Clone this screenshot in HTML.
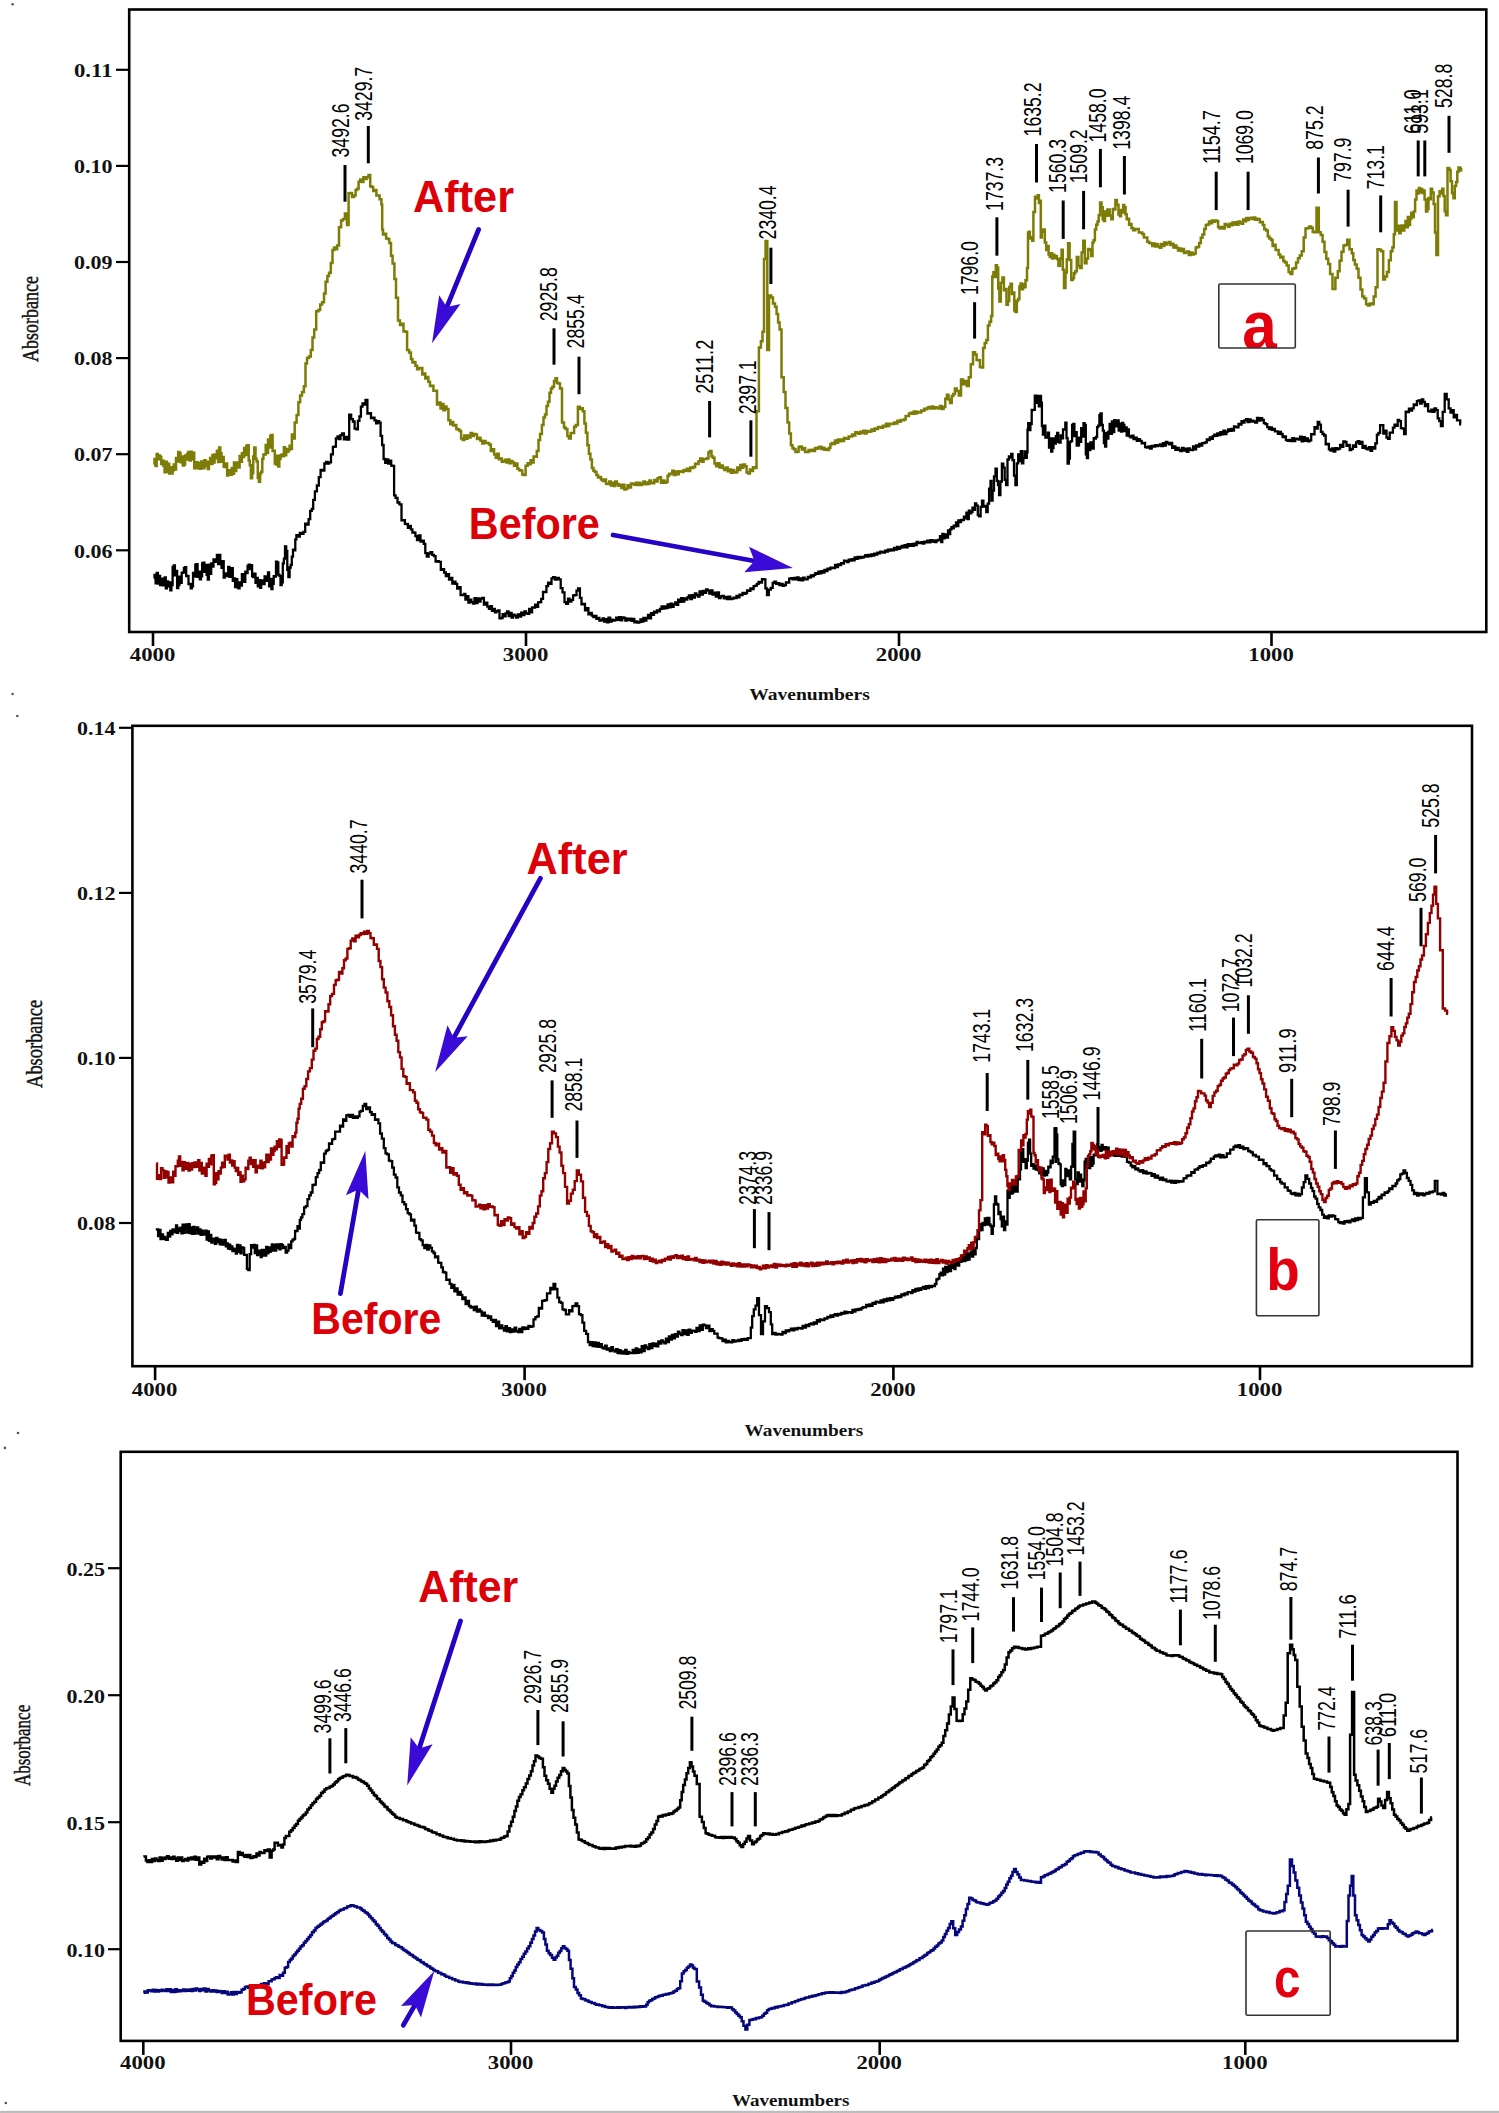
<!DOCTYPE html>
<html><head><meta charset="utf-8"><title>FTIR spectra</title>
<style>html,body{margin:0;padding:0;background:#fff;}svg{display:block;}</style>
</head><body>
<svg width="1499" height="2113" viewBox="0 0 1499 2113">
<rect width="100%" height="100%" fill="#fff"/>
<line x1="116" y1="69.8" x2="129.2" y2="69.8" stroke="#000" stroke-width="2.2" stroke-linecap="butt"/>
<text x="112.5" y="77" font-family="'Liberation Serif', serif" font-size="18" font-weight="bold" fill="#111" textLength="38.5" lengthAdjust="spacingAndGlyphs" text-anchor="end">0.11</text>
<line x1="116" y1="165.9" x2="129.2" y2="165.9" stroke="#000" stroke-width="2.2" stroke-linecap="butt"/>
<text x="112.5" y="173.1" font-family="'Liberation Serif', serif" font-size="18" font-weight="bold" fill="#111" textLength="38.5" lengthAdjust="spacingAndGlyphs" text-anchor="end">0.10</text>
<line x1="116" y1="262" x2="129.2" y2="262" stroke="#000" stroke-width="2.2" stroke-linecap="butt"/>
<text x="112.5" y="269.2" font-family="'Liberation Serif', serif" font-size="18" font-weight="bold" fill="#111" textLength="38.5" lengthAdjust="spacingAndGlyphs" text-anchor="end">0.09</text>
<line x1="116" y1="358.1" x2="129.2" y2="358.1" stroke="#000" stroke-width="2.2" stroke-linecap="butt"/>
<text x="112.5" y="365.3" font-family="'Liberation Serif', serif" font-size="18" font-weight="bold" fill="#111" textLength="38.5" lengthAdjust="spacingAndGlyphs" text-anchor="end">0.08</text>
<line x1="116" y1="454.2" x2="129.2" y2="454.2" stroke="#000" stroke-width="2.2" stroke-linecap="butt"/>
<text x="112.5" y="461.4" font-family="'Liberation Serif', serif" font-size="18" font-weight="bold" fill="#111" textLength="38.5" lengthAdjust="spacingAndGlyphs" text-anchor="end">0.07</text>
<line x1="116" y1="550.3" x2="129.2" y2="550.3" stroke="#000" stroke-width="2.2" stroke-linecap="butt"/>
<text x="112.5" y="557.5" font-family="'Liberation Serif', serif" font-size="18" font-weight="bold" fill="#111" textLength="38.5" lengthAdjust="spacingAndGlyphs" text-anchor="end">0.06</text>
<line x1="153" y1="632" x2="153" y2="646" stroke="#000" stroke-width="2.6" stroke-linecap="butt"/>
<text x="152.5" y="661" font-family="'Liberation Serif', serif" font-size="18" font-weight="bold" fill="#111" textLength="45.5" lengthAdjust="spacingAndGlyphs" text-anchor="middle">4000</text>
<line x1="526" y1="632" x2="526" y2="646" stroke="#000" stroke-width="2.6" stroke-linecap="butt"/>
<text x="525.5" y="661" font-family="'Liberation Serif', serif" font-size="18" font-weight="bold" fill="#111" textLength="45.5" lengthAdjust="spacingAndGlyphs" text-anchor="middle">3000</text>
<line x1="899" y1="632" x2="899" y2="646" stroke="#000" stroke-width="2.6" stroke-linecap="butt"/>
<text x="898.5" y="661" font-family="'Liberation Serif', serif" font-size="18" font-weight="bold" fill="#111" textLength="45.5" lengthAdjust="spacingAndGlyphs" text-anchor="middle">2000</text>
<line x1="1271.5" y1="632" x2="1271.5" y2="646" stroke="#000" stroke-width="2.6" stroke-linecap="butt"/>
<text x="1271" y="661" font-family="'Liberation Serif', serif" font-size="18" font-weight="bold" fill="#111" textLength="45.5" lengthAdjust="spacingAndGlyphs" text-anchor="middle">1000</text>
<rect x="129.2" y="9.5" width="1357.1" height="622.5" fill="none" stroke="#000" stroke-width="2.6"/>
<text x="749.2" y="700" font-family="'Liberation Serif', serif" font-size="17" font-weight="bold" fill="#111" textLength="120.6" lengthAdjust="spacingAndGlyphs" text-anchor="start">Wavenumbers</text>
<text transform="translate(37.6 361.9) rotate(-90)" font-family="'Liberation Serif', serif" font-size="24" font-weight="normal" fill="#111" textLength="86" lengthAdjust="spacingAndGlyphs" stroke="#111" stroke-width="0.45">Absorbance</text>
<polyline points="153.9,578.2 154.5,578.2 154.5,574.8 155.6,574.8 155.6,583.3 156.7,583.3 156.7,572.8 157.9,572.8 157.9,583.5 159,583.5 159,576 160.1,576 160.1,585 161.3,585 161.3,578.7 162.4,578.7 162.4,585.3 163.5,585.3 163.5,581.6 164.7,581.6 164.7,577.3 165.8,577.3 165.8,588.3 166.9,588.3 166.9,581.4 168.1,581.4 168.1,586.4 169.2,586.4 169.2,582.4 170.3,582.4 170.3,590.4 171.4,590.4 171.4,585 172.6,585 172.6,566.9 173.8,566.9 173.8,565.3 174.9,565.3 174.9,575.4 176,575.4 176,570.9 177.1,570.9 177.1,588.2 178.2,588.2 178.2,585 179.4,585 179.4,576.7 180.5,576.7 180.5,582.9 181.7,582.9 181.7,572.8 182.8,572.8 182.8,572.5 183.9,572.5 183.9,568 185.1,568 185.1,567.2 186.2,567.2 186.2,576.2 187.3,576.2 187.3,576 188.5,576 188.5,584.1 189.6,584.1 189.6,583.8 190.7,583.8 190.7,588.4 191.9,588.4 191.9,586.3 193,586.3 193,572.8 194.2,572.8 194.2,576.6 195.3,576.6 195.3,564.6 196.5,564.6 196.5,564.1 197.6,564.1 197.6,576.8 198.7,576.8 198.7,571.6 199.8,571.6 199.8,579.3 201,579.3 201,576.4 202.1,576.4 202.1,563.5 203.3,563.5 203.3,562.6 204.4,562.6 204.4,571.9 205.5,571.9 205.5,565 206.6,565 206.6,574.8 207.8,574.8 207.8,579.7 208.9,579.7 208.9,564.6 210.1,564.6 210.1,573.8 211.2,573.8 211.2,563.5 212.3,563.5 212.3,566.7 213.5,566.7 213.5,559.4 214.6,559.4 214.6,560.1 215.8,560.1 215.8,561.8 216.9,561.8 216.9,554.9 218.1,554.9 218.1,564.2 219.2,564.2 219.2,554.9 220.3,554.9 220.3,561.2 221.5,561.2 221.5,567.9 222.6,567.9 222.6,561.2 223.7,561.2 223.7,577.5 224.8,577.5 224.8,574.8 226,574.8 226,573.3 227.1,573.3 227.1,576.2 228.2,576.2 228.2,567 229.4,567 229.4,576.8 230.5,576.8 230.5,572.5 231.7,572.5 231.7,568.1 232.8,568.1 232.8,580.8 233.9,580.8 233.9,578.4 235.1,578.4 235.1,587.2 236.2,587.2 236.2,579.2 237.3,579.2 237.3,587.3 238.5,587.3 238.5,588.4 239.6,588.4 239.6,582.5 240.8,582.5 240.8,585.5 241.9,585.5 241.9,574.1 243,574.1 243,579.3 244.2,579.3 244.2,581.9 245.3,581.9 245.3,571.7 246.4,571.7 246.4,573 247.6,573 247.6,565.9 248.7,565.9 248.7,564.6 249.9,564.6 249.9,569.1 251,569.1 251,565.1 252.1,565.1 252.1,576.1 253.2,576.1 253.2,577.1 254.4,577.1 254.4,573.7 255.5,573.7 255.5,582.8 256.7,582.8 256.7,577.8 257.8,577.8 257.8,586.4 258.9,586.4 258.9,580.1 260.1,580.1 260.1,587.8 261.2,587.8 261.2,583.9 262.4,583.9 262.4,580.5 263.5,580.5 263.5,584.1 264.6,584.1 264.6,576.5 265.7,576.5 265.7,577.1 266.9,577.1 266.9,580.9 268,580.9 268,572.5 269.1,572.5 269.1,586.3 270.3,586.3 270.3,578.8 271.4,578.8 271.4,589.1 272.5,589.1 272.5,583.9 273.7,583.9 273.7,576.2 274.8,576.2 274.8,576.5 276,576.5 276,561.6 277.1,561.6 277.1,562.3 278.3,562.3 278.3,574.7 279.4,574.7 279.4,575.8 280.5,575.8 280.5,585 281.7,585 281.7,582.3 282.8,582.3 282.8,563.4 283.9,563.4 283.9,558.6 285,558.6 285,546.4 286.2,546.4 286.2,551 287.3,551 287.3,569.9 288.4,569.9 288.4,577.1 289.6,577.1 289.6,567.5 290.7,567.5 290.7,564.9 291.8,564.9 291.8,556.6 293,556.6 293,549.6 294.1,549.6 294.1,550.4 295.3,550.4 295.3,539.4 296.4,539.4 296.4,535.1 297.9,535.1 297.9,536.7 299.8,536.7 299.8,532.9 301.7,532.9 301.7,533.9 303.5,533.9 303.5,531.8 305.2,531.8 305.2,523.7 306.9,523.7 306.9,524.6 308.6,524.6 308.6,519.2 310.2,519.2 310.2,510.8 311.8,510.8 311.8,508.9 313.2,508.9 313.2,499.8 314.9,499.8 314.9,491.3 316.9,491.3 316.9,485.5 318.8,485.5 318.8,477.1 320.6,477.1 320.6,469.8 322.5,469.8 322.5,470.6 324.4,470.6 324.4,463.5 326.1,463.5 326.1,462 327.6,462 327.6,463.7 329.1,463.7 329.1,462.4 331,462.4 331,454.4 332.9,454.4 332.9,446.8 334.4,446.8 334.4,446.6 335.9,446.6 335.9,438.5 337.5,438.5 337.5,436.4 339,436.4 339,439.1 340.5,439.1 340.5,435.1 342.1,435.1 342.1,433.5 343.9,433.5 343.9,439.3 345.6,439.3 345.6,437 347.2,437 347.2,439.6 349.2,439.6 349.2,414.7 351.2,414.7 351.2,419.1 352.9,419.1 352.9,421.5 354.6,421.5 354.6,428.6 356.4,428.6 356.4,429.4 357.9,429.4 357.9,420.8 359.4,420.8 359.4,416.5 360.9,416.5 360.9,406.7 362.5,406.7 362.5,403.3 364,403.3 364,404.7 365.5,404.7 365.5,399.9 367.4,399.9 367.4,413.5 369.4,413.5 369.4,413.2 371,413.2 371,418.1 372.8,418.1 372.8,417.7 374.5,417.7 374.5,420.3 376.1,420.3 376.1,423.4 377.6,423.4 377.6,421.2 379.1,421.2 379.1,422.6 380.6,422.6 380.6,435.8 382.1,435.8 382.1,445 383.6,445 383.6,459 385.2,459 385.2,462.8 386.7,462.8 386.7,459.3 388.2,459.3 388.2,463.6 389.7,463.6 389.7,460.7 391.2,460.7 391.2,465.6 392.7,465.6 392.7,465.8 394.1,465.8 394.1,495.3 395.6,495.3 395.6,497.8 397.5,497.8 397.5,502.5 399.4,502.5 399.4,504.4 401.5,504.4 401.5,520.3 403.4,520.3 403.4,520.2 404.9,520.2 404.9,523.9 406.4,523.9 406.4,524 407.9,524 407.9,527.8 409.4,527.8 409.4,526 410.9,526 410.9,529.4 412.4,529.4 412.4,532.5 413.9,532.5 413.9,532.6 415.4,532.6 415.4,536.2 417,536.2 417,540 418.8,540 418.8,535.5 420.5,535.5 420.5,541.7 422.1,541.7 422.1,540.7 423.8,540.7 423.8,543.8 425.3,543.8 425.3,553.2 426.8,553.2 426.8,556.6 428.6,556.6 428.6,553.5 430.4,553.5 430.4,552.1 432.2,552.1 432.2,554.9 433.9,554.9 433.9,556.2 435.6,556.2 435.6,561.7 437.4,561.7 437.4,561.2 439,561.2 439,561.8 440.8,561.8 440.8,569.8 442.5,569.8 442.5,569.2 444.1,569.2 444.1,572.5 445.8,572.5 445.8,576.2 447.4,576.2 447.4,574.1 449,574.1 449,579.7 450.6,579.7 450.6,577.8 452.3,577.8 452.3,583.6 453.9,583.6 453.9,581.6 455.5,581.6 455.5,583.9 457.2,583.9 457.2,588.6 458.9,588.6 458.9,587.2 460.6,587.2 460.6,595.1 462.3,595.1 462.3,595.2 463.9,595.2 463.9,594 465.4,594 465.4,599.7 466.9,599.7 466.9,596.2 468.4,596.2 468.4,602.6 469.9,602.6 469.9,599.6 471.4,599.6 471.4,602.1 473,602.1 473,603.7 474.5,603.7 474.5,598.2 476,598.2 476,603.1 477.5,603.1 477.5,598.3 479,598.3 479,601.7 480.5,601.7 480.5,598.7 482.2,598.7 482.2,598 483.9,598 483.9,604.6 485.6,604.6 485.6,602.6 487.3,602.6 487.3,606.6 488.9,606.6 488.9,608.8 490.4,608.8 490.4,606.2 491.9,606.2 491.9,610.9 493.4,610.9 493.4,608.9 494.9,608.9 494.9,612.4 496.4,612.4 496.4,611.1 498,611.1 498,610.4 499.5,610.4 499.5,618.4 501,618.4 501,618 502.6,618 502.6,614.2 504.1,614.2 504.1,616.4 505.6,616.4 505.6,613.4 507.1,613.4 507.1,611.5 508.6,611.5 508.6,616.1 510.1,616.1 510.1,613 511.6,613 511.6,617.5 513.1,617.5 513.1,614.7 514.6,614.7 514.6,615.7 516.2,615.7 516.2,617.7 517.8,617.7 517.8,614.5 519.5,614.5 519.5,616.7 521.1,616.7 521.1,612.7 522.7,612.7 522.7,615.1 524.4,615.1 524.4,611.5 526,611.5 526,613.4 527.6,613.4 527.6,613.9 529.1,613.9 529.1,608.9 530.6,608.9 530.6,612.4 532.1,612.4 532.1,607.3 533.6,607.3 533.6,607.6 535.1,607.6 535.1,604.6 536.6,604.6 536.6,606.8 538.1,606.8 538.1,602.4 539.6,602.4 539.6,602.1 541.2,602.1 541.2,598.9 543,598.9 543,591.9 544.6,591.9 544.6,592 546.4,592 546.4,586.2 548.1,586.2 548.1,582.6 549.8,582.6 549.8,583.9 551.5,583.9 551.5,578.3 553.1,578.3 553.1,577.1 555,577.1 555,579.6 556.9,579.6 556.9,577.8 558.8,577.8 558.8,579.3 560.7,579.3 560.7,588.2 562.5,588.2 562.5,592.4 564.5,592.4 564.5,602.1 566.2,602.1 566.2,603.8 568,603.8 568,598.7 569.6,598.7 569.6,601.6 571.4,601.6 571.4,599.8 573.1,599.8 573.1,595.3 574.8,595.3 574.8,595.1 576.5,595.1 576.5,590.6 578.1,590.6 578.1,588.4 579.9,588.4 579.9,597.8 581.5,597.8 581.5,604.3 583.2,604.3 583.2,604 585,604 585,610.3 586.6,610.3 586.6,608.1 588.4,608.1 588.4,614.3 590,614.3 590,612.8 591.8,612.8 591.8,615.7 593.4,615.7 593.4,617.2 594.9,617.2 594.9,615.9 596.4,615.9 596.4,618.9 597.9,618.9 597.9,617.9 599.4,617.9 599.4,620.7 600.9,620.7 600.9,620.2 602.5,620.2 602.5,618.5 604,618.5 604,621.6 605.5,621.6 605.5,619.2 607,619.2 607,622.4 608.5,622.4 608.5,617.7 610.1,617.7 610.1,621.5 611.6,621.5 611.6,619.7 613.1,619.7 613.1,620.6 614.6,620.6 614.6,620.2 616.2,620.2 616.2,617.6 617.7,617.6 617.7,619.9 619.2,619.9 619.2,617.2 620.7,617.2 620.7,620.3 622.2,620.3 622.2,617.3 623.7,617.3 623.7,618 625.3,618 625.3,620.6 626.8,620.6 626.8,618.6 628.3,618.6 628.3,620.2 629.8,620.2 629.8,618.7 631.3,618.7 631.3,620.9 632.8,620.9 632.8,618.9 634.3,618.9 634.3,622.4 635.8,622.4 635.8,621.3 637.3,621.3 637.3,622.5 638.9,622.5 638.9,622.2 640.4,622.2 640.4,619.3 641.9,619.3 641.9,621.6 643.4,621.6 643.4,617.8 644.9,617.8 644.9,620.5 646.4,620.5 646.4,618 648,618 648,614.9 649.5,614.9 649.5,618.4 651,618.4 651,613.1 652.5,613.1 652.5,614.8 654,614.8 654,611.6 655.5,611.6 655.5,612.7 657,612.7 657,610.5 658.5,610.5 658.5,611.3 660,611.3 660,608.9 661.6,608.9 661.6,606.5 663.1,606.5 663.1,608.6 664.6,608.6 664.6,606.4 666.1,606.4 666.1,608 667.6,608 667.6,604.5 669.1,604.5 669.1,607.3 670.6,607.3 670.6,603.6 672.1,603.6 672.1,606.8 673.6,606.8 673.6,604.3 675.2,604.3 675.2,602.3 676.7,602.3 676.7,604.8 678.2,604.8 678.2,599.7 679.7,599.7 679.7,601.8 681.2,601.8 681.2,598.2 682.8,598.2 682.8,601.7 684.3,601.7 684.3,598.4 685.8,598.4 685.8,599.6 687.3,599.6 687.3,597.5 688.9,597.5 688.9,595.4 690.4,595.4 690.4,599 691.9,599 691.9,595.2 693.4,595.2 693.4,597.6 694.9,597.6 694.9,593.3 696.4,593.3 696.4,595.2 697.9,595.2 697.9,596.6 699.5,596.6 699.5,591.5 701.2,591.5 701.2,594.6 702.8,594.6 702.8,590.9 704.4,590.9 704.4,592.8 706.1,592.8 706.1,589.4 707.7,589.4 707.7,590.7 709.3,590.7 709.3,593.5 710.9,593.5 710.9,590.4 712.5,590.4 712.5,594.7 714.1,594.7 714.1,592.7 715.8,592.7 715.8,596.5 717.4,596.5 717.4,592.5 719,592.5 719,598.1 720.6,598.1 720.6,596.4 722.2,596.4 722.2,595.8 723.8,595.8 723.8,598.3 725.4,598.3 725.4,596.8 727,596.8 727,599.1 728.7,599.1 728.7,596.7 730.3,596.7 730.3,599 731.9,599 731.9,598.7 733.5,598.7 733.5,597.7 735,597.7 735,598.2 736.5,598.2 736.5,595.9 738,595.9 738,597.4 739.5,597.4 739.5,594.7 741,594.7 741,595.2 742.5,595.2 742.5,593 744,593 744,593.9 745.5,593.9 745.5,593 747.1,593 747.1,590.5 748.7,590.5 748.7,590.8 750.4,590.8 750.4,588.4 752,588.4 752,589 753.6,589 753.6,586.1 755.3,586.1 755.3,585.6 756.9,585.6 756.9,583.9 758.6,583.9 758.6,581.9 760.2,581.9 760.2,582.7 762,582.7 762,579.2 763.6,579.2 763.6,579.3 765.4,579.3 765.4,588.4 767,588.4 767,595.2 768.8,595.2 768.8,589.6 770.8,589.6 770.8,587.8 772.7,587.8 772.7,582.8 774.4,582.8 774.4,581.7 776,581.7 776,583.8 777.7,583.8 777.7,583.2 779.3,583.2 779.3,585 780.9,585 780.9,583.8 782.6,583.8 782.6,585.8 784.2,585.8 784.2,585 785.9,585 785.9,582.3 787.5,582.3 787.5,582.5 789.2,582.5 789.2,578.6 790.9,578.6 790.9,578.2 792.6,578.2 792.6,579.3 794.1,579.3 794.1,577.8 795.6,577.8 795.6,579.3 797.1,579.3 797.1,577.4 798.6,577.4 798.6,580.2 800.1,580.2 800.1,578.4 801.6,578.4 801.6,580.4 803.1,580.4 803.1,577.7 804.6,577.7 804.6,579.3 806.2,579.3 806.2,579.4 807.7,579.4 807.7,576.8 809.2,576.8 809.2,577.5 810.7,577.5 810.7,575.4 812.2,575.4 812.2,576.4 813.7,576.4 813.7,574.8 815.3,574.8 815.3,573.2 816.8,573.2 816.8,573.9 818.3,573.9 818.3,571.6 819.8,571.6 819.8,573.4 821.3,573.4 821.3,571.2 822.8,571.2 822.8,572.6 824.4,572.6 824.4,569.9 825.9,569.9 825.9,571.1 827.4,571.1 827.4,568.6 828.9,568.6 828.9,569.4 830.4,569.4 830.4,567.7 831.9,567.7 831.9,568 833.5,568 833.5,568 835,568 835,565 836.5,565 836.5,567.1 838,567.1 838,564.4 839.5,564.4 839.5,565.1 841,565.1 841,563.1 842.5,563.1 842.5,563.5 844,563.5 844,560.7 845.5,560.7 845.5,561.2 847.1,561.2 847.1,562.2 848.6,562.2 848.6,559.6 850.1,559.6 850.1,560.7 851.6,560.7 851.6,559.2 853.1,559.2 853.1,560.3 854.6,560.3 854.6,557.5 856.2,557.5 856.2,558.9 857.7,558.9 857.7,556.9 859.2,556.9 859.2,558 860.7,558 860.7,556.9 862.2,556.9 862.2,557.5 863.7,557.5 863.7,556.6 865.3,556.6 865.3,555.1 866.8,555.1 866.8,556.5 868.3,556.5 868.3,554.8 869.8,554.8 869.8,556.1 871.3,556.1 871.3,554.4 872.8,554.4 872.8,555.5 874.3,555.5 874.3,553.6 875.8,553.6 875.8,554.5 877.3,554.5 877.3,552.7 878.8,552.7 878.8,553.3 880.3,553.3 880.3,551.6 881.8,551.6 881.8,552.1 883.4,552.1 883.4,552.5 884.9,552.5 884.9,550.6 886.4,550.6 886.4,551.7 887.9,551.7 887.9,549.7 889.4,549.7 889.4,550.6 890.9,550.6 890.9,549.3 892.5,549.3 892.5,550.4 894,550.4 894,548 895.5,548 895.5,549.6 897,549.6 897,547 898.5,547 898.5,548.9 900,548.9 900,547.5 901.6,547.5 901.6,545.8 903.1,545.8 903.1,547.3 904.6,547.3 904.6,545.2 906.1,545.2 906.1,547.3 907.6,547.3 907.6,544.2 909.1,544.2 909.1,545.9 910.7,545.9 910.7,544.2 912.2,544.2 912.2,545.9 913.7,545.9 913.7,543.6 915.2,543.6 915.2,545.2 916.7,545.2 916.7,542 918.2,542 918.2,543 919.8,543 919.8,543.2 921.3,543.2 921.3,542.1 922.8,542.1 922.8,543.6 924.3,543.6 924.3,541.7 925.8,541.7 925.8,542.4 927.3,542.4 927.3,540.6 928.9,540.6 928.9,542.4 930.4,542.4 930.4,540.2 931.9,540.2 931.9,541.7 933.4,541.7 933.4,540.3 934.9,540.3 934.9,542 936.4,542 936.4,540.7 937.8,540.7 937.8,539.9 938.9,539.9 938.9,540.1 940,540.1 940,536.1 941.2,536.1 941.2,542.1 942.3,542.1 942.3,534 943.5,534 943.5,538.3 944.6,538.3 944.6,534.4 945.7,534.4 945.7,536.2 946.9,536.2 946.9,537.7 948,537.7 948,530.5 949.1,530.5 949.1,534 950.2,534 950.2,529.4 951.4,529.4 951.4,527.2 952.5,527.2 952.5,528.4 953.7,528.4 953.7,525.7 954.8,525.7 954.8,526.4 956,526.4 956,522.3 957.1,522.3 957.1,526.2 958.3,526.2 958.3,520.4 959.4,520.4 959.4,522 961,522 961,519.8 962.7,519.8 962.7,520 963.9,520 963.9,516.7 965.1,516.7 965.1,518.4 966.4,518.4 966.4,512.7 967.6,512.7 967.6,519.2 968.8,519.2 968.8,510.6 970,510.6 970,513.4 971.2,513.4 971.2,511.8 972.5,511.8 972.5,507.6 973.7,507.6 973.7,509.8 975,509.8 975,503.5 976.3,503.5 976.3,505.6 977.8,505.6 977.8,515.2 979.2,515.2 979.2,516.3 980.6,516.3 980.6,506.8 982,506.8 982,500.7 983.4,500.7 983.4,506.7 984.9,506.7 984.9,505.9 986.3,505.9 986.3,512 987.7,512 987.7,503.7 989.1,503.7 989.1,488.6 990.5,488.6 990.5,480.8 991.5,480.8 991.5,500.7 992.6,500.7 992.6,490.7 994,490.7 994,476.4 995.5,476.4 995.5,468.7 996.8,468.7 996.8,480.9 998,480.9 998,485 999.1,485 999.1,495 1000.4,495 1000.4,481.5 1001.9,481.5 1001.9,463.7 1003.3,463.7 1003.3,467.7 1004.7,467.7 1004.7,479.9 1006.1,479.9 1006.1,485 1007.5,485 1007.5,459.5 1008.9,459.5 1008.9,456.3 1010,456.3 1010,457.7 1011.2,457.7 1011.2,453.8 1012.5,453.8 1012.5,460.1 1014,460.1 1014,475.7 1015.4,475.7 1015.4,485 1016.8,485 1016.8,463.4 1018.2,463.4 1018.2,454.5 1019.5,454.5 1019.5,461.2 1020.8,461.2 1020.8,451.1 1022,451.1 1022,463.4 1023.3,463.4 1023.3,458.1 1024.5,458.1 1024.5,451.4 1025.7,451.4 1025.7,457.8 1026.8,457.8 1026.8,452.4 1027.5,452.4 1027.5,429.7 1028.2,429.7 1028.2,423.2 1029.3,423.2 1029.3,430 1030.4,430 1030.4,424 1031.7,424 1031.7,410 1033.1,410 1033.1,409.8 1034.8,409.8 1034.8,395.6 1036.5,395.6 1036.5,402.9 1037.6,402.9 1037.6,395.9 1038.8,395.9 1038.8,406.3 1039.9,406.3 1039.9,395.8 1041,395.8 1041,402.7 1041.9,402.7 1041.9,426.1 1042.9,426.1 1042.9,434.5 1044.2,434.5 1044.2,425.6 1045.4,425.6 1045.4,437.6 1046.7,437.6 1046.7,436.8 1047.9,436.8 1047.9,432.7 1049,432.7 1049,447.6 1050.1,447.6 1050.1,438.4 1051.2,438.4 1051.2,451.5 1052.3,451.5 1052.3,448.1 1053.5,448.1 1053.5,438.5 1054.7,438.5 1054.7,443.6 1055.9,443.6 1055.9,436.1 1057.1,436.1 1057.1,432.9 1058.2,432.9 1058.2,441.8 1059.4,441.8 1059.4,442.5 1060.6,442.5 1060.6,435.4 1061.8,435.4 1061.8,438.4 1063,438.4 1063,429.4 1064.1,429.4 1064.1,429.7 1065.3,429.7 1065.3,422.6 1066.5,422.6 1066.5,438.2 1067.6,438.2 1067.6,463.5 1068.8,463.5 1068.8,458.6 1069.9,458.6 1069.9,441.8 1071,441.8 1071,441.2 1072.1,441.2 1072.1,424.9 1073.3,424.9 1073.3,424 1074.4,424 1074.4,436.1 1075.6,436.1 1075.6,432.2 1076.7,432.2 1076.7,445.7 1077.8,445.7 1077.8,445.3 1079,445.3 1079,437.7 1080.1,437.7 1080.1,441.9 1081.2,441.9 1081.2,428.1 1082.4,428.1 1082.4,436.6 1083.5,436.6 1083.5,423.1 1084.6,423.1 1084.6,424.9 1085.8,424.9 1085.8,454.4 1086.9,454.4 1086.9,458.2 1088,458.2 1088,443.9 1089.2,443.9 1089.2,450.1 1090.3,450.1 1090.3,442.4 1091.4,442.4 1091.4,445.3 1092.6,445.3 1092.6,448.5 1093.7,448.5 1093.7,438.2 1094.8,438.2 1094.8,438.5 1096,438.5 1096,436.9 1097.1,436.9 1097.1,427.1 1098.2,427.1 1098.2,425.7 1099.4,425.7 1099.4,415.2 1100.5,415.2 1100.5,413.5 1101.7,413.5 1101.7,425 1102.8,425 1102.8,430.6 1103.9,430.6 1103.9,443 1105.1,443 1105.1,446.6 1106.2,446.6 1106.2,433 1107.3,433 1107.3,438.6 1108.4,438.6 1108.4,431.7 1109.6,431.7 1109.6,423.8 1110.7,423.8 1110.7,433.9 1111.9,433.9 1111.9,421.3 1113,421.3 1113,432 1114.2,432 1114.2,420.2 1115.3,420.2 1115.3,424.9 1116.5,424.9 1116.5,426.4 1117.6,426.4 1117.6,420.3 1118.7,420.3 1118.7,430.5 1119.8,430.5 1119.8,423.6 1121,423.6 1121,431.5 1122.1,431.5 1122.1,422.9 1123.2,422.9 1123.2,424.9 1124.4,424.9 1124.4,431 1125.5,431 1125.5,427.4 1126.7,427.4 1126.7,435.7 1127.8,435.7 1127.8,429.3 1128.9,429.3 1128.9,436.2 1130.3,436.2 1130.3,437.3 1131.9,437.3 1131.9,435.6 1133.5,435.6 1133.5,439.2 1135.2,439.2 1135.2,437.6 1136.8,437.6 1136.8,440.8 1138.4,440.8 1138.4,439.2 1140,439.2 1140,440.8 1141.7,440.8 1141.7,443.3 1143.4,443.3 1143.4,442.8 1145.1,442.8 1145.1,447.2 1146.8,447.2 1146.8,447.6 1148.5,447.6 1148.5,446.5 1150.1,446.5 1150.1,448.5 1151.7,448.5 1151.7,445.8 1153.3,445.8 1153.3,446.6 1155,446.6 1155,445.2 1156.6,445.2 1156.6,446 1158.2,446 1158.2,445.3 1159.8,445.3 1159.8,444.4 1161.3,444.4 1161.3,446.1 1162.8,446.1 1162.8,443.2 1164.3,443.2 1164.3,445.6 1165.8,445.6 1165.8,441.8 1167.3,441.8 1167.3,443 1168.9,443 1168.9,444.4 1170.5,444.4 1170.5,443 1172.2,443 1172.2,447.9 1173.8,447.9 1173.8,446.5 1175.4,446.5 1175.4,449.8 1177.1,449.8 1177.1,447.9 1178.7,447.9 1178.7,449.9 1180.3,449.9 1180.3,451 1181.9,451 1181.9,447.9 1183.5,447.9 1183.5,450.6 1185.2,450.6 1185.2,448.7 1186.8,448.7 1186.8,451.8 1188.4,451.8 1188.4,448.4 1190,448.4 1190,449.9 1191.6,449.9 1191.6,450.2 1193.1,450.2 1193.1,446.4 1194.6,446.4 1194.6,449.3 1196.1,449.3 1196.1,445.5 1197.7,445.5 1197.7,446.6 1199.2,446.6 1199.2,443.9 1200.7,443.9 1200.7,445.6 1202.2,445.6 1202.2,443.1 1203.7,443.1 1203.7,443 1205.2,443 1205.2,442.3 1206.8,442.3 1206.8,439.5 1208.2,439.5 1208.2,440.1 1209.8,440.1 1209.8,437.4 1211.2,437.4 1211.2,438.8 1212.8,438.8 1212.8,436.2 1214.3,436.2 1214.3,434.6 1215.8,434.6 1215.8,435.9 1217.3,435.9 1217.3,433.4 1218.8,433.4 1218.8,435.2 1220.3,435.2 1220.3,432.1 1221.9,432.1 1221.9,434.4 1223.4,434.4 1223.4,430.7 1224.9,430.7 1224.9,434.1 1226.4,434.1 1226.4,431.7 1228,431.7 1228,429.4 1229.5,429.4 1229.5,430.9 1231,430.9 1231,429 1232.5,429 1232.5,430.5 1234,430.5 1234,426.3 1235.5,426.3 1235.5,427.2 1237,427.2 1237,427.4 1238.5,427.4 1238.5,424 1240,424 1240,424.5 1241.5,424.5 1241.5,421.1 1243,421.1 1243,422.7 1244.5,422.7 1244.5,420.3 1246.1,420.3 1246.1,419.2 1247.6,419.2 1247.6,422.1 1249.1,422.1 1249.1,419.3 1250.6,419.3 1250.6,421.7 1252.1,421.7 1252.1,420.6 1253.6,420.6 1253.6,421.5 1255.2,421.5 1255.2,422.6 1257,422.6 1257,417.9 1258.7,417.9 1258.7,420.7 1260.3,420.7 1260.3,418.1 1262.1,418.1 1262.1,420 1263.8,420 1263.8,423.1 1265.5,423.1 1265.5,424.2 1267.2,424.2 1267.2,427.2 1268.9,427.2 1268.9,429 1270.4,429 1270.4,427.4 1271.9,427.4 1271.9,429.9 1273.4,429.9 1273.4,429 1274.9,429 1274.9,431.4 1276.4,431.4 1276.4,431.3 1277.9,431.3 1277.9,433.9 1279.4,433.9 1279.4,432 1280.9,432 1280.9,434 1282.6,434 1282.6,437.1 1284.2,437.1 1284.2,436.5 1285.9,436.5 1285.9,440.2 1287.7,440.2 1287.7,440.8 1289.3,440.8 1289.3,439.8 1290.8,439.8 1290.8,441 1292.3,441 1292.3,438.2 1293.8,438.2 1293.8,441.2 1295.3,441.2 1295.3,438.7 1296.8,438.7 1296.8,438.8 1298.4,438.8 1298.4,439.5 1300,439.5 1300,436.7 1301.6,436.7 1301.6,441.4 1303.2,441.4 1303.2,437.2 1304.8,437.2 1304.8,440.8 1306.4,440.8 1306.4,438.5 1308,438.5 1308,441.3 1309.6,441.3 1309.6,440.4 1311.2,440.4 1311.2,434.2 1312.8,434.2 1312.8,434.4 1314.5,434.4 1314.5,427.2 1316.1,427.2 1316.1,428.7 1317.7,428.7 1317.7,422 1319.3,422 1319.3,424.7 1320.9,424.7 1320.9,431.8 1322.5,431.8 1322.5,434 1324.1,434 1324.1,435.5 1325.7,435.5 1325.7,444.4 1327.3,444.4 1327.3,443.9 1328.9,443.9 1328.9,449.3 1330.5,449.3 1330.5,450.6 1332.1,450.6 1332.1,448.3 1333.7,448.3 1333.7,451.6 1335.3,451.6 1335.3,448.1 1336.9,448.1 1336.9,449.3 1338.5,449.3 1338.5,448.5 1340.1,448.5 1340.1,445 1341.7,445 1341.7,446.9 1343.3,446.9 1343.3,441.4 1344.9,441.4 1344.9,442 1346.5,442 1346.5,445.9 1348.1,445.9 1348.1,444.9 1349.7,444.9 1349.7,450 1351.3,450 1351.3,448.9 1352.9,448.9 1352.9,445.5 1354.5,445.5 1354.5,446.9 1356.1,446.9 1356.1,442.3 1357.7,442.3 1357.7,441.2 1359.3,441.2 1359.3,443.9 1360.9,443.9 1360.9,441.8 1362.5,441.8 1362.5,447.8 1364.1,447.8 1364.1,445.9 1365.7,445.9 1365.7,448.5 1367.3,448.5 1367.3,449.3 1368.9,449.3 1368.9,447.1 1370.5,447.1 1370.5,450.8 1372.1,450.8 1372.1,447.1 1373.7,447.1 1373.7,448.5 1375.3,448.5 1375.3,443.4 1376.9,443.4 1376.9,434.6 1378.5,434.6 1378.5,432.9 1380.1,432.9 1380.1,425.2 1381.7,425.2 1381.7,425.1 1383.3,425.1 1383.3,433.5 1384.9,433.5 1384.9,430.6 1386.5,430.6 1386.5,437.6 1388.1,437.6 1388.1,438.8 1389.7,438.8 1389.7,432.6 1391.3,432.6 1391.3,432.6 1392.9,432.6 1392.9,427.6 1394.5,427.6 1394.5,424.7 1396.1,424.7 1396.1,425.9 1397.7,425.9 1397.7,420 1399.3,420 1399.3,421.2 1400.9,421.2 1400.9,428.2 1402.5,428.2 1402.5,428.7 1404.1,428.7 1404.1,434 1405.7,434 1405.7,411.6 1407.3,411.6 1407.3,412.2 1408.9,412.2 1408.9,408.6 1410.5,408.6 1410.5,410.6 1412.1,410.6 1412.1,408.4 1413.7,408.4 1413.7,404.5 1415.3,404.5 1415.3,405 1416.9,405 1416.9,401.2 1418.5,401.2 1418.5,400.5 1420.1,400.5 1420.1,403.5 1421.7,403.5 1421.7,399.3 1423.3,399.3 1423.3,402 1424.9,402 1424.9,406.2 1426.5,406.2 1426.5,404.2 1428.1,404.2 1428.1,411.1 1429.7,411.1 1429.7,411.6 1431.3,411.6 1431.3,409.6 1432.9,409.6 1432.9,411.9 1434.5,411.9 1434.5,408.4 1436.1,408.4 1436.1,410.1 1437.7,410.1 1437.7,418.4 1439.3,418.4 1439.3,421.1 1440.9,421.1 1440.9,426 1442.7,426 1442.7,411.8 1444.7,411.8 1444.7,394 1446.7,394 1446.7,399.4 1448.7,399.4 1448.7,408.4 1450.5,408.4 1450.5,412.6 1452.1,412.6 1452.1,410.1 1453.7,410.1 1453.7,417.4 1455.3,417.4 1455.3,415 1457,415 1457,420.4 1458.6,420.4 1458.6,420.3 1460.2,420.3 1460.2,424.4 1461,424.4" fill="none" stroke="#000" stroke-width="2.3" stroke-linejoin="miter" stroke-miterlimit="3" />
<polyline points="153.9,464.6 154.5,464.6 154.5,458.9 155.6,458.9 155.6,465.9 156.7,465.9 156.7,454.1 157.8,454.1 157.8,459.2 158.9,459.2 158.9,455.5 160.1,455.5 160.1,457 161.2,457 161.2,463.9 162.3,463.9 162.3,460.5 163.4,460.5 163.4,465.8 164.6,465.8 164.6,472.2 165.7,472.2 165.7,461.8 166.9,461.8 166.9,472.1 168,472.1 168,463.7 169.2,463.7 169.2,473.6 170.3,473.6 170.3,467.3 171.5,467.3 171.5,473.4 172.6,473.4 172.6,470.3 173.8,470.3 173.8,464.6 174.9,464.6 174.9,469.4 176,469.4 176,457.9 177.1,457.9 177.1,461.6 178.2,461.6 178.2,452 179.4,452 179.4,453 180.5,453 180.5,462.2 181.7,462.2 181.7,456.5 182.8,456.5 182.8,465.5 183.9,465.5 183.9,464.6 185.1,464.6 185.1,455.4 186.2,455.4 186.2,459.5 187.3,459.5 187.3,453.7 188.4,453.7 188.4,452 189.6,452 189.6,460.4 190.7,460.4 190.7,451.8 191.9,451.8 191.9,459.3 193,459.3 193,452.7 194.2,452.7 194.2,468.3 195.3,468.3 195.3,463.5 196.5,463.5 196.5,462.3 197.6,462.3 197.6,468.2 198.7,468.2 198.7,463.3 199.9,463.3 199.9,468.7 201,468.7 201,461.6 202.1,461.6 202.1,466.9 203.3,466.9 203.3,468.2 204.4,468.2 204.4,460.2 205.5,460.2 205.5,466 206.7,466 206.7,461.8 207.8,461.8 207.8,469.1 208.9,469.1 208.9,462.4 210.1,462.4 210.1,458.1 211.2,458.1 211.2,464.1 212.4,464.1 212.4,455.1 213.5,455.1 213.5,462.6 214.6,462.6 214.6,454.5 215.8,454.5 215.8,458.2 216.9,458.2 216.9,450.7 218.1,450.7 218.1,461.9 219.2,461.9 219.2,447.4 220.3,447.4 220.3,453.3 221.5,453.3 221.5,461.7 222.6,461.7 222.6,456.9 223.7,456.9 223.7,466.7 224.8,466.7 224.8,466.9 226,466.9 226,463.4 227.1,463.4 227.1,475.4 228.3,475.4 228.3,470.3 229.4,470.3 229.4,473.7 230.6,473.7 230.6,474.8 231.7,474.8 231.7,467.9 232.8,467.9 232.8,473.8 234,473.8 234,462.6 235.1,462.6 235.1,471.1 236.2,471.1 236.2,465.8 237.4,465.8 237.4,462.5 238.5,462.5 238.5,467.6 239.6,467.6 239.6,456 240.8,456 240.8,461.7 241.9,461.7 241.9,453.2 243,453.2 243,457.1 244.1,457.1 244.1,448.1 245.3,448.1 245.3,455 246.4,455 246.4,445.7 247.5,445.7 247.5,445.3 248.7,445.3 248.7,460.6 249.8,460.6 249.8,465.2 250.9,465.2 250.9,478.3 252.1,478.3 252.1,473.3 253.2,473.3 253.2,456.6 254.3,456.6 254.3,447.6 255.5,447.6 255.5,458.8 256.6,458.8 256.6,461.6 257.8,461.6 257.8,478 258.9,478 258.9,481.7 260.1,481.7 260.1,473.5 261.2,473.5 261.2,471.8 262.3,471.8 262.3,458.9 263.4,458.9 263.4,454.4 264.6,454.4 264.6,454.4 265.7,454.4 265.7,445 266.9,445 266.9,452.9 268,452.9 268,439.5 269.1,439.5 269.1,447.4 270.3,447.4 270.3,435.8 271.4,435.8 271.4,435.1 272.6,435.1 272.6,451.1 273.7,451.1 273.7,450.8 274.8,450.8 274.8,463.5 276,463.5 276,464.5 277.1,464.5 277.1,455.7 278.2,455.7 278.2,466.5 279.3,466.5 279.3,458.9 280.5,458.9 280.5,455.6 281.6,455.6 281.6,454.4 282.8,454.4 282.8,456.3 283.9,456.3 283.9,447.3 285,447.3 285,455.2 286.2,455.2 286.2,448.9 287.3,448.9 287.3,451.8 288.4,451.8 288.4,449.9 289.6,449.9 289.6,445.8 290.7,445.8 290.7,448.9 291.9,448.9 291.9,434.4 293,434.4 293,438.5 294.7,438.5 294.7,422.6 296.6,422.6 296.6,414.9 298.4,414.9 298.4,402.2 300.1,402.2 300.1,395.5 302,395.5 302,392 303.9,392 303.9,386.3 305.5,386.3 305.5,363.5 307,363.5 307,357.9 308.9,357.9 308.9,356.5 310.8,356.5 310.8,349.9 312.5,349.9 312.5,337.6 314.2,337.6 314.2,329.5 316.2,329.5 316.2,311.3 318.4,311.3 318.4,310 320.2,310 320.2,304.4 322.1,304.4 322.1,302.2 324,302.2 324,293.5 325.6,293.5 325.6,281.8 327.4,281.8 327.4,275.9 329,275.9 329,272.7 330.8,272.7 330.8,263.1 332.5,263.1 332.5,250 334.1,250 334.1,247.5 335.6,247.5 335.6,249.3 337.1,249.3 337.1,245.4 339,245.4 339,227.2 341.1,227.2 341.1,220.4 343,220.4 343,218.9 344.9,218.9 344.9,213.6 347,213.6 347,225 348.6,225 348.6,193.2 350.1,193.2 350.1,192.9 352,192.9 352,196.9 353.9,196.9 353.9,195.4 355.6,195.4 355.6,189.9 357.1,189.9 357.1,188.7 358.6,188.7 358.6,181.8 360.2,181.8 360.2,179.4 361.8,179.4 361.8,181.9 363.4,181.9 363.4,177.2 365,177.2 365,179 366.6,179 366.6,177.3 368.5,177.3 368.5,175 370.2,175 370.2,186.3 371.6,186.3 371.6,187.1 373.2,187.1 373.2,190.9 374.8,190.9 374.8,189.9 376.4,189.9 376.4,195.4 378,195.4 378,195.4 379.6,195.4 379.6,199.3 381.4,199.3 381.4,204.5 382.2,204.5 382.2,229.5 383,229.5 383,234.5 384.6,234.5 384.6,233.7 386.1,233.7 386.1,238.5 387.7,238.5 387.7,239.1 389.3,239.1 389.3,243.1 391,243.1 391,255.8 392.6,255.8 392.6,263.6 394.4,263.6 394.4,279.1 396,279.1 396,297.7 398,297.7 398,320.4 400,320.4 400,324.9 401.8,324.9 401.8,323.7 403.5,323.7 403.5,331.3 405.1,331.3 405.1,331.7 407.1,331.7 407.1,349.9 409.1,349.9 409.1,352.5 410.9,352.5 410.9,359 412.4,359 412.4,362.5 413.9,362.5 413.9,361.9 415.4,361.9 415.4,365.8 417.1,365.8 417.1,369.2 419.1,369.2 419.1,368.1 420.8,368.1 420.8,367.9 422.3,367.9 422.3,374.6 423.8,374.6 423.8,373.6 425.3,373.6 425.3,378.6 426.8,378.6 426.8,377.1 428.3,377.1 428.3,381.7 430,381.7 430,385.9 431.6,385.9 431.6,385.8 433.4,385.8 433.4,390.8 435,390.8 435,390.8 437,390.8 437,404.4 439,404.4 439,402.4 440.5,402.4 440.5,408.4 442,408.4 442,404 443.5,404 443.5,410.2 445,410.2 445,406.4 446.5,406.4 446.5,409 448.4,409 448.4,420.3 450.3,420.3 450.3,424.3 451.8,424.3 451.8,421.9 453.3,421.9 453.3,425.6 454.8,425.6 454.8,425 456.3,425 456.3,429.1 457.8,429.1 457.8,429.4 459.5,429.4 459.5,431.1 461.1,431.1 461.1,438.5 462.8,438.5 462.8,440.1 464.3,440.1 464.3,435.5 465.9,435.5 465.9,438.8 467.5,438.8 467.5,435.5 469,435.5 469,437.5 470.6,437.5 470.6,432.9 472.2,432.9 472.2,436 473.7,436 473.7,434 475.4,434 475.4,434.6 477,434.6 477,438.9 478.8,438.9 478.8,437.8 480.5,437.8 480.5,440.8 482.2,440.8 482.2,443.5 483.9,443.5 483.9,441.1 485.6,441.1 485.6,443.1 487.3,443.1 487.3,443 489,443 489,444.6 490.8,444.6 490.8,450.9 492.5,450.9 492.5,449.2 494.1,449.2 494.1,454.4 495.8,454.4 495.8,457.7 497.3,457.7 497.3,453.8 498.8,453.8 498.8,459.2 500.3,459.2 500.3,458.4 501.8,458.4 501.8,461.8 503.3,461.8 503.3,461.2 504.9,461.2 504.9,459.8 506.4,459.8 506.4,462.5 507.9,462.5 507.9,459.6 509.4,459.6 509.4,463.3 510.9,463.3 510.9,461.1 512.4,461.1 512.4,462.4 514,462.4 514,465.7 515.7,465.7 515.7,463.5 517.4,463.5 517.4,468.8 519.1,468.8 519.1,470.3 520.8,470.3 520.8,470.5 522.2,470.5 522.2,474.5 523.8,474.5 523.8,474.9 525.6,474.9 525.6,465.8 527.6,465.8 527.6,463.3 529.1,463.3 529.1,464.3 530.6,464.3 530.6,460.2 532.1,460.2 532.1,462.5 533.6,462.5 533.6,456.5 535.1,456.5 535.1,456.7 536.8,456.7 536.8,451 538.5,451 538.5,439.9 540.1,439.9 540.1,433.9 541.9,433.9 541.9,424.9 543.5,424.9 543.5,417.5 545,417.5 545,414.5 546.5,414.5 546.5,406 548,406 548,401.7 549.5,401.7 549.5,392.8 551,392.8 551,388.5 552.5,388.5 552.5,386.8 554,386.8 554,381 555.5,381 555.5,378.3 557,378.3 557,382.9 558.5,382.9 558.5,383.5 560,383.5 560,388.5 562,388.5 562,422.6 564,422.6 564,427.5 565.6,427.5 565.6,429.1 567.4,429.1 567.4,436 569,436 569,438.5 570.8,438.5 570.8,433.1 572.5,433.1 572.5,432.9 574.1,432.9 574.1,426.8 575.9,426.8 575.9,424.9 577.9,424.9 577.9,406.7 579.8,406.7 579.8,409.1 581.3,409.1 581.3,408.2 582.8,408.2 582.8,411.3 584.4,411.3 584.4,423.5 585.9,423.5 585.9,432.8 587.4,432.8 587.4,445.3 588.9,445.3 588.9,453.8 590.4,453.8 590.4,459.6 591.9,459.6 591.9,468 593.4,468 593.4,470.8 594.9,470.8 594.9,471.9 596.4,471.9 596.4,474.9 598,474.9 598,477.6 599.5,477.6 599.5,477 601,477 601,479.4 602.6,479.4 602.6,481 604.2,481 604.2,479.6 606,479.6 606,483.8 607.6,483.8 607.6,483.9 609.3,483.9 609.3,481.5 610.8,481.5 610.8,485.5 612.3,485.5 612.3,482.7 613.8,482.7 613.8,486.1 615.3,486.1 615.3,481.6 616.8,481.6 616.8,483.9 618.4,483.9 618.4,485.7 619.9,485.7 619.9,484.8 621.4,484.8 621.4,487.9 622.9,487.9 622.9,484.8 624.4,484.8 624.4,489.4 625.9,489.4 625.9,488.5 627.6,488.5 627.6,485.3 629.2,485.3 629.2,487.5 631,487.5 631,483.4 632.6,483.4 632.6,483.9 634.3,483.9 634.3,484.8 635.8,484.8 635.8,482.7 637.3,482.7 637.3,485.1 638.8,485.1 638.8,482.7 640.3,482.7 640.3,485.1 641.8,485.1 641.8,483.9 643.4,483.9 643.4,481.6 644.9,481.6 644.9,484.3 646.4,484.3 646.4,482.5 647.9,482.5 647.9,484.1 649.4,484.1 649.4,480.5 650.9,480.5 650.9,482.8 652.6,482.8 652.6,483.2 654.2,483.2 654.2,480.1 656,480.1 656,481.6 657.6,481.6 657.6,478.3 659.4,478.3 659.4,477.2 661,477.2 661,482.7 662.8,482.7 662.8,480.5 664.4,480.5 664.4,482.8 666.1,482.8 666.1,481.7 667.6,481.7 667.6,475.7 669.1,475.7 669.1,473.7 670.7,473.7 670.7,474 672.3,474 672.3,470.8 673.9,470.8 673.9,474.9 675.5,474.9 675.5,471.6 677.2,471.6 677.2,474.3 678.8,474.3 678.8,471.3 680.4,471.3 680.4,471.4 682,471.4 682,471.9 683.6,471.9 683.6,470 685.3,470 685.3,470.7 686.9,470.7 686.9,468.7 688.5,468.7 688.5,470.9 690.2,470.9 690.2,467.5 691.8,467.5 691.8,468 693.5,468 693.5,467.1 695.1,467.1 695.1,463.8 696.9,463.8 696.9,463.9 698.5,463.9 698.5,461.2 700.2,461.2 700.2,458.4 702,458.4 702,461.8 703.6,461.8 703.6,459 705.4,459 705.4,459 707,459 707,458.2 708.5,458.2 708.5,452.2 710,452.2 710,451 711.5,451 711.5,456.5 713,456.5 713,457.8 714.5,457.8 714.5,463.5 716.1,463.5 716.1,466.2 717.8,466.2 717.8,463.2 719.5,463.2 719.5,467.6 721.1,467.6 721.1,465.4 722.8,465.4 722.8,468 724.4,468 724.4,470 726,470 726,467.6 727.7,467.6 727.7,471.2 729.3,471.2 729.3,469.4 730.9,469.4 730.9,472.8 732.6,472.8 732.6,470 734.2,470 734.2,472.6 735.8,472.6 735.8,472.2 737.3,472.2 737.3,467.6 738.8,467.6 738.8,470 740.3,470 740.3,465.1 741.8,465.1 741.8,467.8 743.3,467.8 743.3,464.6 745,464.6 745,466.2 746.6,466.2 746.6,472.6 748.3,472.6 748.3,473.5 749.9,473.5 749.9,469.5 751.5,469.5 751.5,471.1 753,471.1 753,467.3 754.6,467.3 754.6,468 756.5,468 756.5,411.3 758.9,411.3 758.9,347.6 760.9,347.6 760.9,341.2 762.5,341.2 762.5,331.7 764,331.7 764,259 765.6,259 765.6,240.9 767.3,240.9 767.3,349.9 769,349.9 769,295.4 771.2,295.4 771.2,297.4 773,297.4 773,303.5 775,303.5 775,306.7 776.6,306.7 776.6,313.9 778.1,313.9 778.1,322.4 779.6,322.4 779.6,329.5 781.5,329.5 781.5,377.2 783.7,377.2 783.7,391.9 785.5,391.9 785.5,407.9 787.5,407.9 787.5,422.6 789.2,422.6 789.2,433.6 790.9,433.6 790.9,445.3 792.5,445.3 792.5,448.3 794,448.3 794,449.3 795.5,449.3 795.5,452.1 797.1,452.1 797.1,451.7 798.6,451.7 798.6,447 800.1,447 800.1,446.5 801.8,446.5 801.8,449.4 803.5,449.4 803.5,447.9 805.1,447.9 805.1,451.9 806.9,451.9 806.9,452.1 808.5,452.1 808.5,450 810.1,450 810.1,451.1 811.7,451.1 811.7,449.7 813.4,449.7 813.4,450.9 815,450.9 815,448.1 816.6,448.1 816.6,448.7 818.2,448.7 818.2,447.6 819.8,447.6 819.8,446.8 821.3,446.8 821.3,449.1 822.8,449.1 822.8,447.8 824.3,447.8 824.3,449.8 825.8,449.8 825.8,449 827.3,449 827.3,449.9 828.9,449.9 828.9,447.9 830.4,447.9 830.4,444.3 831.9,444.3 831.9,443 833.5,443 833.5,443.9 835,443.9 835,440.5 836.5,440.5 836.5,442.7 838,442.7 838,439.6 839.5,439.6 839.5,441.2 841,441.2 841,439.4 842.5,439.4 842.5,440.9 844,440.9 844,438 845.5,438 845.5,438.5 847.1,438.5 847.1,438.8 848.7,438.8 848.7,436.6 850.4,436.6 850.4,436.6 852,436.6 852,434.4 853.6,434.4 853.6,435.6 855.3,435.6 855.3,432.3 856.9,432.3 856.9,432.8 858.5,432.8 858.5,433.8 860.1,433.8 860.1,431.8 861.7,431.8 861.7,433 863.4,433 863.4,430.8 865,430.8 865,433.5 866.6,433.5 866.6,431 868.2,431 868.2,431.7 869.8,431.7 869.8,431.5 871.4,431.5 871.4,429.4 873.1,429.4 873.1,430.7 874.7,430.7 874.7,428.4 876.3,428.4 876.3,429 878,429 878,427.1 879.6,427.1 879.6,427.2 881.2,427.2 881.2,427.7 882.8,427.7 882.8,425.8 884.4,425.8 884.4,426.6 886,426.6 886,423.8 887.7,423.8 887.7,425.9 889.3,425.9 889.3,423.7 890.9,423.7 890.9,423.7 892.5,423.7 892.5,424 894.1,424 894.1,422.4 895.8,422.4 895.8,423.4 897.4,423.4 897.4,420.7 899,420.7 899,421.7 900.7,421.7 900.7,419.9 902.3,419.9 902.3,420.3 904,420.3 904,419.6 905.6,419.6 905.6,415.9 907.4,415.9 907.4,415.9 909,415.9 909,413.5 910.7,413.5 910.7,412.7 912.2,412.7 912.2,413.8 913.7,413.8 913.7,411.5 915.2,411.5 915.2,413.4 916.7,413.4 916.7,411.7 918.2,411.7 918.2,412.4 919.8,412.4 919.8,412.4 921.3,412.4 921.3,410.4 922.8,410.4 922.8,410.8 924.3,410.8 924.3,408.8 925.8,408.8 925.8,409.2 927.3,409.2 927.3,407.8 928.9,407.8 928.9,407.1 930.4,407.1 930.4,408.5 931.9,408.5 931.9,406.4 933.4,406.4 933.4,408.4 934.9,408.4 934.9,407.2 936.4,407.2 936.4,407.8 938.1,407.8 938.1,408.6 939.9,408.6 939.9,405.9 941.8,405.9 941.8,408.9 943.6,408.9 943.6,406.9 945.3,406.9 945.3,398.7 946.9,398.7 946.9,394.8 948.5,394.8 948.5,399.5 950.1,399.5 950.1,402.9 951.7,402.9 951.7,395.9 953.3,395.9 953.3,393.9 954.9,393.9 954.9,388.4 956.7,388.4 956.7,390.9 958.8,390.9 958.8,395.6 961,395.6 961,379.5 963.1,379.5 963.1,384.2 965,384.2 965,380.9 966.9,380.9 966.9,386 968.8,386 968.8,377.3 970.8,377.3 970.8,364.2 973,364.2 973,352.2 975,352.2 975,354.4 976.6,354.4 976.6,359.9 978.2,359.9 978.2,360.2 979.9,360.2 979.9,367 981.5,367 981.5,367.5 983.1,367.5 983.1,348.1 984.7,348.1 984.7,343.1 986.3,343.1 986.3,340.1 987.9,340.1 987.9,325.6 989.5,325.6 989.5,321.8 991.1,321.8 991.1,316 992.3,316 992.3,276.5 993.4,276.5 993.4,272.2 994.6,272.2 994.6,276.9 995.8,276.9 995.8,265.3 997,265.3 997,267.7 998.2,267.7 998.2,288.5 999.4,288.5 999.4,301.5 1000.8,301.5 1000.8,282.7 1002.4,282.7 1002.4,277.4 1003.9,277.4 1003.9,290.3 1005.2,290.3 1005.2,289 1006.5,289 1006.5,304.7 1007.9,304.7 1007.9,301.1 1009.2,301.1 1009.2,286.9 1010.6,286.9 1010.6,283.8 1011.9,283.8 1011.9,294 1013.1,294 1013.1,292.5 1014.3,292.5 1014.3,310.4 1015.5,310.4 1015.5,311.9 1016.8,311.9 1016.8,301 1018,301 1018,299.1 1019.4,299.1 1019.4,286.5 1020.6,286.5 1020.6,283.6 1021.8,283.6 1021.8,289.2 1023,289.2 1023,284.2 1024.2,284.2 1024.2,287.3 1025.5,287.3 1025.5,280.3 1027,280.3 1027,268 1028,268 1028,232.8 1028.8,232.8 1028.8,231.8 1029.9,231.8 1029.9,238.6 1031.1,238.6 1031.1,237.2 1032.2,237.2 1032.2,240.8 1033.4,240.8 1033.4,212 1035,212 1035,196.8 1036.6,196.8 1036.6,198.5 1037.7,198.5 1037.7,195.2 1038.9,195.2 1038.9,203.1 1040,203.1 1040,200.8 1040.8,200.8 1040.8,237.6 1041.8,237.6 1041.8,231.7 1043.2,231.7 1043.2,229.6 1044.8,229.6 1044.8,242.4 1046.2,242.4 1046.2,249.9 1047.4,249.9 1047.4,246 1048.6,246 1048.6,254.4 1049.8,254.4 1049.8,256.9 1051,256.9 1051,253.3 1052.1,253.3 1052.1,258.6 1053.2,258.6 1053.2,254.8 1054.3,254.8 1054.3,257.7 1055.4,257.7 1055.4,256.1 1056.8,256.1 1056.8,258.9 1058.4,258.9 1058.4,265.7 1060,265.7 1060,258.5 1061.6,258.5 1061.6,249.7 1062.8,249.7 1062.8,269.7 1064,269.7 1064,288.1 1065.5,288.1 1065.5,272.4 1066.8,272.4 1066.8,259.2 1068.1,259.2 1068.1,243.2 1069.6,243.2 1069.6,260 1071.2,260 1071.2,280.1 1072.7,280.1 1072.7,278.3 1074,278.3 1074,273.2 1075.3,273.2 1075.3,271.3 1076.8,271.3 1076.8,256.9 1078.4,256.9 1078.4,265.9 1080,265.9 1080,268.1 1081.6,268.1 1081.6,252.6 1083.2,252.6 1083.2,240.8 1084.8,240.8 1084.8,263.3 1086.5,263.3 1086.5,258.4 1088.1,258.4 1088.1,248.9 1089.7,248.9 1089.7,249.9 1091.3,249.9 1091.3,256.1 1092.5,256.1 1092.5,242.4 1093.6,242.4 1093.6,240.3 1094.9,240.3 1094.9,229.6 1096.2,229.6 1096.2,224.8 1097.5,224.8 1097.5,221.4 1098.7,221.4 1098.7,215.2 1100.1,215.2 1100.1,202.4 1101.5,202.4 1101.5,207.3 1102.7,207.3 1102.7,219.2 1103.9,219.2 1103.9,221 1105,221 1105,211.6 1106.1,211.6 1106.1,215.8 1107.2,215.8 1107.2,209.7 1108.3,209.7 1108.3,209.6 1109.7,209.6 1109.7,215.6 1111.3,215.6 1111.3,219.2 1112.8,219.2 1112.8,209.1 1114.1,209.1 1114.1,209.6 1115.4,209.6 1115.4,200 1116.9,200 1116.9,204.7 1118.5,204.7 1118.5,214.4 1119.9,214.4 1119.9,216.3 1121,216.3 1121,210 1122.1,210 1122.1,212.5 1123.2,212.5 1123.2,205 1124.3,205 1124.3,207.2 1125.5,207.2 1125.5,214.2 1126.7,214.2 1126.7,219.2 1127.9,219.2 1127.9,218.7 1129.1,218.7 1129.1,224.8 1130.3,224.8 1130.3,224.1 1131.5,224.1 1131.5,228 1133.1,228 1133.1,230.2 1135.2,230.2 1135.2,229 1137.2,229 1137.2,228.9 1138.8,228.9 1138.8,232.5 1140.5,232.5 1140.5,232.4 1142.2,232.4 1142.2,234 1143.9,234 1143.9,237.4 1145.7,237.4 1145.7,237.6 1147.3,237.6 1147.3,241.8 1149.1,241.8 1149.1,243.1 1150.7,243.1 1150.7,243.2 1152.2,243.2 1152.2,246.1 1153.7,246.1 1153.7,243.6 1155.2,243.6 1155.2,246.6 1156.7,246.6 1156.7,244.2 1158.2,244.2 1158.2,246.5 1159.8,246.5 1159.8,247.8 1161.3,247.8 1161.3,244.1 1162.8,244.1 1162.8,246 1164.3,246 1164.3,242.5 1165.8,242.5 1165.8,244.6 1167.3,244.6 1167.3,243.1 1168.9,243.1 1168.9,242 1170.4,242 1170.4,245 1171.9,245 1171.9,243.7 1173.4,243.7 1173.4,247.4 1174.9,247.4 1174.9,245.6 1176.4,245.6 1176.4,247.7 1178,247.7 1178,250.4 1179.5,250.4 1179.5,248.5 1181,248.5 1181,250.9 1182.5,250.9 1182.5,249 1184,249 1184,253 1185.5,253 1185.5,252.2 1187.2,252.2 1187.2,251.6 1188.8,251.6 1188.8,255 1190.5,255 1190.5,252.5 1192.2,252.5 1192.2,254.5 1193.9,254.5 1193.9,253.4 1195.7,253.4 1195.7,247.4 1197.3,247.4 1197.3,246.9 1199.1,246.9 1199.1,243.1 1200.8,243.1 1200.8,237.8 1202.5,237.8 1202.5,234.5 1204.2,234.5 1204.2,229 1205.8,229 1205.8,225 1207.5,225 1207.5,224.6 1209,224.6 1209,221.5 1210.5,221.5 1210.5,223.2 1212,223.2 1212,220.6 1213.5,220.6 1213.5,221.7 1215,221.7 1215,220.4 1216.6,220.4 1216.6,221.1 1218.1,221.1 1218.1,226.9 1219.6,226.9 1219.6,228.4 1221.2,228.4 1221.2,226.9 1223,226.9 1223,228.4 1224.7,228.4 1224.7,224.1 1226.3,224.1 1226.3,225 1228,225 1228,226.7 1229.5,226.7 1229.5,223.8 1231,223.8 1231,225.2 1232.5,225.2 1232.5,222.6 1234,222.6 1234,224.5 1235.5,224.5 1235.5,222.2 1237,222.2 1237,224.7 1238.5,224.7 1238.5,221.4 1240,221.4 1240,222.7 1241.6,222.7 1241.6,223.7 1243.1,223.7 1243.1,219.6 1244.6,219.6 1244.6,221.2 1246.1,221.2 1246.1,218.1 1247.6,218.1 1247.6,220 1249.1,220 1249.1,218.2 1250.7,218.2 1250.7,217.8 1252.2,217.8 1252.2,218.9 1253.7,218.9 1253.7,217.4 1255.2,217.4 1255.2,219.8 1256.7,219.8 1256.7,218.7 1258.2,218.7 1258.2,219.3 1259.8,219.3 1259.8,222.3 1261.2,222.3 1261.2,222.1 1262.8,222.1 1262.8,225 1264.3,225 1264.3,229.3 1266.1,229.3 1266.1,230.5 1267.8,230.5 1267.8,236.4 1269.4,236.4 1269.4,238.6 1271.1,238.6 1271.1,240 1272.6,240 1272.6,245.9 1274.1,245.9 1274.1,244.7 1275.6,244.7 1275.6,250 1277.1,250 1277.1,250.1 1278.6,250.1 1278.6,254.5 1280.2,254.5 1280.2,257.4 1281.8,257.4 1281.8,256.7 1283.3,256.7 1283.3,261 1284.9,261 1284.9,262.6 1286.7,262.6 1286.7,265.5 1288.6,265.5 1288.6,272 1290.5,272 1290.5,273.9 1292.3,273.9 1292.3,268.7 1294.2,268.7 1294.2,267.9 1296.1,267.9 1296.1,262.6 1298,262.6 1298,258.2 1299.8,258.2 1299.8,255.6 1301.8,255.6 1301.8,251.2 1303.7,251.2 1303.7,237.4 1305.5,237.4 1305.5,228.5 1307.5,228.5 1307.5,228.1 1309.3,228.1 1309.3,226.6 1311.1,226.6 1311.1,227.8 1312.7,227.8 1312.7,231.7 1314.2,231.7 1314.2,232.3 1316.5,232.3 1316.5,207.7 1318.8,207.7 1318.8,232.3 1320.7,232.3 1320.7,234.9 1322.6,234.9 1322.6,241.7 1324.5,241.7 1324.5,252.1 1326.3,252.1 1326.3,258.8 1328.2,258.8 1328.2,263.9 1330.1,263.9 1330.1,273.9 1332.5,273.9 1332.5,289.1 1335.4,289.1 1335.4,277.7 1337.8,277.7 1337.8,271.2 1339.6,271.2 1339.6,260.7 1341.5,260.7 1341.5,251.8 1343.5,251.8 1343.5,245.5 1345.3,245.5 1345.3,245 1347.2,245 1347.2,239.8 1349.5,239.8 1349.5,249.3 1351.8,249.3 1351.8,253.3 1353.3,253.3 1353.3,259.9 1354.9,259.9 1354.9,264.5 1356.7,264.5 1356.7,268.7 1358.5,268.7 1358.5,277.7 1360.5,277.7 1360.5,289.4 1362.3,289.4 1362.3,296.6 1364.2,296.6 1364.2,298.6 1366.1,298.6 1366.1,304.2 1368,304.2 1368,305.6 1369.9,305.6 1369.9,303.4 1371.8,303.4 1371.8,304.2 1373.7,304.2 1373.7,296.5 1375.6,296.5 1375.6,287.2 1377.5,287.2 1377.5,249.3 1379.4,249.3 1379.4,249.7 1381.2,249.7 1381.2,251.2 1383.2,251.2 1383.2,279.6 1385,279.6 1385,276.4 1387,276.4 1387,272 1388.9,272 1388.9,260.2 1390.8,260.2 1390.8,251.2 1392.4,251.2 1392.4,247.3 1393.8,247.3 1393.8,234.2 1395,234.2 1395,202 1396.5,202 1396.5,230.4 1398,230.4 1398,225.7 1399.3,225.7 1399.3,233.3 1400.6,233.3 1400.6,230.4 1401.8,230.4 1401.8,225.5 1403.1,225.5 1403.1,230.6 1404.3,230.6 1404.3,226.6 1405.5,226.6 1405.5,221 1406.6,221 1406.6,227.3 1407.8,227.3 1407.8,217.1 1408.9,217.1 1408.9,224.9 1410,224.9 1410,219 1411.2,219 1411.2,212.8 1412.5,212.8 1412.5,217.2 1413.8,217.2 1413.8,211.4 1415.1,211.4 1415.1,199.5 1416.5,199.5 1416.5,190.6 1417.8,190.6 1417.8,193.4 1418.9,193.4 1418.9,187.9 1420,187.9 1420,192 1421.1,192 1421.1,189 1422.2,189 1422.2,193.1 1423.3,193.1 1423.3,190.6 1424.6,190.6 1424.6,199.5 1426,199.5 1426,211.4 1427.3,211.4 1427.3,209.1 1428.5,209.1 1428.5,197.9 1429.6,197.9 1429.6,199.3 1430.8,199.3 1430.8,188.7 1432.1,188.7 1432.1,192.6 1433.6,192.6 1433.6,203.9 1435,203.9 1435,232.4 1436.4,232.4 1436.4,255 1438,255 1438,196.3 1439.6,196.3 1439.6,191.2 1440.9,191.2 1440.9,193.6 1442.2,193.6 1442.2,188.7 1443.4,188.7 1443.4,195.9 1444.7,195.9 1444.7,211.2 1446,211.2 1446,215.2 1447.5,215.2 1447.5,167.9 1449.2,167.9 1449.2,169.9 1450.6,169.9 1450.6,181.2 1452,181.2 1452,193.2 1453.5,193.2 1453.5,198.2 1454.8,198.2 1454.8,185.9 1456.1,185.9 1456.1,181.9 1457.3,181.9 1457.3,171.7 1458.5,171.7 1458.5,167.4 1459.8,167.4 1459.8,170.6 1461.1,170.6 1461.1,167.9 1461.7,167.9" fill="none" stroke="#7c7c06" stroke-width="2.5" stroke-linejoin="miter" stroke-miterlimit="3" />
<text transform="translate(348.6 157.5) rotate(-90)" font-family="'Liberation Sans', sans-serif" font-size="23" font-weight="normal" fill="#000" textLength="54" lengthAdjust="spacingAndGlyphs" >3492.6</text>
<line x1="345" y1="165" x2="345" y2="201.7" stroke="#000" stroke-width="3.0" stroke-linecap="butt"/>
<text transform="translate(372 120.8) rotate(-90)" font-family="'Liberation Sans', sans-serif" font-size="23" font-weight="normal" fill="#000" textLength="54" lengthAdjust="spacingAndGlyphs" >3429.7</text>
<line x1="368.3" y1="126" x2="368.3" y2="163.3" stroke="#000" stroke-width="3.0" stroke-linecap="butt"/>
<text transform="translate(557.3 321.2) rotate(-90)" font-family="'Liberation Sans', sans-serif" font-size="23" font-weight="normal" fill="#000" textLength="54" lengthAdjust="spacingAndGlyphs" >2925.8</text>
<line x1="554" y1="328.3" x2="554" y2="364.7" stroke="#000" stroke-width="3.0" stroke-linecap="butt"/>
<text transform="translate(583.9 348.4) rotate(-90)" font-family="'Liberation Sans', sans-serif" font-size="23" font-weight="normal" fill="#000" textLength="54" lengthAdjust="spacingAndGlyphs" >2855.4</text>
<line x1="579" y1="356.7" x2="579" y2="394.2" stroke="#000" stroke-width="3.0" stroke-linecap="butt"/>
<text transform="translate(713.3 393.8) rotate(-90)" font-family="'Liberation Sans', sans-serif" font-size="23" font-weight="normal" fill="#000" textLength="54" lengthAdjust="spacingAndGlyphs" >2511.2</text>
<line x1="709.6" y1="401" x2="709.6" y2="437.4" stroke="#000" stroke-width="3.0" stroke-linecap="butt"/>
<text transform="translate(755.7 414.3) rotate(-90)" font-family="'Liberation Sans', sans-serif" font-size="23" font-weight="normal" fill="#000" textLength="54" lengthAdjust="spacingAndGlyphs" >2397.1</text>
<line x1="750.9" y1="420.3" x2="750.9" y2="456.7" stroke="#000" stroke-width="3.0" stroke-linecap="butt"/>
<text transform="translate(776.2 239.4) rotate(-90)" font-family="'Liberation Sans', sans-serif" font-size="23" font-weight="normal" fill="#000" textLength="54" lengthAdjust="spacingAndGlyphs" >2340.4</text>
<line x1="770.9" y1="247.7" x2="770.9" y2="284" stroke="#000" stroke-width="3.0" stroke-linecap="butt"/>
<text transform="translate(978.3 295.1) rotate(-90)" font-family="'Liberation Sans', sans-serif" font-size="23" font-weight="normal" fill="#000" textLength="54" lengthAdjust="spacingAndGlyphs" >1796.0</text>
<line x1="974.6" y1="302.2" x2="974.6" y2="338.6" stroke="#000" stroke-width="3.0" stroke-linecap="butt"/>
<text transform="translate(1002.7 210.9) rotate(-90)" font-family="'Liberation Sans', sans-serif" font-size="23" font-weight="normal" fill="#000" textLength="54" lengthAdjust="spacingAndGlyphs" >1737.3</text>
<line x1="996.9" y1="217.3" x2="996.9" y2="255.7" stroke="#000" stroke-width="3.0" stroke-linecap="butt"/>
<text transform="translate(1041.2 136.4) rotate(-90)" font-family="'Liberation Sans', sans-serif" font-size="23" font-weight="normal" fill="#000" textLength="54" lengthAdjust="spacingAndGlyphs" >1635.2</text>
<line x1="1036.5" y1="144" x2="1036.5" y2="182.5" stroke="#000" stroke-width="3.0" stroke-linecap="butt"/>
<text transform="translate(1066.4 192.9) rotate(-90)" font-family="'Liberation Sans', sans-serif" font-size="23" font-weight="normal" fill="#000" textLength="54" lengthAdjust="spacingAndGlyphs" >1560.3</text>
<line x1="1063.2" y1="200.5" x2="1063.2" y2="238.9" stroke="#000" stroke-width="3.0" stroke-linecap="butt"/>
<text transform="translate(1086.8 183.3) rotate(-90)" font-family="'Liberation Sans', sans-serif" font-size="23" font-weight="normal" fill="#000" textLength="54" lengthAdjust="spacingAndGlyphs" >1509.2</text>
<line x1="1083.6" y1="190.9" x2="1083.6" y2="229.3" stroke="#000" stroke-width="3.0" stroke-linecap="butt"/>
<text transform="translate(1106 142.5) rotate(-90)" font-family="'Liberation Sans', sans-serif" font-size="23" font-weight="normal" fill="#000" textLength="54" lengthAdjust="spacingAndGlyphs" >1458.0</text>
<line x1="1100.4" y1="148.9" x2="1100.4" y2="187.3" stroke="#000" stroke-width="3.0" stroke-linecap="butt"/>
<text transform="translate(1130 149.7) rotate(-90)" font-family="'Liberation Sans', sans-serif" font-size="23" font-weight="normal" fill="#000" textLength="54" lengthAdjust="spacingAndGlyphs" >1398.4</text>
<line x1="1124.4" y1="156" x2="1124.4" y2="194.5" stroke="#000" stroke-width="3.0" stroke-linecap="butt"/>
<text transform="translate(1220.1 164.1) rotate(-90)" font-family="'Liberation Sans', sans-serif" font-size="23" font-weight="normal" fill="#000" textLength="54" lengthAdjust="spacingAndGlyphs" >1154.7</text>
<line x1="1216.2" y1="171.7" x2="1216.2" y2="210.1" stroke="#000" stroke-width="3.0" stroke-linecap="butt"/>
<text transform="translate(1252.5 164.1) rotate(-90)" font-family="'Liberation Sans', sans-serif" font-size="23" font-weight="normal" fill="#000" textLength="54" lengthAdjust="spacingAndGlyphs" >1069.0</text>
<line x1="1248.1" y1="171.7" x2="1248.1" y2="210.1" stroke="#000" stroke-width="3.0" stroke-linecap="butt"/>
<text transform="translate(1322.9 149.8) rotate(-90)" font-family="'Liberation Sans', sans-serif" font-size="23" font-weight="normal" fill="#000" textLength="44.5" lengthAdjust="spacingAndGlyphs" >875.2</text>
<line x1="1318.4" y1="157.5" x2="1318.4" y2="193.5" stroke="#000" stroke-width="3.0" stroke-linecap="butt"/>
<text transform="translate(1351.3 182) rotate(-90)" font-family="'Liberation Sans', sans-serif" font-size="23" font-weight="normal" fill="#000" textLength="44.5" lengthAdjust="spacingAndGlyphs" >797.9</text>
<line x1="1348.1" y1="189.7" x2="1348.1" y2="226.6" stroke="#000" stroke-width="3.0" stroke-linecap="butt"/>
<text transform="translate(1383.5 189.5) rotate(-90)" font-family="'Liberation Sans', sans-serif" font-size="23" font-weight="normal" fill="#000" textLength="44.5" lengthAdjust="spacingAndGlyphs" >713.1</text>
<line x1="1380.7" y1="195.4" x2="1380.7" y2="232.3" stroke="#000" stroke-width="3.0" stroke-linecap="butt"/>
<text transform="translate(1421.3 133.7) rotate(-90)" font-family="'Liberation Sans', sans-serif" font-size="23" font-weight="normal" fill="#000" textLength="44.5" lengthAdjust="spacingAndGlyphs" >611.0</text>
<line x1="1418.2" y1="140.5" x2="1418.2" y2="176.4" stroke="#000" stroke-width="3.0" stroke-linecap="butt"/>
<text transform="translate(1427.8 133.7) rotate(-90)" font-family="'Liberation Sans', sans-serif" font-size="23" font-weight="normal" fill="#000" textLength="44.5" lengthAdjust="spacingAndGlyphs" >593.1</text>
<line x1="1424.8" y1="140.5" x2="1424.8" y2="176.4" stroke="#000" stroke-width="3.0" stroke-linecap="butt"/>
<text transform="translate(1451.6 108.1) rotate(-90)" font-family="'Liberation Sans', sans-serif" font-size="23" font-weight="normal" fill="#000" textLength="44.5" lengthAdjust="spacingAndGlyphs" >528.8</text>
<line x1="1449" y1="115.8" x2="1449" y2="152.8" stroke="#000" stroke-width="3.0" stroke-linecap="butt"/>
<clipPath id="clip_a"><rect x="1218.8" y="284" width="76.5" height="64"/></clipPath>
<text x="1259.5" y="348.5" font-family="'Liberation Sans', sans-serif" font-size="69" font-weight="bold" fill="#e3000f" text-anchor="middle" textLength="34.5" lengthAdjust="spacingAndGlyphs" clip-path="url(#clip_a)">a</text>
<rect x="1218.8" y="284" width="76.5" height="64" fill="none" stroke="#333" stroke-width="1.6" rx="1.5"/>
<text x="413" y="212" font-family="'Liberation Sans', sans-serif" font-size="44" font-weight="bold" fill="#dc0008" textLength="101" lengthAdjust="spacingAndGlyphs" text-anchor="start">After</text>
<text x="468.8" y="538.6" font-family="'Liberation Sans', sans-serif" font-size="44" font-weight="bold" fill="#dc0008" textLength="131" lengthAdjust="spacingAndGlyphs" text-anchor="start">Before</text>
<line x1="478.6" y1="229.5" x2="446.8" y2="307.1" stroke="#2602c4" stroke-width="4.8" stroke-linecap="round"/>
<polygon points="432,343.2 439.2,295.3 446.8,307.1 460.5,304.1" fill="#3a0ad6"/>
<line x1="613.1" y1="535" x2="754.5" y2="561" stroke="#2602c4" stroke-width="4.8" stroke-linecap="round"/>
<polygon points="792.9,568 744.3,572.3 754.5,561 749,546.7" fill="#3a0ad6"/>
<line x1="119" y1="727.8" x2="132.4" y2="727.8" stroke="#000" stroke-width="2.2" stroke-linecap="butt"/>
<text x="115.5" y="735.1" font-family="'Liberation Serif', serif" font-size="18" font-weight="bold" fill="#111" textLength="38.5" lengthAdjust="spacingAndGlyphs" text-anchor="end">0.14</text>
<line x1="119" y1="892.9" x2="132.4" y2="892.9" stroke="#000" stroke-width="2.2" stroke-linecap="butt"/>
<text x="115.5" y="900.2" font-family="'Liberation Serif', serif" font-size="18" font-weight="bold" fill="#111" textLength="38.5" lengthAdjust="spacingAndGlyphs" text-anchor="end">0.12</text>
<line x1="119" y1="1057.9" x2="132.4" y2="1057.9" stroke="#000" stroke-width="2.2" stroke-linecap="butt"/>
<text x="115.5" y="1065.2" font-family="'Liberation Serif', serif" font-size="18" font-weight="bold" fill="#111" textLength="38.5" lengthAdjust="spacingAndGlyphs" text-anchor="end">0.10</text>
<line x1="119" y1="1223" x2="132.4" y2="1223" stroke="#000" stroke-width="2.2" stroke-linecap="butt"/>
<text x="115.5" y="1230.3" font-family="'Liberation Serif', serif" font-size="18" font-weight="bold" fill="#111" textLength="38.5" lengthAdjust="spacingAndGlyphs" text-anchor="end">0.08</text>
<line x1="155.1" y1="1366.2" x2="155.1" y2="1380.2" stroke="#000" stroke-width="2.6" stroke-linecap="butt"/>
<text x="154.6" y="1396" font-family="'Liberation Serif', serif" font-size="18" font-weight="bold" fill="#111" textLength="45.5" lengthAdjust="spacingAndGlyphs" text-anchor="middle">4000</text>
<line x1="524.6" y1="1366.2" x2="524.6" y2="1380.2" stroke="#000" stroke-width="2.6" stroke-linecap="butt"/>
<text x="524.1" y="1396" font-family="'Liberation Serif', serif" font-size="18" font-weight="bold" fill="#111" textLength="45.5" lengthAdjust="spacingAndGlyphs" text-anchor="middle">3000</text>
<line x1="893.4" y1="1366.2" x2="893.4" y2="1380.2" stroke="#000" stroke-width="2.6" stroke-linecap="butt"/>
<text x="892.9" y="1396" font-family="'Liberation Serif', serif" font-size="18" font-weight="bold" fill="#111" textLength="45.5" lengthAdjust="spacingAndGlyphs" text-anchor="middle">2000</text>
<line x1="1260" y1="1366.2" x2="1260" y2="1380.2" stroke="#000" stroke-width="2.6" stroke-linecap="butt"/>
<text x="1259.5" y="1396" font-family="'Liberation Serif', serif" font-size="18" font-weight="bold" fill="#111" textLength="45.5" lengthAdjust="spacingAndGlyphs" text-anchor="middle">1000</text>
<rect x="132.4" y="725.8" width="1339.6" height="640.4" fill="none" stroke="#000" stroke-width="2.6"/>
<text x="744.6" y="1435.5" font-family="'Liberation Serif', serif" font-size="17" font-weight="bold" fill="#111" textLength="118.7" lengthAdjust="spacingAndGlyphs" text-anchor="start">Wavenumbers</text>
<text transform="translate(42.1 1087.9) rotate(-90)" font-family="'Liberation Serif', serif" font-size="24" font-weight="normal" fill="#111" textLength="88" lengthAdjust="spacingAndGlyphs" stroke="#111" stroke-width="0.45">Absorbance</text>
<polyline points="156.3,1229.9 156.9,1229.9 156.9,1229.3 158.1,1229.3 158.1,1236 159.3,1236 159.3,1229.9 160.5,1229.9 160.5,1239.1 161.8,1239.1 161.8,1234.4 163,1234.4 163,1238.9 164.2,1238.9 164.2,1237 165.4,1237 165.4,1239.6 166.6,1239.6 166.6,1239.9 167.8,1239.9 167.8,1233 169,1233 169,1236.7 170.2,1236.7 170.2,1231 171.3,1231 171.3,1234.3 172.5,1234.3 172.5,1229.3 173.7,1229.3 173.7,1229.9 174.9,1229.9 174.9,1232.3 176,1232.3 176,1225.3 177.1,1225.3 177.1,1232.8 178.2,1232.8 178.2,1228.5 179.3,1228.5 179.3,1231.1 180.4,1231.1 180.4,1227.7 181.5,1227.7 181.5,1233.4 182.6,1233.4 182.6,1224.6 183.7,1224.6 183.7,1232.8 184.8,1232.8 184.8,1228.5 186,1228.5 186,1224.4 187.2,1224.4 187.2,1232.7 188.5,1232.7 188.5,1224.2 189.7,1224.2 189.7,1233.2 190.9,1233.2 190.9,1227.4 192.1,1227.4 192.1,1233.8 193.3,1233.8 193.3,1226.8 194.6,1226.8 194.6,1233.7 195.8,1233.7 195.8,1229.9 197,1229.9 197,1227.3 198.2,1227.3 198.2,1233.6 199.4,1233.6 199.4,1229.4 200.6,1229.4 200.6,1234.8 201.8,1234.8 201.8,1230.7 203,1230.7 203,1234.7 204.2,1234.7 204.2,1234 205.4,1234 205.4,1230.6 206.6,1230.6 206.6,1239.7 207.8,1239.7 207.8,1231.5 208.9,1231.5 208.9,1240.9 210.1,1240.9 210.1,1234.9 211.3,1234.9 211.3,1242.7 212.5,1242.7 212.5,1239.6 213.7,1239.6 213.7,1238.6 214.9,1238.6 214.9,1243.8 216.2,1243.8 216.2,1237.9 217.4,1237.9 217.4,1242.3 218.6,1242.3 218.6,1239.5 219.8,1239.5 219.8,1244.4 221,1244.4 221,1239.9 222.3,1239.9 222.3,1244.7 223.5,1244.7 223.5,1242.3 224.7,1242.3 224.7,1239.8 225.8,1239.8 225.8,1246.4 226.9,1246.4 226.9,1243.5 228,1243.5 228,1248.5 229.1,1248.5 229.1,1244.7 230.2,1244.7 230.2,1249 231.3,1249 231.3,1246.5 232.4,1246.5 232.4,1251.2 233.5,1251.2 233.5,1248.7 234.6,1248.7 234.6,1250.6 235.8,1250.6 235.8,1253.7 237,1253.7 237,1245 238.2,1245 238.2,1251.8 239.3,1251.8 239.3,1245.3 240.5,1245.3 240.5,1253.4 241.7,1253.4 241.7,1247.4 242.9,1247.4 242.9,1247.9 244.2,1247.9 244.2,1254.8 245.6,1254.8 245.6,1254.8 246.9,1254.8 246.9,1268.8 248.3,1268.8 248.3,1270 249.7,1270 249.7,1254.1 251.1,1254.1 251.1,1245.1 252.4,1245.1 252.4,1247.7 253.6,1247.7 253.6,1245 254.8,1245 254.8,1253.1 255.9,1253.1 255.9,1245.3 257.1,1245.3 257.1,1255.2 258.3,1255.2 258.3,1250.6 259.5,1250.6 259.5,1253.4 260.7,1253.4 260.7,1257.2 261.8,1257.2 261.8,1250 262.9,1250 262.9,1255.5 264,1255.5 264,1249.9 265.1,1249.9 265.1,1255.5 266.2,1255.5 266.2,1246.8 267.3,1246.8 267.3,1253.4 268.4,1253.4 268.4,1247.4 269.5,1247.4 269.5,1251.8 270.6,1251.8 270.6,1247.9 271.8,1247.9 271.8,1244.4 272.9,1244.4 272.9,1250.6 274,1250.6 274,1244.8 275.1,1244.8 275.1,1250.6 276.2,1250.6 276.2,1244.3 277.3,1244.3 277.3,1248.2 278.4,1248.2 278.4,1244.5 279.5,1244.5 279.5,1249.3 280.6,1249.3 280.6,1244.2 281.7,1244.2 281.7,1245.1 283,1245.1 283,1248.2 284.4,1248.2 284.4,1246.8 285.7,1246.8 285.7,1252.7 287.1,1252.7 287.1,1250.6 288.5,1250.6 288.5,1244.7 289.9,1244.7 289.9,1248.2 291.2,1248.2 291.2,1241.4 292.6,1241.4 292.6,1239.6 293.9,1239.6 293.9,1239 295.1,1239 295.1,1231 296.3,1231 296.3,1231.2 297.5,1231.2 297.5,1226.2 298.6,1226.2 298.6,1228.7 299.8,1228.7 299.8,1219.8 301,1219.8 301,1217.4 302.4,1217.4 302.4,1214.2 304.1,1214.2 304.1,1207.4 305.8,1207.4 305.8,1206.1 307.5,1206.1 307.5,1199.1 309.2,1199.1 309.2,1195.3 310.8,1195.3 310.8,1192.5 312.5,1192.5 312.5,1185 314.1,1185 314.1,1184.6 315.8,1184.6 315.8,1177.1 317.5,1177.1 317.5,1173.1 319.1,1173.1 319.1,1170 320.8,1170 320.8,1162.5 322.5,1162.5 322.5,1162.8 324.1,1162.8 324.1,1153.7 325.8,1153.7 325.8,1151 327.4,1151 327.4,1149.9 329,1149.9 329,1143.3 330.5,1143.3 330.5,1143.9 332.1,1143.9 332.1,1139.4 333.7,1139.4 333.7,1138.9 335.2,1138.9 335.2,1131.6 336.8,1131.6 336.8,1131.6 338.4,1131.6 338.4,1131.6 340,1131.6 340,1125.7 341.6,1125.7 341.6,1126.7 343.1,1126.7 343.1,1119.5 344.7,1119.5 344.7,1120.9 346.3,1120.9 346.3,1115.4 347.9,1115.4 347.9,1115 349.5,1115 349.5,1116.9 351.2,1116.9 351.2,1115 352.9,1115 352.9,1117.9 354.5,1117.9 354.5,1116.3 356.2,1116.3 356.2,1117.8 357.8,1117.8 357.8,1116.4 359.5,1116.4 359.5,1111.7 361.1,1111.7 361.1,1110.9 362.8,1110.9 362.8,1106 364.5,1106 364.5,1103.9 366.2,1103.9 366.2,1109 368.1,1109 368.1,1107.5 370,1107.5 370,1112.2 371.7,1112.2 371.7,1114.9 373.4,1114.9 373.4,1114.2 375,1114.2 375,1119.8 376.7,1119.8 376.7,1119.4 378.4,1119.4 378.4,1123.3 380.1,1123.3 380.1,1133.5 381.9,1133.5 381.9,1138.6 383.8,1138.6 383.8,1148.2 385.5,1148.2 385.5,1153.3 387.2,1153.3 387.2,1154.4 388.9,1154.4 388.9,1160.6 390.5,1160.6 390.5,1161.1 392.2,1161.1 392.2,1167.6 393.9,1167.6 393.9,1174.6 395.6,1174.6 395.6,1177.5 397.3,1177.5 397.3,1187.3 399,1187.3 399,1192.5 400.8,1192.5 400.8,1195.4 402.5,1195.4 402.5,1202.2 404.3,1202.2 404.3,1204.4 406,1204.4 406,1209.1 407.7,1209.1 407.7,1213.2 409.4,1213.2 409.4,1214.4 411,1214.4 411,1220.6 412.7,1220.6 412.7,1219.7 414.4,1219.7 414.4,1225.7 416,1225.7 416,1232.6 417.7,1232.6 417.7,1232.9 419.4,1232.9 419.4,1239.2 421,1239.2 421,1240.4 422.7,1240.4 422.7,1245.1 424.3,1245.1 424.3,1248.2 425.8,1248.2 425.8,1244.9 427.3,1244.9 427.3,1249.5 428.8,1249.5 428.8,1245.5 430.3,1245.5 430.3,1247.9 431.9,1247.9 431.9,1251.4 433.5,1251.4 433.5,1253 435,1253 435,1257.3 436.6,1257.3 436.6,1256.3 438.2,1256.3 438.2,1262.6 439.7,1262.6 439.7,1262.9 441.3,1262.9 441.3,1267.3 442.9,1267.3 442.9,1272 444.6,1272 444.6,1272.6 446.3,1272.6 446.3,1279.8 448,1279.8 448,1279.6 449.7,1279.6 449.7,1283.9 451.3,1283.9 451.3,1287.8 452.9,1287.8 452.9,1284.9 454.4,1284.9 454.4,1291.4 456,1291.4 456,1288.4 457.6,1288.4 457.6,1294.6 459.1,1294.6 459.1,1291.8 460.7,1291.8 460.7,1294.9 462.3,1294.9 462.3,1299 464,1299 464,1297.3 465.6,1297.3 465.6,1304.2 467.3,1304.2 467.3,1301 469,1301 469,1306 470.6,1306 470.6,1307.5 472.2,1307.5 472.2,1306.8 473.8,1306.8 473.8,1310.2 475.4,1310.2 475.4,1306.6 476.9,1306.6 476.9,1311.7 478.5,1311.7 478.5,1309.5 480.1,1309.5 480.1,1311.5 481.7,1311.5 481.7,1315.6 483.3,1315.6 483.3,1312.7 484.9,1312.7 484.9,1315.8 486.4,1315.8 486.4,1315.7 488,1315.7 488,1318 489.6,1318 489.6,1316.4 491.2,1316.4 491.2,1319.9 492.8,1319.9 492.8,1321.8 494.4,1321.8 494.4,1320 496,1320 496,1326.1 497.6,1326.1 497.6,1321.6 499.1,1321.6 499.1,1328.3 500.7,1328.3 500.7,1325.5 502.3,1325.5 502.3,1328.2 503.9,1328.2 503.9,1330.5 505.4,1330.5 505.4,1326.2 506.9,1326.2 506.9,1331.4 508.5,1331.4 508.5,1328.2 510,1328.2 510,1332.1 511.5,1332.1 511.5,1329.3 513.1,1329.3 513.1,1331.5 514.6,1331.5 514.6,1327.6 516.1,1327.6 516.1,1330.9 517.7,1330.9 517.7,1332.1 519.2,1332.1 519.2,1328.9 520.7,1328.9 520.7,1332 522.3,1332 522.3,1327.5 523.8,1327.5 523.8,1329.1 525.3,1329.1 525.3,1327.6 526.9,1327.6 526.9,1328.8 528.4,1328.8 528.4,1326 529.9,1326 529.9,1326.8 531.6,1326.8 531.6,1326.4 533.5,1326.4 533.5,1319.3 535.4,1319.3 535.4,1317.1 537.1,1317.1 537.1,1316.4 538.8,1316.4 538.8,1307.8 540.5,1307.8 540.5,1308.7 542.1,1308.7 542.1,1300.8 543.8,1300.8 543.8,1300.5 545.4,1300.5 545.4,1300.1 547,1300.1 547,1293.3 548.6,1293.3 548.6,1293.3 550.3,1293.3 550.3,1287.8 551.9,1287.8 551.9,1289.4 553.5,1289.4 553.5,1283.9 555.3,1283.9 555.3,1289 557.4,1289 557.4,1297.7 559.2,1297.7 559.2,1302 560.9,1302 560.9,1302.9 562.5,1302.9 562.5,1309.3 564.2,1309.3 564.2,1310 565.9,1310 565.9,1314.3 567.5,1314.3 567.5,1314.4 569.1,1314.4 569.1,1310.1 570.7,1310.1 570.7,1311.3 572.4,1311.3 572.4,1306.1 574,1306.1 574,1305.8 575.6,1305.8 575.6,1303.3 577.3,1303.3 577.3,1306.2 579,1306.2 579,1314.2 580.7,1314.2 580.7,1315.1 582.4,1315.1 582.4,1322.6 584.2,1322.6 584.2,1330.8 586.1,1330.8 586.1,1333.8 588,1333.8 588,1342 589.7,1342 589.7,1345.2 591.2,1345.2 591.2,1342.2 592.7,1342.2 592.7,1346.2 594.3,1346.2 594.3,1342.3 595.8,1342.3 595.8,1346.6 597.3,1346.6 597.3,1342.8 598.9,1342.8 598.9,1346.8 600.4,1346.8 600.4,1344.2 601.9,1344.2 601.9,1347.5 603.5,1347.5 603.5,1348.7 605.1,1348.7 605.1,1345.7 606.7,1345.7 606.7,1349.5 608.2,1349.5 608.2,1348.5 609.8,1348.5 609.8,1351.2 611.4,1351.2 611.4,1347.1 613,1347.1 613,1350.3 614.6,1350.3 614.6,1351.7 616.1,1351.7 616.1,1349.1 617.6,1349.1 617.6,1353.1 619.1,1353.1 619.1,1350.2 620.6,1350.2 620.6,1353.4 622.1,1353.4 622.1,1351.4 623.6,1351.4 623.6,1353.7 625.1,1353.7 625.1,1349.9 626.6,1349.9 626.6,1353.9 628.1,1353.9 628.1,1351.8 629.6,1351.8 629.6,1353.1 631.2,1353.1 631.2,1353.2 632.7,1353.2 632.7,1349.8 634.2,1349.8 634.2,1353.1 635.7,1353.1 635.7,1348.3 637.2,1348.3 637.2,1352.9 638.7,1352.9 638.7,1349.3 640.2,1349.3 640.2,1352.3 641.7,1352.3 641.7,1346.2 643.2,1346.2 643.2,1351.1 644.7,1351.1 644.7,1345.4 646.2,1345.4 646.2,1347.5 647.8,1347.5 647.8,1349.2 649.3,1349.2 649.3,1344.2 650.8,1344.2 650.8,1348.2 652.3,1348.2 652.3,1343.5 653.8,1343.5 653.8,1346.1 655.3,1346.1 655.3,1343.7 656.8,1343.7 656.8,1346.3 658.3,1346.3 658.3,1341.5 659.8,1341.5 659.8,1343.6 661.3,1343.6 661.3,1340.4 662.8,1340.4 662.8,1342 664.4,1342 664.4,1343.3 665.9,1343.3 665.9,1338.7 667.4,1338.7 667.4,1342.2 668.9,1342.2 668.9,1336.3 670.4,1336.3 670.4,1339.6 671.9,1339.6 671.9,1334.9 673.4,1334.9 673.4,1338.4 674.9,1338.4 674.9,1334.1 676.4,1334.1 676.4,1336.7 677.9,1336.7 677.9,1331.6 679.4,1331.6 679.4,1333.7 681,1333.7 681,1335 682.5,1335 682.5,1330.2 684.1,1330.2 684.1,1334.1 685.6,1334.1 685.6,1330.3 687.2,1330.3 687.2,1334.9 688.7,1334.9 688.7,1329.6 690.2,1329.6 690.2,1332.9 691.8,1332.9 691.8,1330.6 693.3,1330.6 693.3,1330.9 694.9,1330.9 694.9,1331.8 696.5,1331.8 696.5,1327.8 698.1,1327.8 698.1,1331.1 699.7,1331.1 699.7,1325.3 701.2,1325.3 701.2,1329.9 702.8,1329.9 702.8,1324.6 704.4,1324.6 704.4,1325.4 706,1325.4 706,1328 707.7,1328 707.7,1325.7 709.4,1325.7 709.4,1331.1 711,1331.1 711,1329.1 712.7,1329.1 712.7,1330.9 714.3,1330.9 714.3,1333.7 715.9,1333.7 715.9,1333.7 717.6,1333.7 717.6,1337.7 719.2,1337.7 719.2,1338.2 720.8,1338.2 720.8,1338.3 722.5,1338.3 722.5,1341 724.2,1341 724.2,1339.7 725.8,1339.7 725.8,1342.3 727.5,1342.3 727.5,1340.9 729.2,1340.9 729.2,1342.2 730.8,1342.2 730.8,1342.4 732.3,1342.4 732.3,1340.1 733.8,1340.1 733.8,1341.6 735.4,1341.6 735.4,1340.6 736.9,1340.6 736.9,1341.1 738.5,1341.1 738.5,1340 740,1340 740,1340.8 741.5,1340.8 741.5,1339.2 743.1,1339.2 743.1,1339.9 744.6,1339.9 744.6,1338.9 746.2,1338.9 746.2,1339.9 747.7,1339.9 747.7,1338.2 749.2,1338.2 749.2,1338.2 750.8,1338.2 750.8,1327.7 752.2,1327.7 752.2,1316.2 753.8,1316.2 753.8,1309.3 755.5,1309.3 755.5,1305.6 757.2,1305.6 757.2,1298.2 759,1298.2 759,1315.1 761,1315.1 761,1334.2 763,1334.2 763,1321.3 765,1321.3 765,1306.2 767,1306.2 767,1308.1 769,1308.1 769,1312.2 770.8,1312.2 770.8,1324.4 772.2,1324.4 772.2,1334.2 773.9,1334.2 773.9,1332.9 775.6,1332.9 775.6,1334.6 777.4,1334.6 777.4,1333.9 779.1,1333.9 779.1,1334.2 780.8,1334.2 780.8,1334.6 782.5,1334.6 782.5,1332 784.2,1332 784.2,1333.1 785.8,1333.1 785.8,1330.3 787.5,1330.3 787.5,1331.3 789.2,1331.3 789.2,1330.2 790.8,1330.2 790.8,1328.7 792.5,1328.7 792.5,1330.3 794.2,1330.3 794.2,1328.4 795.9,1328.4 795.9,1329.4 797.6,1329.4 797.6,1327.9 799.3,1327.9 799.3,1328.2 800.9,1328.2 800.9,1328.5 802.6,1328.5 802.6,1325.9 804.3,1325.9 804.3,1327.6 805.9,1327.6 805.9,1325 807.6,1325 807.6,1326 809.3,1326 809.3,1324.2 810.9,1324.2 810.9,1323.4 812.4,1323.4 812.4,1324.3 813.9,1324.3 813.9,1322.3 815.4,1322.3 815.4,1323.5 816.9,1323.5 816.9,1320.2 818.4,1320.2 818.4,1321.7 819.9,1321.7 819.9,1319.4 821.4,1319.4 821.4,1320.2 822.9,1320.2 822.9,1320.1 824.4,1320.1 824.4,1318.3 825.9,1318.3 825.9,1318.7 827.4,1318.7 827.4,1316.9 828.9,1316.9 828.9,1317.4 830.4,1317.4 830.4,1315.3 831.9,1315.3 831.9,1316.8 833.4,1316.8 833.4,1315.2 834.9,1315.2 834.9,1314.1 836.5,1314.1 836.5,1315.7 838.1,1315.7 838.1,1313.8 839.7,1313.8 839.7,1314.6 841.3,1314.6 841.3,1313 842.9,1313 842.9,1313.6 844.5,1313.6 844.5,1311.7 846.1,1311.7 846.1,1313.1 847.7,1313.1 847.7,1312.1 849.3,1312.1 849.3,1312.2 850.9,1312.2 850.9,1312.9 852.4,1312.9 852.4,1309.9 853.9,1309.9 853.9,1311.5 855.4,1311.5 855.4,1309.4 856.9,1309.4 856.9,1310.1 858.4,1310.1 858.4,1309 859.9,1309 859.9,1309.6 861.4,1309.6 861.4,1308.2 862.9,1308.2 862.9,1307.1 864.5,1307.1 864.5,1307.4 866.1,1307.4 866.1,1305 867.7,1305 867.7,1306 869.3,1306 869.3,1304.5 870.9,1304.5 870.9,1305.8 872.5,1305.8 872.5,1302.8 874.1,1302.8 874.1,1303.8 875.7,1303.8 875.7,1301.6 877.3,1301.6 877.3,1302.2 878.9,1302.2 878.9,1302.7 880.5,1302.7 880.5,1300.4 882.1,1300.4 882.1,1302.4 883.7,1302.4 883.7,1299.4 885.3,1299.4 885.3,1301.2 886.9,1301.2 886.9,1298.6 888.5,1298.6 888.5,1300.3 890.1,1300.3 890.1,1298.1 891.7,1298.1 891.7,1299.9 893.3,1299.9 893.3,1298.2 894.9,1298.2 894.9,1296.6 896.5,1296.6 896.5,1297.7 898.1,1297.7 898.1,1296.1 899.7,1296.1 899.7,1297 901.3,1297 901.3,1294.5 902.9,1294.5 902.9,1295.4 904.5,1295.4 904.5,1293.4 906.1,1293.4 906.1,1294.3 907.7,1294.3 907.7,1292.1 909.3,1292.1 909.3,1292.2 910.9,1292.2 910.9,1293 912.4,1293 912.4,1290.2 913.9,1290.2 913.9,1291.6 915.4,1291.6 915.4,1289 916.9,1289 916.9,1290.5 918.4,1290.5 918.4,1288.3 919.9,1288.3 919.9,1289.9 921.4,1289.9 921.4,1288.2 922.9,1288.2 922.9,1286.8 924.4,1286.8 924.4,1288.9 925.9,1288.9 925.9,1286.1 927.4,1286.1 927.4,1288.1 928.9,1288.1 928.9,1286 930.4,1286 930.4,1287.2 931.9,1287.2 931.9,1285.9 933.4,1285.9 933.4,1286.2 934.9,1286.2 934.9,1284 936.4,1284 936.4,1279.3 937.9,1279.3 937.9,1278.6 939.4,1278.6 939.4,1274.2 940.7,1274.2 940.7,1272.7 941.8,1272.7 941.8,1275.3 943,1275.3 943,1268.6 944.1,1268.6 944.1,1274.6 945.2,1274.6 945.2,1267 946.4,1267 946.4,1272.2 947.5,1272.2 947.5,1270.2 948.7,1270.2 948.7,1265.3 949.8,1265.3 949.8,1271.1 951,1271.1 951,1264.5 952.1,1264.5 952.1,1267.8 953.2,1267.8 953.2,1263.5 954.4,1263.5 954.4,1269.2 955.5,1269.2 955.5,1264.2 956.7,1264.2 956.7,1259.5 957.9,1259.5 957.9,1265.7 959.2,1265.7 959.2,1259.3 960.4,1259.3 960.4,1261.9 961.6,1261.9 961.6,1260.2 962.8,1260.2 962.8,1255.6 963.9,1255.6 963.9,1261.1 965.1,1261.1 965.1,1253.8 966.2,1253.8 966.2,1260.1 967.3,1260.1 967.3,1253.5 968.5,1253.5 968.5,1259.5 969.6,1259.5 969.6,1254.2 970.8,1254.2 970.8,1251.7 972,1251.7 972,1256.6 973.2,1256.6 973.2,1249.5 974.4,1249.5 974.4,1254.3 975.6,1254.3 975.6,1248.2 976.8,1248.2 976.8,1239 978,1239 978,1239 979.1,1239 979.1,1230.4 980.3,1230.4 980.3,1224.1 981.4,1224.1 981.4,1230.2 982.5,1230.2 982.5,1222.8 983.7,1222.8 983.7,1225.2 984.8,1225.2 984.8,1218.5 986,1218.5 986,1224.6 987.1,1224.6 987.1,1217.8 988.2,1217.8 988.2,1218 989.4,1218 989.4,1224.5 990.5,1224.5 990.5,1226 991.6,1226 991.6,1233.8 992.8,1233.8 992.8,1226.1 993.9,1226.1 993.9,1204.4 995,1204.4 995,1196.4 996.2,1196.4 996.2,1203.6 997.3,1203.6 997.3,1204.5 998.4,1204.5 998.4,1214.2 999.5,1214.2 999.5,1211.9 1000.6,1211.9 1000.6,1219 1001.8,1219 1001.8,1226.3 1002.9,1226.3 1002.9,1216.7 1004,1216.7 1004,1230.2 1005.2,1230.2 1005.2,1221.4 1006.3,1221.4 1006.3,1224.7 1007.5,1224.7 1007.5,1190.7 1008.6,1190.7 1008.6,1197.9 1009.7,1197.9 1009.7,1185.8 1010.9,1185.8 1010.9,1193.7 1012,1193.7 1012,1193 1013.2,1193 1013.2,1185.7 1014.3,1185.7 1014.3,1191.7 1015.4,1191.7 1015.4,1180.3 1016.6,1180.3 1016.6,1191.7 1017.7,1191.7 1017.7,1175.9 1018.8,1175.9 1018.8,1179.4 1020,1179.4 1020,1169.3 1021,1169.3 1021,1150 1022.2,1150 1022.2,1149.2 1023.3,1149.2 1023.3,1161.9 1024.5,1161.9 1024.5,1159.1 1025.6,1159.1 1025.6,1168 1026.8,1168 1026.8,1160.6 1027.9,1160.6 1027.9,1143 1029,1143 1029,1139.7 1030.1,1139.7 1030.1,1153.6 1031.2,1153.6 1031.2,1165.8 1032.4,1165.8 1032.4,1164.2 1033.5,1164.2 1033.5,1168.5 1034.6,1168.5 1034.6,1165.5 1035.8,1165.5 1035.8,1169.6 1036.9,1169.6 1036.9,1168.9 1038,1168.9 1038,1170.3 1039.2,1170.3 1039.2,1173.3 1040.3,1173.3 1040.3,1167.8 1041.4,1167.8 1041.4,1174.8 1042.6,1174.8 1042.6,1168.5 1043.7,1168.5 1043.7,1175.7 1044.9,1175.7 1044.9,1170.9 1046,1170.9 1046,1175.1 1047.1,1175.1 1047.1,1172.6 1048.3,1172.6 1048.3,1166.7 1049.4,1166.7 1049.4,1167.4 1050.6,1167.4 1050.6,1160.6 1051.7,1160.6 1051.7,1163.1 1052.8,1163.1 1052.8,1156.7 1054.5,1156.7 1054.5,1128.3 1056.2,1128.3 1056.2,1134.7 1057.3,1134.7 1057.3,1159.1 1058.4,1159.1 1058.4,1163.5 1059.6,1163.5 1059.6,1164.3 1060.7,1164.3 1060.7,1184.4 1061.8,1184.4 1061.8,1186.2 1063,1186.2 1063,1180.3 1064.1,1180.3 1064.1,1185.1 1065.3,1185.1 1065.3,1169 1066.4,1169 1066.4,1170.3 1067.6,1170.3 1067.6,1176 1068.7,1176 1068.7,1170.3 1069.8,1170.3 1069.8,1179.4 1071.1,1179.4 1071.1,1166.7 1072.4,1166.7 1072.4,1143.9 1073.7,1143.9 1073.7,1131.7 1075.2,1131.7 1075.2,1179.4 1076.6,1179.4 1076.6,1184.2 1077.7,1184.2 1077.7,1172.3 1078.8,1172.3 1078.8,1181.6 1080,1181.6 1080,1174.7 1081.1,1174.7 1081.1,1179.4 1082.3,1179.4 1082.3,1186.2 1083.5,1186.2 1083.5,1180.3 1084.6,1180.3 1084.6,1161.6 1085.7,1161.6 1085.7,1159 1086.9,1159 1086.9,1167.3 1088,1167.3 1088,1157.1 1089.1,1157.1 1089.1,1168.1 1090.2,1168.1 1090.2,1157.1 1091.3,1157.1 1091.3,1165.8 1092.4,1165.8 1092.4,1163.5 1093.6,1163.5 1093.6,1154.7 1094.8,1154.7 1094.8,1155.3 1095.9,1155.3 1095.9,1147.6 1097.1,1147.6 1097.1,1144.3 1098.2,1144.3 1098.2,1150.2 1099.3,1150.2 1099.3,1147 1100.5,1147 1100.5,1150.9 1101.6,1150.9 1101.6,1145 1102.7,1145 1102.7,1149.6 1103.8,1149.6 1103.8,1147.6 1105,1147.6 1105,1147.2 1106.2,1147.2 1106.2,1151.7 1107.5,1151.7 1107.5,1147.6 1108.7,1147.6 1108.7,1153.1 1109.9,1153.1 1109.9,1152.1 1111.1,1152.1 1111.1,1154.9 1112.4,1154.9 1112.4,1153.7 1113.6,1153.7 1113.6,1155.5 1115,1155.5 1115,1155.8 1116.7,1155.8 1116.7,1154.1 1118.4,1154.1 1118.4,1155.9 1120,1155.9 1120,1154.8 1121.7,1154.8 1121.7,1156.5 1123.4,1156.5 1123.4,1155.5 1125.1,1155.5 1125.1,1156.9 1127,1156.9 1127,1161.9 1128.8,1161.9 1128.8,1162.6 1130.7,1162.6 1130.7,1165.5 1132.3,1165.5 1132.3,1167.4 1133.8,1167.4 1133.8,1166.1 1135.3,1166.1 1135.3,1169.3 1136.8,1169.3 1136.8,1168.3 1138.3,1168.3 1138.3,1170.4 1139.9,1170.4 1139.9,1171.6 1141.6,1171.6 1141.6,1170.1 1143.2,1170.1 1143.2,1173.1 1144.9,1173.1 1144.9,1171.4 1146.5,1171.4 1146.5,1173.6 1148.2,1173.6 1148.2,1172.9 1149.8,1172.9 1149.8,1173.1 1151.5,1173.1 1151.5,1175.9 1153.1,1175.9 1153.1,1174.2 1154.8,1174.2 1154.8,1177.6 1156.4,1177.6 1156.4,1175.7 1158.1,1175.7 1158.1,1177.9 1159.7,1177.9 1159.7,1179.5 1161.4,1179.5 1161.4,1177.7 1163.1,1177.7 1163.1,1180.2 1164.7,1180.2 1164.7,1179.4 1166.4,1179.4 1166.4,1181.3 1168.1,1181.3 1168.1,1181.6 1169.7,1181.6 1169.7,1180.6 1171.2,1180.6 1171.2,1182.7 1172.8,1182.7 1172.8,1181 1174.3,1181 1174.3,1182.9 1175.9,1182.9 1175.9,1180.8 1177.4,1180.8 1177.4,1182.1 1179,1182.1 1179,1181.1 1180.5,1181.1 1180.5,1181.6 1182,1181.6 1182,1181.3 1183.5,1181.3 1183.5,1178.4 1185,1178.4 1185,1178.2 1186.5,1178.2 1186.5,1176 1188,1176 1188,1175.4 1189.6,1175.4 1189.6,1175.6 1191.3,1175.6 1191.3,1172.1 1192.9,1172.1 1192.9,1172.8 1194.6,1172.8 1194.6,1169.7 1196.2,1169.7 1196.2,1169.5 1197.9,1169.5 1197.9,1168 1199.5,1168 1199.5,1166.2 1201.2,1166.2 1201.2,1166.8 1202.8,1166.8 1202.8,1165.1 1204.5,1165.1 1204.5,1165.7 1206.1,1165.7 1206.1,1162.7 1207.8,1162.7 1207.8,1163 1209.3,1163 1209.3,1161.7 1210.8,1161.7 1210.8,1158.6 1212.3,1158.6 1212.3,1158.8 1213.8,1158.8 1213.8,1156.6 1215.3,1156.6 1215.3,1155.5 1216.9,1155.5 1216.9,1156.4 1218.6,1156.4 1218.6,1154.7 1220.2,1154.7 1220.2,1157.3 1221.9,1157.3 1221.9,1155.2 1223.5,1155.2 1223.5,1157.4 1225.2,1157.4 1225.2,1156.8 1226.8,1156.8 1226.8,1153.5 1228.5,1153.5 1228.5,1153.5 1230.2,1153.5 1230.2,1149.7 1231.8,1149.7 1231.8,1149.6 1233.5,1149.6 1233.5,1147 1235.2,1147 1235.2,1145.6 1236.8,1145.6 1236.8,1147.2 1238.5,1147.2 1238.5,1145.2 1240.1,1145.2 1240.1,1147.9 1241.8,1147.9 1241.8,1146.7 1243.4,1146.7 1243.4,1149 1245.1,1149 1245.1,1148.1 1246.7,1148.1 1246.7,1148.4 1248.2,1148.4 1248.2,1151 1249.8,1151 1249.8,1151.7 1251.4,1151.7 1251.4,1152.5 1252.9,1152.5 1252.9,1155.4 1254.4,1155.4 1254.4,1154.8 1255.9,1154.8 1255.9,1156.7 1257.4,1156.7 1257.4,1156.7 1258.9,1156.7 1258.9,1159.8 1260.4,1159.8 1260.4,1159.6 1262,1159.6 1262,1159.8 1263.5,1159.8 1263.5,1164 1265,1164 1265,1163.2 1266.5,1163.2 1266.5,1166 1268,1166 1268,1166.1 1269.5,1166.1 1269.5,1169.2 1271,1169.2 1271,1170.3 1272.6,1170.3 1272.6,1170.8 1274.1,1170.8 1274.1,1175.5 1275.6,1175.5 1275.6,1175.6 1277.1,1175.6 1277.1,1179 1278.6,1179 1278.6,1179.2 1280.1,1179.2 1280.1,1182 1281.6,1182 1281.6,1183.5 1283.2,1183.5 1283.2,1183.7 1284.7,1183.7 1284.7,1187.3 1286.2,1187.3 1286.2,1187.4 1287.7,1187.4 1287.7,1190.5 1289.2,1190.5 1289.2,1190.8 1290.7,1190.8 1290.7,1193.4 1292.2,1193.4 1292.2,1194.1 1293.8,1194.1 1293.8,1193 1295.4,1193 1295.4,1195.4 1297,1195.4 1297,1193.7 1298.6,1193.7 1298.6,1195.5 1300.2,1195.5 1300.2,1194.1 1301.9,1194.1 1301.9,1187.5 1303.7,1187.5 1303.7,1182.2 1305.4,1182.2 1305.4,1175.5 1307.3,1175.5 1307.3,1178.8 1309.2,1178.8 1309.2,1183.5 1311,1183.5 1311,1187.9 1312.5,1187.9 1312.5,1191.1 1314.1,1191.1 1314.1,1196.5 1315.6,1196.5 1315.6,1198.6 1317.2,1198.6 1317.2,1203.8 1318.7,1203.8 1318.7,1207.3 1320.4,1207.3 1320.4,1210 1322.2,1210 1322.2,1214.7 1323.9,1214.7 1323.9,1217.9 1325.6,1217.9 1325.6,1216.3 1327.2,1216.3 1327.2,1218.3 1328.8,1218.3 1328.8,1215.5 1330.4,1215.5 1330.4,1216.6 1332,1216.6 1332,1215.3 1333.6,1215.3 1333.6,1216.1 1335.2,1216.1 1335.2,1219.2 1336.8,1219.2 1336.8,1219.3 1338.3,1219.3 1338.3,1222.1 1339.9,1222.1 1339.9,1223.2 1341.5,1223.2 1341.5,1222.2 1343,1222.2 1343,1223.6 1344.5,1223.6 1344.5,1221.2 1346,1221.2 1346,1222 1347.5,1222 1347.5,1220.9 1349,1220.9 1349,1222.3 1350.5,1222.3 1350.5,1220.6 1352.1,1220.6 1352.1,1219.5 1353.6,1219.5 1353.6,1221.1 1355.1,1221.1 1355.1,1218.4 1356.6,1218.4 1356.6,1220.1 1358.1,1220.1 1358.1,1218 1359.6,1218 1359.6,1219.2 1361.1,1219.2 1361.1,1217.9 1362.9,1217.9 1362.9,1197.3 1364.9,1197.3 1364.9,1178.2 1366.9,1178.2 1366.9,1192.3 1368.9,1192.3 1368.9,1204.7 1370.7,1204.7 1370.7,1202.2 1372.3,1202.2 1372.3,1202.9 1373.8,1202.9 1373.8,1201 1375.4,1201 1375.4,1201.8 1377,1201.8 1377,1199.4 1378.6,1199.4 1378.6,1196.9 1380.1,1196.9 1380.1,1198.4 1381.6,1198.4 1381.6,1194.6 1383.1,1194.6 1383.1,1195.2 1384.6,1195.2 1384.6,1192.5 1386.1,1192.5 1386.1,1192.9 1387.6,1192.9 1387.6,1191.4 1389.2,1191.4 1389.2,1188.5 1390.8,1188.5 1390.8,1189 1392.4,1189 1392.4,1185.8 1394,1185.8 1394,1186 1395.6,1186 1395.6,1183.5 1397.2,1183.5 1397.2,1180.4 1398.8,1180.4 1398.8,1179.2 1400.3,1179.2 1400.3,1174.3 1401.9,1174.3 1401.9,1173.7 1403.5,1173.7 1403.5,1170.3 1405.2,1170.3 1405.2,1173 1406.9,1173 1406.9,1178 1408.7,1178 1408.7,1180.8 1410.5,1180.8 1410.5,1184.8 1412.2,1184.8 1412.2,1190.3 1414,1190.3 1414,1194.1 1415.7,1194.1 1415.7,1192.8 1417.2,1192.8 1417.2,1195.6 1418.7,1195.6 1418.7,1193.4 1420.2,1193.4 1420.2,1194.7 1421.7,1194.7 1421.7,1193.4 1423.2,1193.4 1423.2,1195.4 1424.7,1195.4 1424.7,1194.1 1426.3,1194.1 1426.3,1193 1427.9,1193 1427.9,1193.5 1429.5,1193.5 1429.5,1191.9 1431.1,1191.9 1431.1,1192.3 1432.7,1192.3 1432.7,1191.4 1434.8,1191.4 1434.8,1180.8 1437.4,1180.8 1437.4,1194.1 1439.6,1194.1 1439.6,1193.7 1441.2,1193.7 1441.2,1194.6 1442.8,1194.6 1442.8,1193 1444.3,1193 1444.3,1195.5 1445.9,1195.5 1445.9,1194.1 1446.7,1194.1" fill="none" stroke="#000" stroke-width="2.3" stroke-linejoin="miter" stroke-miterlimit="3" />
<polyline points="156.3,1163.4 157,1163.4 157,1178.7 158.4,1178.7 158.4,1175.2 159.8,1175.2 159.8,1179 161.1,1179 161.1,1168.2 162.5,1168.2 162.5,1170.4 163.8,1170.4 163.8,1177.7 165,1177.7 165,1171.3 166.2,1171.3 166.2,1177.3 167.3,1177.3 167.3,1172 168.5,1172 168.5,1182.5 169.7,1182.5 169.7,1177.4 170.9,1177.4 170.9,1181.4 172.1,1181.4 172.1,1182.3 173.2,1182.3 173.2,1171.6 174.4,1171.6 174.4,1175.9 175.5,1175.9 175.5,1166.1 176.7,1166.1 176.7,1166.2 177.8,1166.2 177.8,1160.7 179,1160.7 179,1156.4 180.2,1156.4 180.2,1165.7 181.3,1165.7 181.3,1161.9 182.5,1161.9 182.5,1170.3 183.7,1170.3 183.7,1162.3 184.8,1162.3 184.8,1167.6 186,1167.6 186,1168.8 187.2,1168.8 187.2,1163 188.5,1163 188.5,1170.5 189.7,1170.5 189.7,1164 190.9,1164 190.9,1169.5 192.1,1169.5 192.1,1163.3 193.3,1163.3 193.3,1167 194.6,1167 194.6,1162.5 195.8,1162.5 195.8,1163.4 197,1163.4 197,1166.7 198.2,1166.7 198.2,1160.3 199.4,1160.3 199.4,1170.5 200.6,1170.5 200.6,1163 201.8,1163 201.8,1173.5 203,1173.5 203,1167.7 204.2,1167.7 204.2,1173.1 205.4,1173.1 205.4,1175.9 206.6,1175.9 206.6,1163.6 207.8,1163.6 207.8,1166.9 208.9,1166.9 208.9,1158.9 210.1,1158.9 210.1,1164.4 211.3,1164.4 211.3,1155.8 212.5,1155.8 212.5,1155.1 213.8,1155.1 213.8,1184.2 215,1184.2 215,1182.8 216.2,1182.8 216.2,1173.3 217.3,1173.3 217.3,1179.4 218.5,1179.4 218.5,1171.2 219.7,1171.2 219.7,1173.6 220.8,1173.6 220.8,1167.6 222.1,1167.6 222.1,1162.8 223.5,1162.8 223.5,1167 224.8,1167 224.8,1155.8 226.2,1155.8 226.2,1156.5 227.5,1156.5 227.5,1159.5 228.7,1159.5 228.7,1154.6 229.9,1154.6 229.9,1162.6 231.1,1162.6 231.1,1160.5 232.2,1160.5 232.2,1165.5 233.4,1165.5 233.4,1161.3 234.6,1161.3 234.6,1167.6 235.8,1167.6 235.8,1171.1 237,1171.1 237,1168 238.2,1168 238.2,1174.9 239.3,1174.9 239.3,1172.1 240.5,1172.1 240.5,1181.9 241.7,1181.9 241.7,1175.8 242.9,1175.8 242.9,1181.4 244.2,1181.4 244.2,1179.4 245.6,1179.4 245.6,1167.7 246.9,1167.7 246.9,1169 248.3,1169 248.3,1160.7 249.6,1160.7 249.6,1157.7 250.8,1157.7 250.8,1164.1 252,1164.1 252,1160.3 253.2,1160.3 253.2,1166.7 254.4,1166.7 254.4,1160.3 255.6,1160.3 255.6,1172.3 256.8,1172.3 256.8,1167.6 258,1167.6 258,1165.6 259.2,1165.6 259.2,1167.7 260.4,1167.7 260.4,1160.8 261.5,1160.8 261.5,1168.3 262.7,1168.3 262.7,1162.7 263.9,1162.7 263.9,1167.4 265.1,1167.4 265.1,1162.1 266.3,1162.1 266.3,1154.8 267.5,1154.8 267.5,1162 268.7,1162 268.7,1154.7 269.9,1154.7 269.9,1159.6 271,1159.6 271,1148.5 272.2,1148.5 272.2,1154.8 273.4,1154.8 273.4,1151 274.6,1151 274.6,1146.7 275.7,1146.7 275.7,1149.2 276.9,1149.2 276.9,1141.3 278,1141.3 278,1146.9 279.2,1146.9 279.2,1139.5 280.3,1139.5 280.3,1139.9 281.6,1139.9 281.6,1164.8 282.9,1164.8 282.9,1164.5 284.1,1164.5 284.1,1157.4 285.3,1157.4 285.3,1157.8 286.5,1157.8 286.5,1146.3 287.6,1146.3 287.6,1152.9 288.8,1152.9 288.8,1143.5 290,1143.5 290,1142.7 291.3,1142.7 291.3,1146.5 292.6,1146.5 292.6,1136.2 294,1136.2 294,1137.1 295.3,1137.1 295.3,1132.6 296.4,1132.6 296.4,1122.7 297.5,1122.7 297.5,1118.8 298.6,1118.8 298.6,1108.6 299.7,1108.6 299.7,1103.9 301.2,1103.9 301.2,1098.7 302.9,1098.7 302.9,1088.8 304.6,1088.8 304.6,1086.3 306.3,1086.3 306.3,1079 308.1,1079 308.1,1071.4 309.9,1071.4 309.9,1068.1 311.8,1068.1 311.8,1059.6 313.5,1059.6 313.5,1050.7 315.2,1050.7 315.2,1048.6 316.9,1048.6 316.9,1039 318.5,1039 318.5,1036.7 320.2,1036.7 320.2,1029.2 321.8,1029.2 321.8,1022.3 323.5,1022.3 323.5,1021.2 325.1,1021.2 325.1,1011.3 326.8,1011.3 326.8,1011.6 328.5,1011.6 328.5,1004.2 330.2,1004.2 330.2,996 332.1,996 332.1,993.9 334,993.9 334,984.9 335.7,984.9 335.7,980.2 337.4,980.2 337.4,979.7 339,979.7 339,972 340.7,972 340.7,973.5 342.4,973.5 342.4,968.3 344,968.3 344,960.3 345.7,960.3 345.7,958.5 347.4,958.5 347.4,948.9 349,948.9 349,948.2 350.7,948.2 350.7,940.6 352.3,940.6 352.3,938.4 354,938.4 354,941.2 355.6,941.2 355.6,935.6 357.3,935.6 357.3,937.4 359,937.4 359,935 360.6,935 360.6,933.1 362.3,933.1 362.3,934.1 364,934.1 364,931.6 365.6,931.6 365.6,933.9 367.3,933.9 367.3,930.9 368.9,930.9 368.9,933.1 370.5,933.1 370.5,938 372.1,938 372.1,938.3 373.8,938.3 373.8,944.7 375.4,944.7 375.4,944.5 377,944.5 377,948.9 378.7,948.9 378.7,961 380.4,961 380.4,967.1 382.1,967.1 382.1,979.3 383.8,979.3 383.8,987.6 385.6,987.6 385.6,992.5 387.4,992.5 387.4,1001.3 389.3,1001.3 389.3,1007 391.1,1007 391.1,1015.2 393,1015.2 393,1026.3 394.9,1026.3 394.9,1034.7 396.6,1034.7 396.6,1040.7 398.3,1040.7 398.3,1052.1 400,1052.1 400,1057.4 401.6,1057.4 401.6,1068.9 403.3,1068.9 403.3,1076.2 404.9,1076.2 404.9,1076.9 406.6,1076.9 406.6,1083.9 408.2,1083.9 408.2,1083.2 409.9,1083.2 409.9,1090.1 411.6,1090.1 411.6,1090.1 413.2,1090.1 413.2,1092.4 414.9,1092.4 414.9,1100.8 416.5,1100.8 416.5,1102.8 418.2,1102.8 418.2,1109.3 419.9,1109.3 419.9,1112.2 421.5,1112.2 421.5,1112.9 423.1,1112.9 423.1,1117.6 424.7,1117.6 424.7,1117.8 426.4,1117.8 426.4,1119.6 428.3,1119.6 428.3,1129.7 430.2,1129.7 430.2,1131.6 432,1131.6 432,1135.6 433.9,1135.6 433.9,1143 435.7,1143 435.7,1145.4 437.4,1145.4 437.4,1143.7 439.1,1143.7 439.1,1149.5 440.8,1149.5 440.8,1148.1 442.4,1148.1 442.4,1152.5 444.1,1152.5 444.1,1151 446.3,1151 446.3,1167.6 448.5,1167.6 448.5,1167.2 450.2,1167.2 450.2,1172.8 451.9,1172.8 451.9,1168.2 453.5,1168.2 453.5,1174.6 455.2,1174.6 455.2,1173.1 456.9,1173.1 456.9,1175.8 458.8,1175.8 458.8,1184.8 460.6,1184.8 460.6,1189.7 462.3,1189.7 462.3,1188.3 464,1188.3 464,1193.2 465.6,1193.2 465.6,1192.3 467.3,1192.3 467.3,1195.6 469,1195.6 469,1195.3 470.6,1195.3 470.6,1195.6 472.3,1195.6 472.3,1200.2 474,1200.2 474,1200.4 475.6,1200.4 475.6,1206.6 477.3,1206.6 477.3,1206.4 478.9,1206.4 478.9,1204.7 480.4,1204.7 480.4,1208.2 482,1208.2 482,1205.2 483.5,1205.2 483.5,1209.3 485.1,1209.3 485.1,1205.3 486.6,1205.3 486.6,1208.6 488.1,1208.6 488.1,1204.3 489.7,1204.3 489.7,1206.9 491.2,1206.9 491.2,1206.4 492.8,1206.4 492.8,1207.3 494.5,1207.3 494.5,1215.2 496.1,1215.2 496.1,1215 497.8,1215 497.8,1224.7 499.5,1224.7 499.5,1225.7 501.1,1225.7 501.1,1221.3 502.8,1221.3 502.8,1225 504.5,1225 504.5,1219.3 506.1,1219.3 506.1,1220.6 507.8,1220.6 507.8,1217.4 509.4,1217.4 509.4,1218.3 511.1,1218.3 511.1,1224.7 512.8,1224.7 512.8,1223.5 514.4,1223.5 514.4,1227.1 516.1,1227.1 516.1,1228.5 517.7,1228.5 517.7,1227.3 519.4,1227.3 519.4,1234.3 521,1234.3 521,1231.2 522.7,1231.2 522.7,1238.1 524.4,1238.1 524.4,1236.8 526,1236.8 526,1232.3 527.7,1232.3 527.7,1233.9 529.4,1233.9 529.4,1226.9 531,1226.9 531,1228.5 532.7,1228.5 532.7,1223 534.4,1223 534.4,1216.8 536.2,1216.8 536.2,1213.5 538.1,1213.5 538.1,1206.4 539.8,1206.4 539.8,1195.6 541.5,1195.6 541.5,1191.2 543.2,1191.2 543.2,1178.3 544.9,1178.3 544.9,1173.1 546.6,1173.1 546.6,1162.1 548.3,1162.1 548.3,1149 550.1,1149 550.1,1143.3 552,1143.3 552,1131.6 553.9,1131.6 553.9,1133.4 556,1133.4 556,1137.1 557.9,1137.1 557.9,1146.6 559.6,1146.6 559.6,1152.5 561.4,1152.5 561.4,1165.8 563.1,1165.8 563.1,1173.1 565,1173.1 565,1186.9 567.1,1186.9 567.1,1203.6 569,1203.6 569,1200.7 570.9,1200.7 570.9,1193.6 572.8,1193.6 572.8,1189.7 574.7,1189.7 574.7,1181.1 576.8,1181.1 576.8,1170.4 578.8,1170.4 578.8,1174.8 581,1174.8 581,1181.4 583,1181.4 583,1197.8 585.1,1197.8 585.1,1211.9 587,1211.9 587,1215.7 588.9,1215.7 588.9,1225.9 590.7,1225.9 590.7,1231.3 592.4,1231.3 592.4,1232.2 594,1232.2 594,1237.1 595.6,1237.1 595.6,1234.1 597.2,1234.1 597.2,1238.1 598.7,1238.1 598.7,1237 600.3,1237 600.3,1242.9 601.9,1242.9 601.9,1242.3 603.5,1242.3 603.5,1241.4 605.1,1241.4 605.1,1247.1 606.7,1247.1 606.7,1244.3 608.2,1244.3 608.2,1248.1 609.8,1248.1 609.8,1245.9 611.4,1245.9 611.4,1251.5 613,1251.5 613,1250.6 614.6,1250.6 614.6,1249.6 616.2,1249.6 616.2,1253.9 617.8,1253.9 617.8,1252.8 619.3,1252.8 619.3,1256.9 620.9,1256.9 620.9,1255.6 622.5,1255.6 622.5,1259.1 624.1,1259.1 624.1,1259 625.7,1259 625.7,1257.6 627.2,1257.6 627.2,1260.1 628.7,1260.1 628.7,1257.3 630.2,1257.3 630.2,1259.1 631.7,1259.1 631.7,1256 633.2,1256 633.2,1258.3 634.7,1258.3 634.7,1256.6 636.2,1256.6 636.2,1258.3 637.7,1258.3 637.7,1256.2 639.2,1256.2 639.2,1258.2 640.7,1258.2 640.7,1256.2 642.3,1256.2 642.3,1255.9 643.8,1255.9 643.8,1259 645.3,1259 645.3,1256.5 646.8,1256.5 646.8,1258.8 648.3,1258.8 648.3,1257.5 649.8,1257.5 649.8,1260.7 651.3,1260.7 651.3,1258.6 652.8,1258.6 652.8,1261.6 654.3,1261.6 654.3,1259.8 655.8,1259.8 655.8,1263.1 657.3,1263.1 657.3,1261.7 658.9,1261.7 658.9,1260.6 660.4,1260.6 660.4,1262.4 661.9,1262.4 661.9,1259.9 663.4,1259.9 663.4,1260.9 664.9,1260.9 664.9,1258.8 666.4,1258.8 666.4,1259.2 667.9,1259.2 667.9,1256.9 669.4,1256.9 669.4,1259.5 670.9,1259.5 670.9,1256.4 672.4,1256.4 672.4,1257.7 673.9,1257.7 673.9,1256.2 675.5,1256.2 675.5,1255.3 677,1255.3 677,1258 678.5,1258 678.5,1256.1 680,1256.1 680,1258.1 681.5,1258.1 681.5,1255.7 683,1255.7 683,1259 684.5,1259 684.5,1257.1 686,1257.1 686,1259.9 687.5,1259.9 687.5,1256.5 689,1256.5 689,1259.8 690.5,1259.8 690.5,1259 692.1,1259 692.1,1258.9 693.6,1258.9 693.6,1260.3 695.1,1260.3 695.1,1257.9 696.6,1257.9 696.6,1260.6 698.1,1260.6 698.1,1259.6 699.6,1259.6 699.6,1262.1 701.1,1262.1 701.1,1260.2 702.6,1260.2 702.6,1262.7 704.1,1262.7 704.1,1260.5 705.6,1260.5 705.6,1262.4 707.1,1262.4 707.1,1261.7 708.7,1261.7 708.7,1260.6 710.3,1260.6 710.3,1262.5 711.8,1262.5 711.8,1260.6 713.4,1260.6 713.4,1263.5 715,1263.5 715,1261 716.6,1261 716.6,1264.4 718.2,1264.4 718.2,1262.5 719.7,1262.5 719.7,1264.8 721.3,1264.8 721.3,1261.6 722.9,1261.6 722.9,1264.2 724.5,1264.2 724.5,1262.4 726.1,1262.4 726.1,1264.5 727.6,1264.5 727.6,1262.8 729.2,1262.8 729.2,1264.2 730.8,1264.2 730.8,1265.9 732.3,1265.9 732.3,1263.4 733.8,1263.4 733.8,1265.6 735.4,1265.6 735.4,1264 736.9,1264 736.9,1266.4 738.5,1266.4 738.5,1263.3 740,1263.3 740,1266.5 741.5,1266.5 741.5,1264.4 743.1,1264.4 743.1,1266.5 744.6,1266.5 744.6,1264.5 746.2,1264.5 746.2,1266.3 747.7,1266.3 747.7,1264.4 749.2,1264.4 749.2,1265.2 750.8,1265.2 750.8,1267.4 752.2,1267.4 752.2,1265.5 753.8,1265.5 753.8,1267.4 755.2,1267.4 755.2,1265.6 756.8,1265.6 756.8,1268 758.2,1268 758.2,1267 759.8,1267 759.8,1269.3 761.2,1269.3 761.2,1268.2 762.8,1268.2 762.8,1265.8 764.4,1265.8 764.4,1268.3 766,1268.3 766,1265.2 767.6,1265.2 767.6,1267.5 769.2,1267.5 769.2,1266.2 770.8,1266.2 770.8,1265.4 772.3,1265.4 772.3,1267.1 773.8,1267.1 773.8,1264 775.4,1264 775.4,1267.5 776.9,1267.5 776.9,1264.4 778.5,1264.4 778.5,1266.1 780,1266.1 780,1264.6 781.5,1264.6 781.5,1265.9 783.1,1265.9 783.1,1265.1 784.6,1265.1 784.6,1266.4 786.2,1266.4 786.2,1264.6 787.7,1264.6 787.7,1265.8 789.2,1265.8 789.2,1265.2 790.8,1265.2 790.8,1264 792.3,1264 792.3,1266.7 793.8,1266.7 793.8,1263.1 795.4,1263.1 795.4,1266.7 796.9,1266.7 796.9,1263.8 798.5,1263.8 798.5,1265.3 800,1265.3 800,1262.7 801.5,1262.7 801.5,1265.6 803.1,1265.6 803.1,1263.6 804.6,1263.6 804.6,1266.1 806.2,1266.1 806.2,1263.1 807.7,1263.1 807.7,1266.2 809.2,1266.2 809.2,1264.2 810.8,1264.2 810.8,1262.6 812.3,1262.6 812.3,1266 813.9,1266 813.9,1263.4 815.4,1263.4 815.4,1265.8 817,1265.8 817,1262.6 818.5,1262.6 818.5,1265.2 820,1265.2 820,1262.8 821.6,1262.8 821.6,1264.3 823.1,1264.3 823.1,1262.7 824.7,1262.7 824.7,1264 826.2,1264 826.2,1261.4 827.8,1261.4 827.8,1263.8 829.3,1263.8 829.3,1263.2 830.9,1263.2 830.9,1262.3 832.4,1262.3 832.4,1264.3 833.9,1264.3 833.9,1262.1 835.5,1262.1 835.5,1263.2 837,1263.2 837,1261.7 838.6,1261.7 838.6,1263 840.1,1263 840.1,1261.8 841.6,1261.8 841.6,1263.5 843.2,1263.5 843.2,1260.4 844.7,1260.4 844.7,1262.5 846.3,1262.5 846.3,1259.7 847.8,1259.7 847.8,1262.6 849.3,1262.6 849.3,1261.2 850.9,1261.2 850.9,1260.4 852.4,1260.4 852.4,1263 853.9,1263 853.9,1260.3 855.5,1260.3 855.5,1262.6 857,1262.6 857,1259.1 858.6,1259.1 858.6,1261 860.1,1261 860.1,1258.9 861.6,1258.9 861.6,1261.6 863.2,1261.6 863.2,1259.4 864.7,1259.4 864.7,1262.3 866.3,1262.3 866.3,1259.3 867.8,1259.3 867.8,1261 869.3,1261 869.3,1260.2 870.9,1260.2 870.9,1259.8 872.4,1259.8 872.4,1262 873.9,1262 873.9,1259.1 875.5,1259.1 875.5,1261.7 877,1261.7 877,1258.8 878.6,1258.8 878.6,1262.2 880.1,1262.2 880.1,1258.3 881.6,1258.3 881.6,1262.1 883.2,1262.1 883.2,1259 884.7,1259 884.7,1262 886.3,1262 886.3,1259.4 887.8,1259.4 887.8,1260.7 889.3,1260.7 889.3,1260.2 890.9,1260.2 890.9,1258.7 892.4,1258.7 892.4,1260.4 893.9,1260.4 893.9,1258 895.5,1258 895.5,1260.7 897,1260.7 897,1258.8 898.6,1258.8 898.6,1260.5 900.1,1260.5 900.1,1258.8 901.6,1258.8 901.6,1260.8 903.2,1260.8 903.2,1257.8 904.7,1257.8 904.7,1259.8 906.3,1259.8 906.3,1258.5 907.8,1258.5 907.8,1260 909.3,1260 909.3,1259.2 910.9,1259.2 910.9,1257.5 912.4,1257.5 912.4,1260.7 913.9,1260.7 913.9,1258.9 915.4,1258.9 915.4,1262.1 916.9,1262.1 916.9,1259.5 918.4,1259.5 918.4,1261.7 919.9,1261.7 919.9,1260 921.4,1260 921.4,1261.2 922.9,1261.2 922.9,1261.9 924.4,1261.9 924.4,1259.7 925.9,1259.7 925.9,1262 927.4,1262 927.4,1260 928.9,1260 928.9,1262.5 930.4,1262.5 930.4,1259.6 931.9,1259.6 931.9,1262.8 933.4,1262.8 933.4,1260.1 934.9,1260.1 934.9,1263.1 936.4,1263.1 936.4,1259.3 937.9,1259.3 937.9,1263.1 939.4,1263.1 939.4,1261.2 940.9,1261.2 940.9,1259.9 942.6,1259.9 942.6,1262.6 944.3,1262.6 944.3,1260.8 945.9,1260.8 945.9,1263.6 947.6,1263.6 947.6,1260.9 949.3,1260.9 949.3,1262.2 950.9,1262.2 950.9,1263.1 952.6,1263.1 952.6,1259.9 954.3,1259.9 954.3,1261.1 956,1261.1 956,1259.2 957.7,1259.2 957.7,1260.4 959.4,1260.4 959.4,1258.2 961,1258.2 961,1255.4 962.6,1255.4 962.6,1255.3 964.2,1255.3 964.2,1250.7 965.8,1250.7 965.8,1251.9 967.4,1251.9 967.4,1248.2 968.8,1248.2 968.8,1245.1 970,1245.1 970,1249.3 971.2,1249.3 971.2,1242.8 972.4,1242.8 972.4,1248 973.6,1248 973.6,1242.1 974.9,1242.1 974.9,1237.1 976.2,1237.1 976.2,1236.6 977.5,1236.6 977.5,1230.1 979,1230.1 979,1210.4 980.5,1210.4 980.5,1200.1 982.2,1200.1 982.2,1132.1 983.9,1132.1 983.9,1134.4 985.2,1134.4 985.2,1124.8 986.5,1124.8 986.5,1126.1 987.8,1126.1 987.8,1135.8 989.1,1135.8 989.1,1135.2 990.4,1135.2 990.4,1142 991.7,1142 991.7,1144.3 993,1144.3 993,1142.7 994.3,1142.7 994.3,1146 995.7,1146 995.7,1155 997,1155 997,1153.7 998.3,1153.7 998.3,1159 999.6,1159 999.6,1161.3 1000.7,1161.3 1000.7,1156.5 1001.8,1156.5 1001.8,1161.2 1002.9,1161.2 1002.9,1155.3 1004,1155.3 1004,1160 1005.2,1160 1005.2,1169.9 1006.3,1169.9 1006.3,1176.2 1007.4,1176.2 1007.4,1186 1008.6,1186 1008.6,1190.1 1009.7,1190.1 1009.7,1183.4 1010.9,1183.4 1010.9,1185.1 1012,1185.1 1012,1180 1013.1,1180 1013.1,1181.6 1014.4,1181.6 1014.4,1184.6 1015.9,1184.6 1015.9,1176.4 1017.3,1176.4 1017.3,1177 1018.7,1177 1018.7,1150 1020,1150 1020,1150.5 1021.1,1150.5 1021.1,1140.5 1022.2,1140.5 1022.2,1145.4 1023.4,1145.4 1023.4,1135.1 1024.5,1135.1 1024.5,1137.5 1025.6,1137.5 1025.6,1134 1026.8,1134 1026.8,1119.6 1027.9,1119.6 1027.9,1111.3 1029,1111.3 1029,1113.6 1030.1,1113.6 1030.1,1109.8 1031.3,1109.8 1031.3,1116.4 1032.4,1116.4 1032.4,1117 1033.5,1117 1033.5,1153 1034.6,1153 1034.6,1155.3 1035.7,1155.3 1035.7,1162.6 1036.9,1162.6 1036.9,1160.1 1038,1160.1 1038,1167 1039.2,1167 1039.2,1170.9 1040.3,1170.9 1040.3,1167.6 1041.5,1167.6 1041.5,1178.2 1042.6,1178.2 1042.6,1179.4 1043.8,1179.4 1043.8,1193 1044.9,1193 1044.9,1187.4 1046,1187.4 1046,1190 1047.1,1190 1047.1,1180.1 1048.2,1180.1 1048.2,1184 1049.4,1184 1049.4,1192 1050.5,1192 1050.5,1179.8 1051.7,1179.8 1051.7,1190.7 1052.8,1190.7 1052.8,1188.4 1054,1188.4 1054,1188.7 1055.1,1188.7 1055.1,1202.5 1056.2,1202.5 1056.2,1191.2 1057.3,1191.2 1057.3,1208.9 1058.4,1208.9 1058.4,1204.3 1059.6,1204.3 1059.6,1201.9 1060.7,1201.9 1060.7,1214.6 1061.8,1214.6 1061.8,1203.2 1063,1203.2 1063,1217.2 1064.1,1217.2 1064.1,1212.2 1065.3,1212.2 1065.3,1204.6 1066.4,1204.6 1066.4,1212.9 1067.6,1212.9 1067.6,1198.8 1068.7,1198.8 1068.7,1203.5 1069.8,1203.5 1069.8,1197.5 1071,1197.5 1071,1187.8 1072.1,1187.8 1072.1,1188.4 1073.2,1188.4 1073.2,1181.6 1074.3,1181.6 1074.3,1184.9 1075.5,1184.9 1075.5,1199.8 1076.6,1199.8 1076.6,1204 1077.7,1204 1077.7,1198.9 1078.9,1198.9 1078.9,1208.6 1080,1208.6 1080,1198 1081.2,1198 1081.2,1206.9 1082.3,1206.9 1082.3,1204.3 1083.5,1204.3 1083.5,1191.5 1084.6,1191.5 1084.6,1201.3 1085.7,1201.3 1085.7,1188.4 1086.8,1188.4 1086.8,1165.8 1088,1165.8 1088,1156 1089.1,1156 1089.1,1154.4 1090.3,1154.4 1090.3,1151.2 1091.4,1151.2 1091.4,1143 1092.6,1143 1092.6,1144.7 1093.7,1144.7 1093.7,1149.4 1094.8,1149.4 1094.8,1145.9 1095.9,1145.9 1095.9,1154.5 1097,1154.5 1097,1150.4 1098.1,1150.4 1098.1,1156.7 1099.3,1156.7 1099.3,1157.2 1100.4,1157.2 1100.4,1155.6 1101.5,1155.6 1101.5,1156.8 1102.6,1156.8 1102.6,1154.9 1103.7,1154.9 1103.7,1155.5 1104.8,1155.5 1104.8,1158.4 1105.9,1158.4 1105.9,1151 1107,1151 1107,1157.9 1108.2,1157.9 1108.2,1151.7 1109.2,1151.7 1109.2,1156 1110.3,1156 1110.3,1151.9 1111.5,1151.9 1111.5,1154.6 1112.6,1154.6 1112.6,1151.3 1113.7,1151.3 1113.7,1153 1114.8,1153 1114.8,1153.6 1116.1,1153.6 1116.1,1148.8 1117.3,1148.8 1117.3,1154.2 1118.6,1154.2 1118.6,1149.5 1119.8,1149.5 1119.8,1154.5 1121.1,1154.5 1121.1,1150.6 1122.3,1150.6 1122.3,1149.8 1123.6,1149.8 1123.6,1155.8 1124.8,1155.8 1124.8,1150 1126,1150 1126,1156.6 1127.2,1156.6 1127.2,1152.1 1128.5,1152.1 1128.5,1155.5 1129.8,1155.5 1129.8,1158 1131.3,1158 1131.3,1157.1 1132.8,1157.1 1132.8,1161.5 1134.3,1161.5 1134.3,1160.6 1135.8,1160.6 1135.8,1163 1137.5,1163 1137.5,1163.8 1139.4,1163.8 1139.4,1161.2 1141.2,1161.2 1141.2,1162.5 1143.1,1162.5 1143.1,1160.5 1144.8,1160.5 1144.8,1158.3 1146.5,1158.3 1146.5,1159.9 1148.2,1159.9 1148.2,1157.6 1149.8,1157.6 1149.8,1158.5 1151.5,1158.5 1151.5,1155.6 1153.2,1155.6 1153.2,1155.5 1154.9,1155.5 1154.9,1154.3 1156.8,1154.3 1156.8,1150.4 1158.6,1150.4 1158.6,1150.3 1160.5,1150.3 1160.5,1148.1 1162.2,1148.1 1162.2,1146.2 1163.9,1146.2 1163.9,1146.9 1165.6,1146.9 1165.6,1144.3 1167.2,1144.3 1167.2,1145.3 1168.9,1145.3 1168.9,1143.6 1170.6,1143.6 1170.6,1143.1 1172.2,1143.1 1172.2,1143.9 1173.9,1143.9 1173.9,1142.3 1175.5,1142.3 1175.5,1144.3 1177.2,1144.3 1177.2,1142.5 1178.8,1142.5 1178.8,1143.7 1180.5,1143.7 1180.5,1143.1 1182.1,1143.1 1182.1,1139.2 1183.8,1139.2 1183.8,1137.4 1185.5,1137.4 1185.5,1133.2 1187.1,1133.2 1187.1,1127.8 1188.8,1127.8 1188.8,1124.2 1190.4,1124.2 1190.4,1118.3 1192,1118.3 1192,1111.5 1193.5,1111.5 1193.5,1108.4 1195,1108.4 1195,1101.3 1196.5,1101.3 1196.5,1097.2 1198,1097.2 1198,1090.9 1199.5,1090.9 1199.5,1091.4 1201.2,1091.4 1201.2,1093.4 1202.9,1093.4 1202.9,1093.4 1204.5,1093.4 1204.5,1095.6 1206,1095.6 1206,1100.5 1207.6,1100.5 1207.6,1102.6 1209.1,1102.6 1209.1,1107.1 1210.8,1107.1 1210.8,1102.9 1212.7,1102.9 1212.7,1095.9 1214.4,1095.9 1214.4,1092.4 1216.1,1092.4 1216.1,1090.7 1217.7,1090.7 1217.7,1086.1 1219.4,1086.1 1219.4,1084.7 1221,1084.7 1221,1080.8 1222.7,1080.8 1222.7,1078.5 1224.2,1078.5 1224.2,1077.5 1225.8,1077.5 1225.8,1073.7 1227.2,1073.7 1227.2,1073 1228.8,1073 1228.8,1070.1 1230.2,1070.1 1230.2,1068.6 1231.9,1068.6 1231.9,1068.2 1233.8,1068.2 1233.8,1064.8 1235.6,1064.8 1235.6,1065.3 1237.5,1065.3 1237.5,1063.6 1239.2,1063.6 1239.2,1060 1240.9,1060 1240.9,1059.5 1242.6,1059.5 1242.6,1055.6 1244.2,1055.6 1244.2,1054.4 1245.9,1054.4 1245.9,1049.9 1247.6,1049.9 1247.6,1048.7 1249.3,1048.7 1249.3,1051.5 1251.2,1051.5 1251.2,1052.7 1253,1052.7 1253,1057 1254.9,1057 1254.9,1058.6 1256.5,1058.6 1256.5,1063.2 1258,1063.2 1258,1069.3 1259.5,1069.3 1259.5,1073.1 1261,1073.1 1261,1079.3 1262.5,1079.3 1262.5,1083.5 1264.2,1083.5 1264.2,1089.4 1266.1,1089.4 1266.1,1096.8 1267.9,1096.8 1267.9,1100.8 1269.8,1100.8 1269.8,1108.3 1271.5,1108.3 1271.5,1113.1 1273,1113.1 1273,1113.8 1274.5,1113.8 1274.5,1119.3 1276,1119.3 1276,1121 1277.5,1121 1277.5,1125.7 1279.2,1125.7 1279.2,1128.1 1281.4,1128.1 1281.4,1129.1 1283.2,1129.1 1283.2,1128.3 1284.7,1128.3 1284.7,1130.7 1286.2,1130.7 1286.2,1129.1 1287.7,1129.1 1287.7,1131.4 1289.2,1131.4 1289.2,1129.6 1290.7,1129.6 1290.7,1132.2 1292.2,1132.2 1292.2,1131.8 1293.8,1131.8 1293.8,1133.5 1295.4,1133.5 1295.4,1138.1 1297,1138.1 1297,1139.4 1298.6,1139.4 1298.6,1144 1300.2,1144 1300.2,1146.4 1301.8,1146.4 1301.8,1147.8 1303.4,1147.8 1303.4,1151.3 1305,1151.3 1305,1151.7 1306.5,1151.7 1306.5,1155.8 1308.1,1155.8 1308.1,1157 1309.7,1157 1309.7,1161.7 1311.3,1161.7 1311.3,1169 1312.9,1169 1312.9,1172.6 1314.5,1172.6 1314.5,1179 1316.1,1179 1316.1,1183.5 1317.7,1183.5 1317.7,1186.8 1319.3,1186.8 1319.3,1191.3 1320.8,1191.3 1320.8,1194.1 1322.4,1194.1 1322.4,1199.7 1324,1199.7 1324,1202 1325.6,1202 1325.6,1198 1327.2,1198 1327.2,1195.7 1328.8,1195.7 1328.8,1189.9 1330.4,1189.9 1330.4,1188.5 1332,1188.5 1332,1183.5 1333.6,1183.5 1333.6,1181.9 1335.2,1181.9 1335.2,1183.3 1336.8,1183.3 1336.8,1181.3 1338.3,1181.3 1338.3,1182.8 1339.9,1182.8 1339.9,1182.1 1341.6,1182.1 1341.6,1184 1343.3,1184 1343.3,1187.1 1345.1,1187.1 1345.1,1188.8 1346.8,1188.8 1346.8,1186.9 1348.3,1186.9 1348.3,1188.2 1349.8,1188.2 1349.8,1185.4 1351.3,1185.4 1351.3,1186.3 1352.8,1186.3 1352.8,1184.2 1354.3,1184.2 1354.3,1184.9 1355.8,1184.9 1355.8,1183.5 1357.4,1183.5 1357.4,1176.2 1359,1176.2 1359,1172.8 1360.6,1172.8 1360.6,1164.9 1362.2,1164.9 1362.2,1160.9 1363.8,1160.9 1363.8,1154.3 1365.4,1154.3 1365.4,1149 1367.1,1149 1367.1,1144.7 1368.7,1144.7 1368.7,1138.9 1370.4,1138.9 1370.4,1135.6 1372,1135.6 1372,1129 1373.7,1129 1373.7,1125.4 1375.3,1125.4 1375.3,1118.9 1377,1118.9 1377,1114.6 1378.6,1114.6 1378.6,1107 1380.3,1107 1380.3,1098 1381.9,1098 1381.9,1091.6 1383.6,1091.6 1383.6,1082.8 1385.4,1082.8 1385.4,1061.5 1387.4,1061.5 1387.4,1043 1389.4,1043 1389.4,1036.3 1391.4,1036.3 1391.4,1027.1 1393.2,1027.1 1393.2,1030.9 1394.9,1030.9 1394.9,1036.9 1396.5,1036.9 1396.5,1040.4 1398.2,1040.4 1398.2,1045.6 1399.8,1045.6 1399.8,1041.7 1401.3,1041.7 1401.3,1035.6 1402.8,1035.6 1402.8,1033.4 1404.3,1033.4 1404.3,1027.1 1405.8,1027.1 1405.8,1023.4 1407.3,1023.4 1407.3,1017.6 1408.8,1017.6 1408.8,1013.8 1410.5,1013.8 1410.5,1004.1 1412.2,1004.1 1412.2,992.3 1414,992.3 1414,982 1415.7,982 1415.7,977 1417.3,977 1417.3,970.5 1418.9,970.5 1418.9,966.3 1420.5,966.3 1420.5,959.5 1422.1,959.5 1422.1,955.5 1423.9,955.5 1423.9,946 1425.9,946 1425.9,934.3 1427.9,934.3 1427.9,922.9 1429.8,922.9 1429.8,913.1 1431.5,913.1 1431.5,905.8 1433,905.8 1433,894.6 1434.5,894.6 1434.5,886.6 1436.2,886.6 1436.2,903.9 1437.9,903.9 1437.9,918.4 1440.1,918.4 1440.1,950.2 1442.8,950.2 1442.8,1008.5 1445.1,1008.5 1445.1,1010.6 1447.1,1010.6 1447.1,1013.8 1448.1,1013.8" fill="none" stroke="#920000" stroke-width="2.4" stroke-linejoin="miter" stroke-miterlimit="3" />
<text transform="translate(315.8 1003.7) rotate(-90)" font-family="'Liberation Sans', sans-serif" font-size="23" font-weight="normal" fill="#000" textLength="54" lengthAdjust="spacingAndGlyphs" >3579.4</text>
<line x1="312.7" y1="1008.4" x2="312.7" y2="1047.2" stroke="#000" stroke-width="3.0" stroke-linecap="butt"/>
<text transform="translate(367 873.5) rotate(-90)" font-family="'Liberation Sans', sans-serif" font-size="23" font-weight="normal" fill="#000" textLength="54" lengthAdjust="spacingAndGlyphs" >3440.7</text>
<line x1="362" y1="879.7" x2="362" y2="918.4" stroke="#000" stroke-width="3.0" stroke-linecap="butt"/>
<text transform="translate(556 1072.9) rotate(-90)" font-family="'Liberation Sans', sans-serif" font-size="23" font-weight="normal" fill="#000" textLength="54" lengthAdjust="spacingAndGlyphs" >2925.8</text>
<line x1="552.1" y1="1080.4" x2="552.1" y2="1117.8" stroke="#000" stroke-width="3.0" stroke-linecap="butt"/>
<text transform="translate(582.3 1111.6) rotate(-90)" font-family="'Liberation Sans', sans-serif" font-size="23" font-weight="normal" fill="#000" textLength="54" lengthAdjust="spacingAndGlyphs" >2858.1</text>
<line x1="577" y1="1120.5" x2="577" y2="1157.9" stroke="#000" stroke-width="3.0" stroke-linecap="butt"/>
<text transform="translate(756.3 1204.9) rotate(-90)" font-family="'Liberation Sans', sans-serif" font-size="23" font-weight="normal" fill="#000" textLength="54" lengthAdjust="spacingAndGlyphs" >2374.3</text>
<line x1="754.4" y1="1209.1" x2="754.4" y2="1248.2" stroke="#000" stroke-width="3.0" stroke-linecap="butt"/>
<text transform="translate(771.8 1204.9) rotate(-90)" font-family="'Liberation Sans', sans-serif" font-size="23" font-weight="normal" fill="#000" textLength="54" lengthAdjust="spacingAndGlyphs" >2336.9</text>
<line x1="769" y1="1212.1" x2="769" y2="1250.2" stroke="#000" stroke-width="3.0" stroke-linecap="butt"/>
<text transform="translate(989.5 1062.8) rotate(-90)" font-family="'Liberation Sans', sans-serif" font-size="23" font-weight="normal" fill="#000" textLength="54" lengthAdjust="spacingAndGlyphs" >1743.1</text>
<line x1="987.2" y1="1073" x2="987.2" y2="1111" stroke="#000" stroke-width="3.0" stroke-linecap="butt"/>
<text transform="translate(1032.5 1052) rotate(-90)" font-family="'Liberation Sans', sans-serif" font-size="23" font-weight="normal" fill="#000" textLength="54" lengthAdjust="spacingAndGlyphs" >1632.3</text>
<line x1="1027.8" y1="1059.9" x2="1027.8" y2="1099.6" stroke="#000" stroke-width="3.0" stroke-linecap="butt"/>
<text transform="translate(1058.6 1119.1) rotate(-90)" font-family="'Liberation Sans', sans-serif" font-size="23" font-weight="normal" fill="#000" textLength="54" lengthAdjust="spacingAndGlyphs" >1558.5</text>
<line x1="1055.8" y1="1127" x2="1055.8" y2="1163" stroke="#000" stroke-width="3.0" stroke-linecap="butt"/>
<text transform="translate(1077.3 1124) rotate(-90)" font-family="'Liberation Sans', sans-serif" font-size="23" font-weight="normal" fill="#000" textLength="54" lengthAdjust="spacingAndGlyphs" >1506.9</text>
<line x1="1074.5" y1="1132" x2="1074.5" y2="1168" stroke="#000" stroke-width="3.0" stroke-linecap="butt"/>
<text transform="translate(1099.6 1100.4) rotate(-90)" font-family="'Liberation Sans', sans-serif" font-size="23" font-weight="normal" fill="#000" textLength="54" lengthAdjust="spacingAndGlyphs" >1446.9</text>
<line x1="1098" y1="1107" x2="1098" y2="1144.3" stroke="#000" stroke-width="3.0" stroke-linecap="butt"/>
<text transform="translate(1206.4 1032.1) rotate(-90)" font-family="'Liberation Sans', sans-serif" font-size="23" font-weight="normal" fill="#000" textLength="54" lengthAdjust="spacingAndGlyphs" >1160.1</text>
<line x1="1201.7" y1="1038.8" x2="1201.7" y2="1078.5" stroke="#000" stroke-width="3.0" stroke-linecap="butt"/>
<text transform="translate(1238.7 1012.2) rotate(-90)" font-family="'Liberation Sans', sans-serif" font-size="23" font-weight="normal" fill="#000" textLength="54" lengthAdjust="spacingAndGlyphs" >1072.7</text>
<line x1="1233.5" y1="1017.6" x2="1233.5" y2="1056.1" stroke="#000" stroke-width="3.0" stroke-linecap="butt"/>
<text transform="translate(1252.4 987.4) rotate(-90)" font-family="'Liberation Sans', sans-serif" font-size="23" font-weight="normal" fill="#000" textLength="54" lengthAdjust="spacingAndGlyphs" >1032.2</text>
<line x1="1248.4" y1="995.3" x2="1248.4" y2="1033.8" stroke="#000" stroke-width="3.0" stroke-linecap="butt"/>
<text transform="translate(1296 1072.9) rotate(-90)" font-family="'Liberation Sans', sans-serif" font-size="23" font-weight="normal" fill="#000" textLength="44.5" lengthAdjust="spacingAndGlyphs" >911.9</text>
<line x1="1291.7" y1="1078.8" x2="1291.7" y2="1117.2" stroke="#000" stroke-width="3.0" stroke-linecap="butt"/>
<text transform="translate(1339.7 1126) rotate(-90)" font-family="'Liberation Sans', sans-serif" font-size="23" font-weight="normal" fill="#000" textLength="44.5" lengthAdjust="spacingAndGlyphs" >798.9</text>
<line x1="1335.4" y1="1130.5" x2="1335.4" y2="1168.9" stroke="#000" stroke-width="3.0" stroke-linecap="butt"/>
<text transform="translate(1394 970.9) rotate(-90)" font-family="'Liberation Sans', sans-serif" font-size="23" font-weight="normal" fill="#000" textLength="44.5" lengthAdjust="spacingAndGlyphs" >644.4</text>
<line x1="1391.1" y1="978" x2="1391.1" y2="1016.5" stroke="#000" stroke-width="3.0" stroke-linecap="butt"/>
<text transform="translate(1425.8 902) rotate(-90)" font-family="'Liberation Sans', sans-serif" font-size="23" font-weight="normal" fill="#000" textLength="44.5" lengthAdjust="spacingAndGlyphs" >569.0</text>
<line x1="1421" y1="907.8" x2="1421" y2="946.3" stroke="#000" stroke-width="3.0" stroke-linecap="butt"/>
<text transform="translate(1439.1 827.8) rotate(-90)" font-family="'Liberation Sans', sans-serif" font-size="23" font-weight="normal" fill="#000" textLength="44.5" lengthAdjust="spacingAndGlyphs" >525.8</text>
<line x1="1435.6" y1="834.9" x2="1435.6" y2="873.4" stroke="#000" stroke-width="3.0" stroke-linecap="butt"/>
<text x="1283" y="1289.8" font-family="'Liberation Sans', sans-serif" font-size="60" font-weight="bold" fill="#e3000f" text-anchor="middle" textLength="33.5" lengthAdjust="spacingAndGlyphs">b</text>
<rect x="1256.4" y="1219.7" width="62.5" height="96.1" fill="none" stroke="#333" stroke-width="1.6" rx="1.5"/>
<text x="526.6" y="874.1" font-family="'Liberation Sans', sans-serif" font-size="44" font-weight="bold" fill="#dc0008" textLength="101" lengthAdjust="spacingAndGlyphs" text-anchor="start">After</text>
<text x="311.3" y="1333.7" font-family="'Liberation Sans', sans-serif" font-size="44" font-weight="bold" fill="#dc0008" textLength="130" lengthAdjust="spacingAndGlyphs" text-anchor="start">Before</text>
<line x1="540.4" y1="878.3" x2="453.8" y2="1037.8" stroke="#2602c4" stroke-width="4.8" stroke-linecap="round"/>
<polygon points="435.2,1072.1 447.5,1025.3 453.8,1037.8 467.7,1036.3" fill="#3a0ad6"/>
<line x1="340.4" y1="1293.6" x2="358.6" y2="1189.4" stroke="#2602c4" stroke-width="4.8" stroke-linecap="round"/>
<polygon points="365.3,1151 368.5,1199.3 358.6,1189.4 345.9,1195.3" fill="#3a0ad6"/>
<line x1="108" y1="1568.2" x2="120.7" y2="1568.2" stroke="#000" stroke-width="2.2" stroke-linecap="butt"/>
<text x="105" y="1576.4" font-family="'Liberation Serif', serif" font-size="18" font-weight="bold" fill="#111" textLength="38.5" lengthAdjust="spacingAndGlyphs" text-anchor="end">0.25</text>
<line x1="108" y1="1695.2" x2="120.7" y2="1695.2" stroke="#000" stroke-width="2.2" stroke-linecap="butt"/>
<text x="105" y="1703.4" font-family="'Liberation Serif', serif" font-size="18" font-weight="bold" fill="#111" textLength="38.5" lengthAdjust="spacingAndGlyphs" text-anchor="end">0.20</text>
<line x1="108" y1="1822.2" x2="120.7" y2="1822.2" stroke="#000" stroke-width="2.2" stroke-linecap="butt"/>
<text x="105" y="1830.4" font-family="'Liberation Serif', serif" font-size="18" font-weight="bold" fill="#111" textLength="38.5" lengthAdjust="spacingAndGlyphs" text-anchor="end">0.15</text>
<line x1="108" y1="1949.2" x2="120.7" y2="1949.2" stroke="#000" stroke-width="2.2" stroke-linecap="butt"/>
<text x="105" y="1957.4" font-family="'Liberation Serif', serif" font-size="18" font-weight="bold" fill="#111" textLength="38.5" lengthAdjust="spacingAndGlyphs" text-anchor="end">0.10</text>
<line x1="143.3" y1="2040.9" x2="143.3" y2="2054.9" stroke="#000" stroke-width="2.6" stroke-linecap="butt"/>
<text x="142.8" y="2068.5" font-family="'Liberation Serif', serif" font-size="18" font-weight="bold" fill="#111" textLength="45.5" lengthAdjust="spacingAndGlyphs" text-anchor="middle">4000</text>
<line x1="511" y1="2040.9" x2="511" y2="2054.9" stroke="#000" stroke-width="2.6" stroke-linecap="butt"/>
<text x="510.5" y="2068.5" font-family="'Liberation Serif', serif" font-size="18" font-weight="bold" fill="#111" textLength="45.5" lengthAdjust="spacingAndGlyphs" text-anchor="middle">3000</text>
<line x1="879.7" y1="2040.9" x2="879.7" y2="2054.9" stroke="#000" stroke-width="2.6" stroke-linecap="butt"/>
<text x="879.2" y="2068.5" font-family="'Liberation Serif', serif" font-size="18" font-weight="bold" fill="#111" textLength="45.5" lengthAdjust="spacingAndGlyphs" text-anchor="middle">2000</text>
<line x1="1245.3" y1="2040.9" x2="1245.3" y2="2054.9" stroke="#000" stroke-width="2.6" stroke-linecap="butt"/>
<text x="1244.8" y="2068.5" font-family="'Liberation Serif', serif" font-size="18" font-weight="bold" fill="#111" textLength="45.5" lengthAdjust="spacingAndGlyphs" text-anchor="middle">1000</text>
<rect x="120.7" y="1451.8" width="1336.8" height="589.1" fill="none" stroke="#000" stroke-width="2.6"/>
<text x="732" y="2106" font-family="'Liberation Serif', serif" font-size="17" font-weight="bold" fill="#111" textLength="117.5" lengthAdjust="spacingAndGlyphs" text-anchor="start">Wavenumbers</text>
<text transform="translate(30.4 1786.1) rotate(-90)" font-family="'Liberation Serif', serif" font-size="24" font-weight="normal" fill="#111" textLength="81.3" lengthAdjust="spacingAndGlyphs" stroke="#111" stroke-width="0.45">Absorbance</text>
<polyline points="143.6,1856.5 144.4,1856.5 144.4,1856.4 145.9,1856.4 145.9,1860.6 147.4,1860.6 147.4,1862.1 149,1862.1 149,1860.2 150.5,1860.2 150.5,1861.9 152,1861.9 152,1859 153.5,1859 153.5,1861 155,1861 155,1858.5 156.5,1858.5 156.5,1859.9 158.1,1859.9 158.1,1861 159.6,1861 159.6,1857.4 161.1,1857.4 161.1,1860.7 162.6,1860.7 162.6,1857.7 164.1,1857.7 164.1,1858.9 165.6,1858.9 165.6,1857.6 167.1,1857.6 167.1,1856.3 168.6,1856.3 168.6,1858.7 170.1,1858.7 170.1,1857.4 171.6,1857.4 171.6,1859 173.1,1859 173.1,1856.8 174.6,1856.8 174.6,1858.7 176.2,1858.7 176.2,1860.7 177.7,1860.7 177.7,1857.4 179.2,1857.4 179.2,1860 180.7,1860 180.7,1857.6 182.2,1857.6 182.2,1860.9 183.7,1860.9 183.7,1859.9 185.3,1859.9 185.3,1859 186.8,1859 186.8,1860.5 188.3,1860.5 188.3,1858.1 189.8,1858.1 189.8,1859.3 191.3,1859.3 191.3,1857.4 192.9,1857.4 192.9,1859.3 194.4,1859.3 194.4,1856.8 195.9,1856.8 195.9,1859.7 197.4,1859.7 197.4,1857.6 199.3,1857.6 199.3,1864.4 201.2,1864.4 201.2,1861.7 202.7,1861.7 202.7,1862.8 204.2,1862.8 204.2,1858.7 205.7,1858.7 205.7,1861.1 207.2,1861.1 207.2,1856.7 208.7,1856.7 208.7,1856.5 210.3,1856.5 210.3,1858.6 211.9,1858.6 211.9,1856.5 213.6,1856.5 213.6,1857.5 215.2,1857.5 215.2,1856.5 216.8,1856.5 216.8,1859.2 218.5,1859.2 218.5,1856 220.1,1856 220.1,1857.6 221.7,1857.6 221.7,1859.5 223.2,1859.5 223.2,1857.6 224.7,1857.6 224.7,1859.9 226.2,1859.9 226.2,1857.3 227.7,1857.3 227.7,1860 229.2,1860 229.2,1859.9 230.8,1859.9 230.8,1860 232.6,1860 232.6,1861.4 234.2,1861.4 234.2,1860.5 236,1860.5 236,1862.1 237.9,1862.1 237.9,1851.9 239.8,1851.9 239.8,1854.8 241.3,1854.8 241.3,1852.9 242.8,1852.9 242.8,1855.3 244.4,1855.3 244.4,1856.7 245.9,1856.7 245.9,1854.9 247.4,1854.9 247.4,1857.1 248.9,1857.1 248.9,1854.9 250.4,1854.9 250.4,1858.1 251.9,1858.1 251.9,1857.6 253.5,1857.6 253.5,1856.2 255,1856.2 255,1856.9 256.5,1856.9 256.5,1853.6 258,1853.6 258,1855.4 259.5,1855.4 259.5,1852 261,1852 261,1853.1 262.6,1853.1 262.6,1853.1 264.4,1853.1 264.4,1850.3 266.1,1850.3 266.1,1850.9 267.8,1850.9 267.8,1849.6 269.7,1849.6 269.7,1857.6 271.6,1857.6 271.6,1850.8 273.1,1850.8 273.1,1849.4 274.6,1849.4 274.6,1842.8 276.2,1842.8 276.2,1842.8 277.9,1842.8 277.9,1845.6 279.6,1845.6 279.6,1845.1 281.4,1845.1 281.4,1847.4 282.9,1847.4 282.9,1844.5 284.4,1844.5 284.4,1838.1 285.9,1838.1 285.9,1836 287.6,1836 287.6,1835.9 289.3,1835.9 289.3,1831.7 291,1831.7 291,1830.3 292.7,1830.3 292.7,1828.1 294.5,1828.1 294.5,1825.7 296.1,1825.7 296.1,1824 297.9,1824 297.9,1820.8 299.5,1820.8 299.5,1819 301.1,1819 301.1,1817.6 302.6,1817.6 302.6,1815.6 304.1,1815.6 304.1,1814.4 305.8,1814.4 305.8,1812.4 307.4,1812.4 307.4,1809.4 309.1,1809.4 309.1,1807.7 310.9,1807.7 310.9,1805.3 312.5,1805.3 312.5,1803.2 314.2,1803.2 314.2,1801.8 316,1801.8 316,1799.1 317.6,1799.1 317.6,1797.4 319.4,1797.4 319.4,1795.7 321.1,1795.7 321.1,1793 322.8,1793 322.8,1791.7 324.5,1791.7 324.5,1789.4 326.2,1789.4 326.2,1788.2 327.9,1788.2 327.9,1787.9 329.6,1787.9 329.6,1786.7 331.4,1786.7 331.4,1786 333,1786 333,1784.4 334.8,1784.4 334.8,1782.4 336.5,1782.4 336.5,1781.3 338.1,1781.3 338.1,1779.2 339.8,1779.2 339.8,1778.1 341.4,1778.1 341.4,1777.6 342.9,1777.6 342.9,1776.2 344.5,1776.2 344.5,1776 346.1,1776 346.1,1774.7 347.8,1774.7 347.8,1774.9 349.5,1774.9 349.5,1776 351.2,1776 351.2,1776 352.9,1776 352.9,1777.4 354.6,1777.4 354.6,1777.1 356.3,1777.1 356.3,1778.1 358,1778.1 358,1779.5 359.5,1779.5 359.5,1779.9 361,1779.9 361,1781.3 362.5,1781.3 362.5,1781.7 364,1781.7 364,1783.1 365.5,1783.1 365.5,1783.8 367.1,1783.8 367.1,1785.8 368.9,1785.8 368.9,1788.4 370.6,1788.4 370.6,1790.4 372.2,1790.4 372.2,1792.8 373.9,1792.8 373.9,1795 375.4,1795 375.4,1796 376.9,1796 376.9,1798.4 378.4,1798.4 378.4,1799.3 379.9,1799.3 379.9,1801.6 381.4,1801.6 381.4,1803.1 383,1803.1 383,1804.4 384.5,1804.4 384.5,1806.5 386,1806.5 386,1807.3 387.5,1807.3 387.5,1809.4 389,1809.4 389,1810.6 390.5,1810.6 390.5,1812.2 392.1,1812.2 392.1,1813.8 393.6,1813.8 393.6,1814.8 395.1,1814.8 395.1,1816.7 396.6,1816.7 396.6,1817.7 398.2,1817.7 398.2,1817.9 399.8,1817.9 399.8,1819.1 401.5,1819.1 401.5,1819 403.1,1819 403.1,1820.2 404.7,1820.2 404.7,1820.2 406.3,1820.2 406.3,1821.3 407.9,1821.3 407.9,1822.1 409.5,1822.1 409.5,1822.5 411.2,1822.5 411.2,1823.4 412.8,1823.4 412.8,1823.5 414.4,1823.5 414.4,1824.8 416.1,1824.8 416.1,1824.9 417.7,1824.9 417.7,1825.8 419.6,1825.8 419.6,1826.8 421.6,1826.8 421.6,1826.9 423.5,1826.9 423.5,1827.5 425.1,1827.5 425.1,1828.9 426.8,1828.9 426.8,1829.3 428.4,1829.3 428.4,1830.6 430,1830.6 430,1830.8 431.7,1830.8 431.7,1832.1 433.3,1832.1 433.3,1832.6 434.9,1832.6 434.9,1832.8 436.5,1832.8 436.5,1834.2 438.1,1834.2 438.1,1834.2 439.8,1834.2 439.8,1835.5 441.4,1835.5 441.4,1835.4 443,1835.4 443,1836.7 444.6,1836.7 444.6,1837.1 446.2,1837.1 446.2,1837.3 447.7,1837.3 447.7,1838.2 449.2,1838.2 449.2,1838 450.7,1838 450.7,1838.8 452.2,1838.8 452.2,1838.7 453.8,1838.7 453.8,1839.7 455.3,1839.7 455.3,1839.7 456.8,1839.7 456.8,1840.6 458.3,1840.6 458.3,1840.6 459.9,1840.6 459.9,1840.3 461.4,1840.3 461.4,1841.1 462.9,1841.1 462.9,1840.5 464.4,1840.5 464.4,1841.6 465.9,1841.6 465.9,1840.9 467.4,1840.9 467.4,1841.6 468.9,1841.6 468.9,1841.3 470.4,1841.3 470.4,1841.7 471.9,1841.7 471.9,1841.7 473.5,1841.7 473.5,1841.5 475,1841.5 475,1842.2 476.5,1842.2 476.5,1841.6 478,1841.6 478,1842.2 479.5,1842.2 479.5,1841.3 481,1841.3 481,1842.1 482.5,1842.1 482.5,1841.6 484,1841.6 484,1842 485.5,1842 485.5,1841.7 487.1,1841.7 487.1,1841.3 488.6,1841.3 488.6,1841.6 490.1,1841.6 490.1,1840.5 491.6,1840.5 491.6,1841.1 493.1,1841.1 493.1,1840.1 494.7,1840.1 494.7,1840.6 496.2,1840.6 496.2,1839.7 497.7,1839.7 497.7,1839.8 499.2,1839.8 499.2,1839.4 500.9,1839.4 500.9,1838.1 502.5,1838.1 502.5,1837.8 504.2,1837.8 504.2,1836.6 506,1836.6 506,1836 507.6,1836 507.6,1831.4 509.4,1831.4 509.4,1825.9 511.1,1825.9 511.1,1821.8 512.8,1821.8 512.8,1816.7 514.4,1816.7 514.4,1811.1 515.9,1811.1 515.9,1806.4 517.4,1806.4 517.4,1800.8 519,1800.8 519,1797.1 520.6,1797.1 520.6,1794.3 522.4,1794.3 522.4,1790.3 524,1790.3 524,1787.2 525.8,1787.2 525.8,1783.6 527.5,1783.6 527.5,1779 529.2,1779 529.2,1775.5 530.9,1775.5 530.9,1771.3 532.5,1771.3 532.5,1765.5 534,1765.5 534,1761.2 535.5,1761.2 535.5,1755.4 537.2,1755.4 537.2,1756.4 539.1,1756.4 539.1,1758.1 541,1758.1 541,1758.8 542.9,1758.8 542.9,1767.2 544.5,1767.2 544.5,1775.8 546.2,1775.8 546.2,1780.3 548,1780.3 548,1783.8 549.6,1783.8 549.6,1788.7 551.4,1788.7 551.4,1792.8 553,1792.8 553,1788.7 554.5,1788.7 554.5,1785.8 556,1785.8 556,1781.5 557.6,1781.5 557.6,1777.8 559.3,1777.8 559.3,1775 561,1775 561,1771.2 562.7,1771.2 562.7,1767.9 564.4,1767.9 564.4,1770 565.9,1770 565.9,1771.4 567.4,1771.4 567.4,1773.5 568.9,1773.5 568.9,1786 570.4,1786 570.4,1797.5 571.9,1797.5 571.9,1809.9 573.5,1809.9 573.5,1817.7 575.2,1817.7 575.2,1824.4 576.9,1824.4 576.9,1832.4 578.6,1832.4 578.6,1839.4 580.2,1839.4 580.2,1839.8 581.8,1839.8 581.8,1841.1 583.2,1841.1 583.2,1841.2 584.8,1841.2 584.8,1842.7 586.2,1842.7 586.2,1843 587.8,1843 587.8,1844 589.3,1844 589.3,1845.1 590.9,1845.1 590.9,1845 592.6,1845 592.6,1846.2 594.2,1846.2 594.2,1846.4 595.8,1846.4 595.8,1847.4 597.5,1847.4 597.5,1847.5 599.1,1847.5 599.1,1848.5 600.7,1848.5 600.7,1848.8 602.2,1848.8 602.2,1848.1 603.7,1848.1 603.7,1848.9 605.2,1848.9 605.2,1848.1 606.7,1848.1 606.7,1848.7 608.2,1848.7 608.2,1848.1 609.7,1848.1 609.7,1848.8 611.2,1848.8 611.2,1848.4 612.7,1848.4 612.7,1848.5 614.3,1848.5 614.3,1848.7 615.8,1848.7 615.8,1847.5 617.3,1847.5 617.3,1847.9 618.8,1847.9 618.8,1847 620.4,1847 620.4,1847.6 621.9,1847.6 621.9,1846.8 623.4,1846.8 623.4,1847 624.9,1847 624.9,1846 626.4,1846 626.4,1846.2 628,1846.2 628,1846.3 629.6,1846.3 629.6,1845.8 631.2,1845.8 631.2,1846.4 632.9,1846.4 632.9,1846.1 634.5,1846.1 634.5,1846.7 636.1,1846.7 636.1,1845.7 637.7,1845.7 637.7,1846.2 639.4,1846.2 639.4,1845.4 641,1845.4 641,1843.5 642.8,1843.5 642.8,1843.1 644.4,1843.1 644.4,1841.7 646.2,1841.7 646.2,1839.2 647.9,1839.2 647.9,1837.5 649.6,1837.5 649.6,1834.5 651.3,1834.5 651.3,1832.6 653.1,1832.6 653.1,1829 654.8,1829 654.8,1824.4 656.5,1824.4 656.5,1821 658.1,1821 658.1,1816.7 659.8,1816.7 659.8,1816.1 661.3,1816.1 661.3,1816.4 662.8,1816.4 662.8,1815.1 664.3,1815.1 664.3,1815.6 665.8,1815.6 665.8,1814.6 667.3,1814.6 667.3,1814.7 668.8,1814.7 668.8,1813.6 670.3,1813.6 670.3,1813.9 671.8,1813.9 671.8,1813.3 673.5,1813.3 673.5,1811.5 675.1,1811.5 675.1,1810.6 676.9,1810.6 676.9,1808.9 678.5,1808.9 678.5,1807.6 680.2,1807.6 680.2,1800.2 681.7,1800.2 681.7,1792.1 683.2,1792.1 683.2,1784.9 684.9,1784.9 684.9,1779.4 686.5,1779.4 686.5,1773.2 688.2,1773.2 688.2,1768 689.9,1768 689.9,1762.2 691.5,1762.2 691.5,1766.4 693,1766.4 693,1771.6 694.5,1771.6 694.5,1775.8 696.8,1775.8 696.8,1783.9 699.6,1783.9 699.6,1816.8 701.9,1816.8 701.9,1822.1 703.8,1822.1 703.8,1828 705.6,1828 705.6,1833.3 707.3,1833.3 707.3,1833.7 708.8,1833.7 708.8,1834.8 710.4,1834.8 710.4,1834.9 712,1834.9 712,1835.8 713.5,1835.8 713.5,1835.8 715.1,1835.8 715.1,1837.3 716.6,1837.3 716.6,1837.4 718.1,1837.4 718.1,1837.3 719.6,1837.3 719.6,1837.7 721.1,1837.7 721.1,1837 722.6,1837 722.6,1837.9 724.1,1837.9 724.1,1837.1 725.6,1837.1 725.6,1837.7 727.1,1837.7 727.1,1837 728.6,1837 728.6,1837.8 730.1,1837.8 730.1,1837 731.6,1837 731.6,1837.7 733.1,1837.7 733.1,1837.4 734.7,1837.4 734.7,1838.9 736.4,1838.9 736.4,1841.3 738,1841.3 738,1842.8 739.7,1842.8 739.7,1845.2 741.4,1845.2 741.4,1847 743.1,1847 743.1,1844 744.8,1844 744.8,1841.8 746.5,1841.8 746.5,1838.5 748.1,1838.5 748.1,1836.1 750,1836.1 750,1840.5 752.1,1840.5 752.1,1844.3 753.9,1844.3 753.9,1842.4 755.5,1842.4 755.5,1841.4 757,1841.4 757,1839.4 758.6,1839.4 758.6,1838.4 760.2,1838.4 760.2,1836 761.7,1836 761.7,1835.1 763.3,1835.1 763.3,1833.3 764.9,1833.3 764.9,1833.4 766.5,1833.4 766.5,1834.1 768,1834.1 768,1833.4 769.6,1833.4 769.6,1834.5 771.2,1834.5 771.2,1834 772.7,1834 772.7,1834.8 774.3,1834.8 774.3,1834.7 775.9,1834.7 775.9,1834.1 777.4,1834.1 777.4,1834.3 778.9,1834.3 778.9,1833.1 780.4,1833.1 780.4,1833 782,1833 782,1832.1 783.5,1832.1 783.5,1832.1 785,1832.1 785,1831.3 786.5,1831.3 786.5,1831.4 788,1831.4 788,1830.6 789.5,1830.6 789.5,1829.7 791,1829.7 791,1829.8 792.5,1829.8 792.5,1828.9 794,1828.9 794,1828.8 795.5,1828.8 795.5,1827.7 797,1827.7 797,1827.7 798.5,1827.7 798.5,1827 800,1827 800,1826.8 801.5,1826.8 801.5,1825.6 803,1825.6 803,1826.1 804.5,1826.1 804.5,1825.1 806.1,1825.1 806.1,1824.2 807.6,1824.2 807.6,1824.3 809.1,1824.3 809.1,1823.4 810.6,1823.4 810.6,1823.4 812.1,1823.4 812.1,1822.5 813.7,1822.5 813.7,1822.8 815.2,1822.8 815.2,1821.6 816.7,1821.6 816.7,1821.8 818.2,1821.8 818.2,1821 819.8,1821 819.8,1819.5 821.5,1819.5 821.5,1819.1 823.1,1819.1 823.1,1817.5 824.7,1817.5 824.7,1816.8 826.4,1816.8 826.4,1815.5 828,1815.5 828,1815.1 829.5,1815.1 829.5,1816 831,1816 831,1815 832.6,1815 832.6,1816 834.1,1816 834.1,1815.1 835.6,1815.1 835.6,1815.9 837.2,1815.9 837.2,1815.2 838.7,1815.2 838.7,1815.6 840.2,1815.6 840.2,1815.5 841.8,1815.5 841.8,1814.3 843.3,1814.3 843.3,1814.1 844.8,1814.1 844.8,1812.7 846.3,1812.7 846.3,1812.9 847.9,1812.9 847.9,1811.5 849.4,1811.5 849.4,1811.4 850.9,1811.4 850.9,1809.7 852.4,1809.7 852.4,1809.8 853.9,1809.8 853.9,1808.6 855.5,1808.6 855.5,1808 857,1808 857,1807.9 858.5,1807.9 858.5,1807.1 860,1807.1 860,1807.3 861.5,1807.3 861.5,1806.1 863.1,1806.1 863.1,1806.1 864.6,1806.1 864.6,1805 866.1,1805 866.1,1805.2 867.6,1805.2 867.6,1804.5 869.2,1804.5 869.2,1803.2 870.7,1803.2 870.7,1803 872.2,1803 872.2,1801.5 873.7,1801.5 873.7,1801.3 875.2,1801.3 875.2,1799.6 876.8,1799.6 876.8,1799.4 878.3,1799.4 878.3,1797.7 879.8,1797.7 879.8,1797.5 881.3,1797.5 881.3,1796.3 882.9,1796.3 882.9,1795 884.4,1795 884.4,1794.5 885.9,1794.5 885.9,1792.4 887.4,1792.4 887.4,1791.9 888.9,1791.9 888.9,1790.4 890.4,1790.4 890.4,1789.7 891.9,1789.7 891.9,1788.3 893.4,1788.3 893.4,1787.6 894.9,1787.6 894.9,1785.9 896.4,1785.9 896.4,1785.2 897.9,1785.2 897.9,1783.9 899.4,1783.9 899.4,1782.6 900.9,1782.6 900.9,1782.1 902.4,1782.1 902.4,1780.6 903.9,1780.6 903.9,1780 905.5,1780 905.5,1778.2 907,1778.2 907,1777.9 908.5,1777.9 908.5,1775.9 910,1775.9 910,1775.8 911.5,1775.8 911.5,1774.3 913.1,1774.3 913.1,1773.1 914.7,1773.1 914.7,1772.4 916.2,1772.4 916.2,1771.1 917.8,1771.1 917.8,1770.5 919.4,1770.5 919.4,1768.9 920.9,1768.9 920.9,1768.6 922.5,1768.6 922.5,1767.4 924.1,1767.4 924.1,1765.1 925.7,1765.1 925.7,1763.9 927.2,1763.9 927.2,1761.3 928.8,1761.3 928.8,1760.1 930.4,1760.1 930.4,1757.3 931.9,1757.3 931.9,1756 933.5,1756 933.5,1753.7 935.1,1753.7 935.1,1751.4 936.8,1751.4 936.8,1749.5 938.4,1749.5 938.4,1746.7 940,1746.7 940,1745.2 941.7,1745.2 941.7,1742.7 943.4,1742.7 943.4,1736 945.2,1736 945.2,1730.3 947.1,1730.3 947.1,1723.5 948.9,1723.5 948.9,1714.4 950.8,1714.4 950.8,1706.5 952.6,1706.5 952.6,1697.4 954.5,1697.4 954.5,1708.9 956.6,1708.9 956.6,1720.8 958.7,1720.8 958.7,1720.9 960.8,1720.9 960.8,1720.8 962.7,1720.8 962.7,1714.2 964.5,1714.2 964.5,1708.5 966.3,1708.5 966.3,1701.6 968.2,1701.6 968.2,1689.7 970.3,1689.7 970.3,1678.2 972.2,1678.2 972.2,1679.4 974,1679.4 974,1680.1 975.6,1680.1 975.6,1681.8 977.4,1681.8 977.4,1682.3 979,1682.3 979,1683.8 980.6,1683.8 980.6,1685.7 982.2,1685.7 982.2,1687.1 983.7,1687.1 983.7,1689 985.3,1689 985.3,1690.6 986.9,1690.6 986.9,1688.8 988.5,1688.8 988.5,1688.2 990.1,1688.2 990.1,1686.2 991.7,1686.2 991.7,1685.4 993.3,1685.4 993.3,1683.6 994.9,1683.6 994.9,1682.3 996.5,1682.3 996.5,1680.3 998.2,1680.3 998.2,1677 999.8,1677 999.8,1675.3 1001.4,1675.3 1001.4,1672.3 1003.1,1672.3 1003.1,1670 1004.8,1670 1004.8,1664.5 1006.6,1664.5 1006.6,1657.6 1008.5,1657.6 1008.5,1652.2 1010.3,1652.2 1010.3,1650.6 1012.1,1650.6 1012.1,1648.3 1014,1648.3 1014,1646.7 1015.7,1646.7 1015.7,1647.4 1017.3,1647.4 1017.3,1647.1 1018.8,1647.1 1018.8,1648.1 1020.4,1648.1 1020.4,1647.9 1022,1647.9 1022,1649.1 1023.5,1649.1 1023.5,1648.6 1025.1,1648.6 1025.1,1649.4 1026.7,1649.4 1026.7,1649.3 1028.2,1649.3 1028.2,1648.3 1029.7,1648.3 1029.7,1648.9 1031.2,1648.9 1031.2,1648.1 1032.8,1648.1 1032.8,1648.2 1034.3,1648.2 1034.3,1647.4 1035.8,1647.4 1035.8,1647.5 1037.3,1647.5 1037.3,1646.8 1038.8,1646.8 1038.8,1646.7 1041,1646.7 1041,1635.7 1043.2,1635.7 1043.2,1635.3 1044.9,1635.3 1044.9,1633.7 1046.5,1633.7 1046.5,1633.4 1048.1,1633.4 1048.1,1632.3 1049.8,1632.3 1049.8,1631.6 1051.4,1631.6 1051.4,1630.6 1053,1630.6 1053,1629 1054.5,1629 1054.5,1628.3 1056.1,1628.3 1056.1,1626.6 1057.7,1626.6 1057.7,1625.9 1059.2,1625.9 1059.2,1624.2 1060.8,1624.2 1060.8,1623.3 1062.4,1623.3 1062.4,1621.6 1064.1,1621.6 1064.1,1619 1065.7,1619 1065.7,1617.7 1067.3,1617.7 1067.3,1615.4 1069,1615.4 1069,1613.7 1070.6,1613.7 1070.6,1612.9 1072.2,1612.9 1072.2,1610.9 1073.7,1610.9 1073.7,1610.4 1075.3,1610.4 1075.3,1608.7 1076.9,1608.7 1076.9,1608 1078.4,1608 1078.4,1606.6 1080,1606.6 1080,1605.5 1081.6,1605.5 1081.6,1605.5 1083.1,1605.5 1083.1,1604.5 1084.6,1604.5 1084.6,1604.5 1086.1,1604.5 1086.1,1603.6 1087.7,1603.6 1087.7,1603.4 1089.2,1603.4 1089.2,1602.5 1090.7,1602.5 1090.7,1602.8 1092.2,1602.8 1092.2,1601.4 1093.7,1601.4 1093.7,1601.4 1095.3,1601.4 1095.3,1602.8 1096.9,1602.8 1096.9,1603.7 1098.4,1603.7 1098.4,1605.3 1100,1605.3 1100,1605.7 1101.6,1605.7 1101.6,1607.7 1103.1,1607.7 1103.1,1608.3 1104.7,1608.3 1104.7,1609.6 1106.3,1609.6 1106.3,1611.5 1107.8,1611.5 1107.8,1612.3 1109.3,1612.3 1109.3,1614.6 1110.8,1614.6 1110.8,1615.3 1112.3,1615.3 1112.3,1617.6 1113.9,1617.6 1113.9,1618.3 1115.4,1618.3 1115.4,1620.4 1116.9,1620.4 1116.9,1621.3 1118.4,1621.3 1118.4,1623.3 1120,1623.3 1120,1624.6 1121.5,1624.6 1121.5,1624.8 1123,1624.8 1123,1626.4 1124.5,1626.4 1124.5,1627 1126,1627 1126,1628.8 1127.5,1628.8 1127.5,1628.8 1129,1628.8 1129,1630.6 1130.5,1630.6 1130.5,1630.8 1132,1630.8 1132,1632.4 1133.5,1632.4 1133.5,1633.2 1135,1633.2 1135,1634.3 1136.6,1634.3 1136.6,1635.8 1138.3,1635.8 1138.3,1636.6 1140,1636.6 1140,1638.7 1141.7,1638.7 1141.7,1639.7 1143.4,1639.7 1143.4,1640.7 1145.1,1640.7 1145.1,1642.6 1146.7,1642.6 1146.7,1643.1 1148.4,1643.1 1148.4,1644.8 1150,1644.8 1150,1645.4 1151.7,1645.4 1151.7,1647.5 1153.3,1647.5 1153.3,1647.9 1155,1647.9 1155,1649.6 1156.6,1649.6 1156.6,1650.7 1158.3,1650.7 1158.3,1650.8 1159.9,1650.8 1159.9,1652.3 1161.5,1652.3 1161.5,1652.4 1163.2,1652.4 1163.2,1653.4 1164.8,1653.4 1164.8,1653.8 1166.4,1653.8 1166.4,1655.2 1168.1,1655.2 1168.1,1655.5 1169.7,1655.5 1169.7,1655.4 1171.3,1655.4 1171.3,1655.9 1173,1655.9 1173,1655.2 1174.6,1655.2 1174.6,1655.6 1176.2,1655.6 1176.2,1655.3 1177.9,1655.3 1177.9,1655.5 1179.5,1655.5 1179.5,1656.8 1181.2,1656.8 1181.2,1657.1 1182.8,1657.1 1182.8,1658.6 1184.4,1658.6 1184.4,1659 1186.1,1659 1186.1,1660.3 1187.7,1660.3 1187.7,1660.5 1189.3,1660.5 1189.3,1662 1191,1662 1191,1662.7 1192.6,1662.7 1192.6,1663.3 1194.1,1663.3 1194.1,1664.5 1195.6,1664.5 1195.6,1664.8 1197.1,1664.8 1197.1,1666.1 1198.6,1666.1 1198.6,1666 1200.1,1666 1200.1,1667.4 1201.7,1667.4 1201.7,1667.8 1203.2,1667.8 1203.2,1669.2 1204.7,1669.2 1204.7,1669.4 1206.2,1669.4 1206.2,1670.7 1207.7,1670.7 1207.7,1670.7 1209.2,1670.7 1209.2,1672.2 1210.7,1672.2 1210.7,1672.5 1212.3,1672.5 1212.3,1672.5 1214,1672.5 1214,1673.5 1215.6,1673.5 1215.6,1673 1217.3,1673 1217.3,1674 1218.9,1674 1218.9,1673.8 1220.6,1673.8 1220.6,1674.2 1222.2,1674.2 1222.2,1677 1223.8,1677 1223.8,1678.9 1225.5,1678.9 1225.5,1681.9 1227.1,1681.9 1227.1,1683.8 1228.8,1683.8 1228.8,1686.6 1230.4,1686.6 1230.4,1688.9 1232,1688.9 1232,1690.8 1233.7,1690.8 1233.7,1693.2 1235.3,1693.2 1235.3,1694.9 1236.9,1694.9 1236.9,1697.3 1238.6,1697.3 1238.6,1698.8 1240.2,1698.8 1240.2,1701.6 1241.8,1701.6 1241.8,1702.8 1243.5,1702.8 1243.5,1705.3 1245,1705.3 1245,1707.1 1246.5,1707.1 1246.5,1708 1248,1708 1248,1710.2 1249.5,1710.2 1249.5,1711.3 1251,1711.3 1251,1713.4 1252.5,1713.4 1252.5,1714.7 1254.1,1714.7 1254.1,1717 1255.8,1717 1255.8,1720.3 1257.5,1720.3 1257.5,1722.4 1259.2,1722.4 1259.2,1725.4 1260.8,1725.4 1260.8,1726.2 1262.5,1726.2 1262.5,1726.6 1264.2,1726.6 1264.2,1727.6 1265.9,1727.6 1265.9,1727.8 1267.5,1727.8 1267.5,1728.9 1269.2,1728.9 1269.2,1729.1 1270.9,1729.1 1270.9,1730.1 1272.6,1730.1 1272.6,1730.7 1274.2,1730.7 1274.2,1730 1275.7,1730 1275.7,1730.1 1277.3,1730.1 1277.3,1729 1278.8,1729 1278.8,1729 1280.4,1729 1280.4,1728.1 1281.9,1728.1 1281.9,1728 1283.7,1728 1283.7,1715.6 1285.7,1715.6 1285.7,1702.7 1287.7,1702.7 1287.7,1653.3 1290.1,1653.3 1290.1,1644.7 1292.2,1644.7 1292.2,1649.3 1293.7,1649.3 1293.7,1655 1295.2,1655 1295.2,1660 1297.3,1660 1297.3,1686.7 1299.7,1686.7 1299.7,1706.5 1301.7,1706.5 1301.7,1726.7 1303.7,1726.7 1303.7,1740.5 1305.7,1740.5 1305.7,1753.4 1307.5,1753.4 1307.5,1758 1309.1,1758 1309.1,1763.9 1310.7,1763.9 1310.7,1768.1 1312.3,1768.1 1312.3,1773.9 1313.9,1773.9 1313.9,1778.7 1315.5,1778.7 1315.5,1779 1317.2,1779 1317.2,1779.8 1318.8,1779.8 1318.8,1779.7 1320.4,1779.7 1320.4,1780.8 1322.1,1780.8 1322.1,1780.7 1323.7,1780.7 1323.7,1781.5 1325.3,1781.5 1325.3,1781.4 1327,1781.4 1327,1782.5 1328.6,1782.5 1328.6,1782.7 1330.2,1782.7 1330.2,1787.1 1331.8,1787.1 1331.8,1792.2 1333.4,1792.2 1333.4,1795.9 1335,1795.9 1335,1801.2 1336.6,1801.2 1336.6,1805.4 1338.2,1805.4 1338.2,1806.9 1339.8,1806.9 1339.8,1809.5 1341.4,1809.5 1341.4,1810.7 1343,1810.7 1343,1813.2 1344.6,1813.2 1344.6,1814.8 1346.4,1814.8 1346.4,1809.3 1348.4,1809.3 1348.4,1804.1 1350.1,1804.1 1350.1,1734.7 1352.1,1734.7 1352.1,1692 1354.1,1692 1354.1,1774.7 1355.6,1774.7 1355.6,1780.5 1357.4,1780.5 1357.4,1785.2 1359.2,1785.2 1359.2,1790.7 1360.9,1790.7 1360.9,1796.5 1362.6,1796.5 1362.6,1801.2 1364.2,1801.2 1364.2,1807.1 1365.9,1807.1 1365.9,1812.1 1367.5,1812.1 1367.5,1810.9 1369,1810.9 1369,1811 1370.5,1811 1370.5,1809.7 1372.1,1809.7 1372.1,1809.5 1373.6,1809.5 1373.6,1808.1 1375.1,1808.1 1375.1,1807.7 1376.6,1807.7 1376.6,1806.8 1378.1,1806.8 1378.1,1798.8 1379.7,1798.8 1379.7,1801.4 1381.4,1801.4 1381.4,1805.4 1383.2,1805.4 1383.2,1808.1 1385.1,1808.1 1385.1,1800 1387.1,1800 1387.1,1792.1 1388.9,1792.1 1388.9,1798.2 1390.6,1798.2 1390.6,1803.3 1392.3,1803.3 1392.3,1809.5 1394,1809.5 1394,1814.8 1395.6,1814.8 1395.6,1816.4 1397.3,1816.4 1397.3,1818.9 1399,1818.9 1399,1820.6 1400.6,1820.6 1400.6,1822.9 1402.3,1822.9 1402.3,1824.7 1403.9,1824.7 1403.9,1827.3 1405.6,1827.3 1405.6,1828.7 1407.3,1828.7 1407.3,1830.8 1408.9,1830.8 1408.9,1830.3 1410.4,1830.3 1410.4,1829 1412,1829 1412,1828.9 1413.6,1828.9 1413.6,1827.9 1415.2,1827.9 1415.2,1827.9 1416.7,1827.9 1416.7,1826.8 1418.3,1826.8 1418.3,1825.8 1419.8,1825.8 1419.8,1826.1 1421.3,1826.1 1421.3,1825 1422.8,1825 1422.8,1824.6 1424.3,1824.6 1424.3,1823.6 1425.8,1823.6 1425.8,1823.6 1427.3,1823.6 1427.3,1822.8 1429.1,1822.8 1429.1,1819.9 1431.1,1819.9 1431.1,1817.5 1432.1,1817.5" fill="none" stroke="#000" stroke-width="2.5" stroke-linejoin="miter" stroke-miterlimit="3" />
<polyline points="143.6,1992.8 144.4,1992.8 144.4,1991.5 146.2,1991.5 146.2,1992.5 147.8,1992.5 147.8,1990.3 149.6,1990.3 149.6,1990.5 151.2,1990.5 151.2,1991.3 152.7,1991.3 152.7,1989.8 154.2,1989.8 154.2,1991.6 155.7,1991.6 155.7,1989.9 157.2,1989.9 157.2,1991.5 158.8,1991.5 158.8,1990.3 160.3,1990.3 160.3,1991.1 161.8,1991.1 161.8,1989.8 163.3,1989.8 163.3,1990.5 164.9,1990.5 164.9,1990.9 166.4,1990.9 166.4,1989.3 167.9,1989.3 167.9,1991.1 169.4,1991.1 169.4,1989.3 170.9,1989.3 170.9,1991.9 172.4,1991.9 172.4,1990 173.9,1990 173.9,1991.9 175.4,1991.9 175.4,1989.2 176.9,1989.2 176.9,1991.6 178.4,1991.6 178.4,1990.2 179.9,1990.2 179.9,1991.3 181.4,1991.3 181.4,1990.5 183,1990.5 183,1989.4 184.6,1989.4 184.6,1990.9 186.2,1990.9 186.2,1989.7 187.8,1989.7 187.8,1990.7 189.4,1990.7 189.4,1989.4 191,1989.4 191,1991.1 192.6,1991.1 192.6,1989.1 194.2,1989.1 194.2,1990.4 195.8,1990.4 195.8,1988.5 197.4,1988.5 197.4,1989.4 199,1989.4 199,1991 200.6,1991 200.6,1989.1 202.2,1989.1 202.2,1990.2 203.8,1990.2 203.8,1988.6 205.5,1988.6 205.5,1991.5 207.1,1991.5 207.1,1989.1 208.7,1989.1 208.7,1990.5 210.3,1990.5 210.3,1991.5 211.9,1991.5 211.9,1990.3 213.6,1990.3 213.6,1991.4 215.2,1991.4 215.2,1990.5 216.8,1990.5 216.8,1992.1 218.5,1992.1 218.5,1991.1 220.1,1991.1 220.1,1991.6 221.7,1991.6 221.7,1993.1 223.2,1993.1 223.2,1991.2 224.7,1991.2 224.7,1993 226.2,1993 226.2,1991.8 227.7,1991.8 227.7,1994.4 229.2,1994.4 229.2,1993.9 230.8,1993.9 230.8,1992.3 232.2,1992.3 232.2,1994.4 233.8,1994.4 233.8,1992.1 235.2,1992.1 235.2,1994 236.8,1994 236.8,1992 238.2,1992 238.2,1992.8 239.9,1992.8 239.9,1992.2 241.6,1992.2 241.6,1989.7 243.3,1989.7 243.3,1988.9 245,1988.9 245,1987.1 246.7,1987.1 246.7,1986.6 248.3,1986.6 248.3,1987.8 249.9,1987.8 249.9,1986.4 251.6,1986.4 251.6,1988 253.2,1988 253.2,1986 254.8,1986 254.8,1987.8 256.4,1987.8 256.4,1987.1 258,1987.1 258,1985.9 259.5,1985.9 259.5,1986.8 261,1986.8 261,1984 262.5,1984 262.5,1986.1 264,1986.1 264,1983.2 265.5,1983.2 265.5,1983.7 267.1,1983.7 267.1,1984 268.6,1984 268.6,1981.3 270.1,1981.3 270.1,1981.2 271.6,1981.2 271.6,1979.6 273.1,1979.6 273.1,1979.3 274.6,1979.3 274.6,1978 276.2,1978 276.2,1977.2 277.9,1977.2 277.9,1977.9 279.6,1977.9 279.6,1974.9 281.4,1974.9 281.4,1975.7 283,1975.7 283,1972.7 284.8,1972.7 284.8,1967.8 286.5,1967.8 286.5,1966.9 288.1,1966.9 288.1,1962.1 289.8,1962.1 289.8,1959.9 291.3,1959.9 291.3,1958.4 292.8,1958.4 292.8,1956.1 294.3,1956.1 294.3,1954.6 295.8,1954.6 295.8,1952.5 297.3,1952.5 297.3,1950.7 298.9,1950.7 298.9,1948.8 300.5,1948.8 300.5,1946.6 302.2,1946.6 302.2,1945.2 303.8,1945.2 303.8,1942.8 305.4,1942.8 305.4,1941.1 307.1,1941.1 307.1,1938.9 308.7,1938.9 308.7,1937.1 310.4,1937.1 310.4,1934.9 312,1934.9 312,1932.3 313.8,1932.3 313.8,1930.6 315.5,1930.6 315.5,1928 317.1,1928 317.1,1926.7 318.6,1926.7 318.6,1925.8 320.1,1925.8 320.1,1924.5 321.6,1924.5 321.6,1923.6 323.1,1923.6 323.1,1922 324.6,1922 324.6,1921.2 326.2,1921.2 326.2,1920.4 327.7,1920.4 327.7,1918.7 329.2,1918.7 329.2,1917.9 330.7,1917.9 330.7,1916.5 332.2,1916.5 332.2,1915.7 333.7,1915.7 333.7,1914.4 335.4,1914.4 335.4,1913.2 337,1913.2 337,1912.2 338.8,1912.2 338.8,1910.7 340.5,1910.7 340.5,1909.8 342.1,1909.8 342.1,1909.4 343.9,1909.4 343.9,1908.2 345.5,1908.2 345.5,1907.9 347.2,1907.9 347.2,1906.4 349,1906.4 349,1906.3 350.6,1906.3 350.6,1905.3 352.3,1905.3 352.3,1905.6 353.9,1905.6 353.9,1906.3 355.4,1906.3 355.4,1906.4 357,1906.4 357,1907.5 358.6,1907.5 358.6,1907.6 360.2,1907.6 360.2,1908.4 361.7,1908.4 361.7,1910 363.2,1910 363.2,1910.8 364.7,1910.8 364.7,1912.2 366.2,1912.2 366.2,1913.1 367.7,1913.1 367.7,1914.4 369.3,1914.4 369.3,1916.5 370.9,1916.5 370.9,1918.2 372.6,1918.2 372.6,1920.3 374.2,1920.3 374.2,1921.8 375.8,1921.8 375.8,1924.3 377.5,1924.3 377.5,1925.8 379.1,1925.8 379.1,1928 380.7,1928 380.7,1930.2 382.3,1930.2 382.3,1931.7 384,1931.7 384,1934.1 385.6,1934.1 385.6,1935.5 387.2,1935.5 387.2,1937.9 388.9,1937.9 388.9,1939.6 390.5,1939.6 390.5,1941.6 392.1,1941.6 392.1,1942.9 393.7,1942.9 393.7,1943.3 395.3,1943.3 395.3,1944.9 397,1944.9 397,1945.4 398.6,1945.4 398.6,1946.7 400.2,1946.7 400.2,1947.2 401.8,1947.2 401.8,1948.5 403.4,1948.5 403.4,1949.9 405,1949.9 405,1950.7 406.5,1950.7 406.5,1952.1 408.1,1952.1 408.1,1952.9 409.7,1952.9 409.7,1954.4 411.2,1954.4 411.2,1955.1 412.8,1955.1 412.8,1956.4 414.4,1956.4 414.4,1957.6 416,1957.6 416,1958.4 417.5,1958.4 417.5,1959.8 419.1,1959.8 419.1,1960.3 420.7,1960.3 420.7,1961.9 422.3,1961.9 422.3,1962.5 423.9,1962.5 423.9,1963.9 425.4,1963.9 425.4,1964.5 427,1964.5 427,1965.9 428.6,1965.9 428.6,1966.5 430.2,1966.5 430.2,1968 431.7,1968 431.7,1968.7 433.3,1968.7 433.3,1970 434.9,1970 434.9,1970.9 436.5,1970.9 436.5,1971.2 438.1,1971.2 438.1,1972.7 439.8,1972.7 439.8,1973.1 441.4,1973.1 441.4,1974.3 443,1974.3 443,1974.5 444.6,1974.5 444.6,1975.7 446.2,1975.7 446.2,1976.7 447.7,1976.7 447.7,1976.7 449.2,1976.7 449.2,1977.9 450.7,1977.9 450.7,1977.9 452.2,1977.9 452.2,1979.2 453.8,1979.2 453.8,1979.3 455.3,1979.3 455.3,1980.4 456.8,1980.4 456.8,1980.4 458.3,1980.4 458.3,1981.4 459.9,1981.4 459.9,1981.9 461.4,1981.9 461.4,1981.8 462.9,1981.8 462.9,1982.4 464.4,1982.4 464.4,1982.2 465.9,1982.2 465.9,1983 467.4,1983 467.4,1982.6 468.9,1982.6 468.9,1983.6 470.4,1983.6 470.4,1983.3 471.9,1983.3 471.9,1983.7 473.5,1983.7 473.5,1983.9 475,1983.9 475,1983.6 476.5,1983.6 476.5,1984.4 478,1984.4 478,1983.8 479.5,1983.8 479.5,1984.6 481,1984.6 481,1984 482.5,1984 482.5,1984.7 484,1984.7 484,1984.6 485.5,1984.6 485.5,1984.8 487.1,1984.8 487.1,1985.1 488.6,1985.1 488.6,1984.5 490.1,1984.5 490.1,1984.9 491.6,1984.9 491.6,1984.4 493.1,1984.4 493.1,1984.9 494.7,1984.9 494.7,1984.7 496.2,1984.7 496.2,1985 497.7,1985 497.7,1984.7 499.2,1984.7 499.2,1984.8 500.8,1984.8 500.8,1984.3 502.2,1984.3 502.2,1983.6 503.8,1983.6 503.8,1983.2 505.2,1983.2 505.2,1982.4 506.8,1982.4 506.8,1982.3 508.2,1982.3 508.2,1981.4 509.8,1981.4 509.8,1978.2 511.3,1978.2 511.3,1976.1 512.8,1976.1 512.8,1972.7 514.3,1972.7 514.3,1970.4 515.8,1970.4 515.8,1967.1 517.3,1967.1 517.3,1964.4 518.9,1964.4 518.9,1962.2 520.5,1962.2 520.5,1959 522.2,1959 522.2,1956.7 523.8,1956.7 523.8,1953.8 525.4,1953.8 525.4,1951.5 527.1,1951.5 527.1,1948.5 528.7,1948.5 528.7,1946.2 530.3,1946.2 530.3,1942.7 531.9,1942.7 531.9,1938.9 533.5,1938.9 533.5,1935.4 535,1935.4 535,1931.6 536.6,1931.6 536.6,1928 538.3,1928 538.3,1929.9 540.2,1929.9 540.2,1930.9 542.2,1930.9 542.2,1932.6 543.9,1932.6 543.9,1939 545.4,1939 545.4,1944.4 546.9,1944.4 546.9,1950.7 548.6,1950.7 548.6,1953.2 550.2,1953.2 550.2,1954.9 552,1954.9 552,1957.8 553.6,1957.8 553.6,1959.8 555.3,1959.8 555.3,1957.5 556.8,1957.5 556.8,1955.7 558.3,1955.7 558.3,1952.8 559.8,1952.8 559.8,1951 561.3,1951 561.3,1948.3 562.8,1948.3 562.8,1946.2 564.4,1946.2 564.4,1948.1 565.9,1948.1 565.9,1949.1 567.4,1949.1 567.4,1950.7 569,1950.7 569,1959.9 570.6,1959.9 570.6,1968.8 572.4,1968.8 572.4,1978.2 574,1978.2 574,1987.1 575.8,1987.1 575.8,1989.6 577.5,1989.6 577.5,1993 579.1,1993 579.1,1995.2 580.9,1995.2 580.9,1998.4 582.5,1998.4 582.5,1999.1 584,1999.1 584,1999.3 585.5,1999.3 585.5,2000.4 587,2000.4 587,2000.6 588.5,2000.6 588.5,2001.7 590.1,2001.7 590.1,2001.9 591.6,2001.9 591.6,2003.1 593.1,2003.1 593.1,2003.1 594.6,2003.1 594.6,2004.1 596.2,2004.1 596.2,2004.7 597.7,2004.7 597.7,2004.5 599.2,2004.5 599.2,2005.3 600.7,2005.3 600.7,2005.2 602.2,2005.2 602.2,2006.2 603.7,2006.2 603.7,2006.1 605.2,2006.1 605.2,2007.1 606.7,2007.1 606.7,2007 608.2,2007 608.2,2007.5 609.8,2007.5 609.8,2007.8 611.3,2007.8 611.3,2007.2 612.8,2007.2 612.8,2007.7 614.3,2007.7 614.3,2007.4 615.8,2007.4 615.8,2007.7 617.3,2007.7 617.3,2007.3 618.9,2007.3 618.9,2007.8 620.4,2007.8 620.4,2007.3 621.9,2007.3 621.9,2007.6 623.4,2007.6 623.4,2007.2 624.9,2007.2 624.9,2007.9 626.4,2007.9 626.4,2007.5 628,2007.5 628,2007.1 629.5,2007.1 629.5,2007.5 631,2007.5 631,2007.1 632.5,2007.1 632.5,2007.5 634,2007.5 634,2006.8 635.5,2006.8 635.5,2007.3 637,2007.3 637,2006.8 638.5,2006.8 638.5,2007.1 640,2007.1 640,2006.3 641.5,2006.3 641.5,2006.7 643,2006.7 643,2006.3 644.5,2006.3 644.5,2006.4 646.1,2006.4 646.1,2004.8 647.6,2004.8 647.6,2002.2 649.1,2002.2 649.1,2000.7 650.7,2000.7 650.7,2000.3 652.2,2000.3 652.2,1999.1 653.7,1999.1 653.7,1998.5 655.2,1998.5 655.2,1997.3 656.7,1997.3 656.7,1997.1 658.2,1997.1 658.2,1996.2 659.8,1996.2 659.8,1995.4 661.3,1995.4 661.3,1995.7 662.8,1995.7 662.8,1994.7 664.3,1994.7 664.3,1994.8 665.8,1994.8 665.8,1993.9 667.3,1993.9 667.3,1994.2 668.8,1994.2 668.8,1993.5 670.3,1993.5 670.3,1993.3 671.8,1993.3 671.8,1992.8 673.5,1992.8 673.5,1991.6 675.1,1991.6 675.1,1990.7 676.9,1990.7 676.9,1989 678.5,1989 678.5,1988.2 680.2,1988.2 680.2,1981.2 681.9,1981.2 681.9,1973.5 683.6,1973.5 683.6,1971.3 685.2,1971.3 685.2,1970.1 686.8,1970.1 686.8,1967.7 688.4,1967.7 688.4,1966.5 690,1966.5 690,1964.4 691.5,1964.4 691.5,1965.6 693,1965.6 693,1967.8 694.5,1967.8 694.5,1968.9 696.8,1968.9 696.8,1981.5 699.1,1981.5 699.1,1987.6 701,1987.6 701,1994.7 702.8,1994.7 702.8,2000.8 704.5,2000.8 704.5,2001.7 706.2,2001.7 706.2,2003.1 707.9,2003.1 707.9,2003.8 709.5,2003.8 709.5,2005.3 711.2,2005.3 711.2,2006.2 712.8,2006.2 712.8,2006 714.4,2006 714.4,2006.5 716,2006.5 716,2006.4 717.6,2006.4 717.6,2007 719.2,2007 719.2,2006.7 720.8,2006.7 720.8,2007 722.4,2007 722.4,2007 724,2007 724,2007.2 725.6,2007.2 725.6,2007.2 727.2,2007.2 727.2,2007.7 728.8,2007.7 728.8,2007.3 730.4,2007.3 730.4,2007.6 732,2007.6 732,2009.3 733.6,2009.3 733.6,2010.6 735.2,2010.6 735.2,2012.6 736.8,2012.6 736.8,2013.9 738.4,2013.9 738.4,2015.7 740,2015.7 740,2017.2 741.7,2017.2 741.7,2021.2 743.5,2021.2 743.5,2025.7 745.4,2025.7 745.4,2029.6 747.3,2029.6 747.3,2024.7 749.4,2024.7 749.4,2020 751.2,2020 751.2,2019.8 752.8,2019.8 752.8,2019 754.3,2019 754.3,2019.2 755.9,2019.2 755.9,2018.1 757.5,2018.1 757.5,2018.2 759,2018.2 759,2017.5 760.6,2017.5 760.6,2017.2 762.2,2017.2 762.2,2015.7 763.9,2015.7 763.9,2013.7 765.5,2013.7 765.5,2012.7 767.1,2012.7 767.1,2010.3 768.8,2010.3 768.8,2009 770.4,2009 770.4,2008.7 771.9,2008.7 771.9,2008 773.4,2008 773.4,2008.2 774.9,2008.2 774.9,2007.1 776.4,2007.1 776.4,2007.5 777.9,2007.5 777.9,2006.5 779.4,2006.5 779.4,2006.5 780.9,2006.5 780.9,2005.9 782.4,2005.9 782.4,2006 783.9,2006 783.9,2004.9 785.4,2004.9 785.4,2004.9 786.9,2004.9 786.9,2004.7 788.5,2004.7 788.5,2003.6 790.1,2003.6 790.1,2003.5 791.7,2003.5 791.7,2002.3 793.3,2002.3 793.3,2002.2 794.9,2002.2 794.9,2001.3 796.5,2001.3 796.5,2001.1 798.1,2001.1 798.1,2000.1 799.7,2000.1 799.7,1999.8 801.3,1999.8 801.3,1999.1 802.9,1999.1 802.9,1999 804.5,1999 804.5,1998 806.1,1998 806.1,1997.4 807.6,1997.4 807.6,1997.4 809.2,1997.4 809.2,1996.6 810.8,1996.6 810.8,1996.7 812.3,1996.7 812.3,1995.7 813.9,1995.7 813.9,1995.9 815.5,1995.9 815.5,1995.2 817,1995.2 817,1994.9 818.6,1994.9 818.6,1994.3 820.2,1994.3 820.2,1994.3 821.7,1994.3 821.7,1993.3 823.3,1993.3 823.3,1993.5 824.9,1993.5 824.9,1992.8 826.4,1992.8 826.4,1992.5 828,1992.5 828,1992.8 829.5,1992.8 829.5,1992.3 831,1992.3 831,1992.7 832.5,1992.7 832.5,1992.2 834,1992.2 834,1992.8 835.5,1992.8 835.5,1992.4 837,1992.4 837,1992.7 838.5,1992.7 838.5,1992.4 840,1992.4 840,1992.9 841.5,1992.9 841.5,1992.1 843,1992.1 843,1992.5 844.5,1992.5 844.5,1992.3 846,1992.3 846,1991.4 847.5,1991.4 847.5,1991.3 849,1991.3 849,1990.3 850.5,1990.3 850.5,1990.1 852,1990.1 852,1989.4 853.5,1989.4 853.5,1989.4 855,1989.4 855,1988.2 856.5,1988.2 856.5,1988.3 858,1988.3 858,1987.4 859.5,1987.4 859.5,1987 861,1987 861,1986.8 862.5,1986.8 862.5,1985.6 864,1985.6 864,1985.6 865.5,1985.6 865.5,1984.9 867,1984.9 867,1984.9 868.5,1984.9 868.5,1983.8 870,1983.8 870,1983.7 871.5,1983.7 871.5,1982.6 873,1982.6 873,1982.8 874.5,1982.8 874.5,1981.8 876,1981.8 876,1981.5 877.5,1981.5 877.5,1980.9 879.2,1980.9 879.2,1979.7 880.8,1979.7 880.8,1979.1 882.4,1979.1 882.4,1978 884.1,1978 884.1,1977.5 885.7,1977.5 885.7,1976.4 887.4,1976.4 887.4,1976.1 889,1976.1 889,1974.8 890.6,1974.8 890.6,1974.2 892.3,1974.2 892.3,1973.3 893.9,1973.3 893.9,1972.5 895.4,1972.5 895.4,1972.1 896.9,1972.1 896.9,1970.9 898.4,1970.9 898.4,1970.5 899.9,1970.5 899.9,1969.3 901.4,1969.3 901.4,1969.1 902.9,1969.1 902.9,1967.7 904.4,1967.7 904.4,1967.4 905.9,1967.4 905.9,1966.4 907.4,1966.4 907.4,1965.9 908.9,1965.9 908.9,1965.1 910.4,1965.1 910.4,1964 911.9,1964 911.9,1963.5 913.4,1963.5 913.4,1962.2 914.9,1962.2 914.9,1961.6 916.5,1961.6 916.5,1960.3 918,1960.3 918,1960 919.5,1960 919.5,1958.3 921,1958.3 921,1958.1 922.5,1958.1 922.5,1956.8 924.1,1956.8 924.1,1955.4 925.7,1955.4 925.7,1954.8 927.2,1954.8 927.2,1953 928.8,1953 928.8,1952.2 930.4,1952.2 930.4,1950.8 931.9,1950.8 931.9,1950.2 933.5,1950.2 933.5,1948.6 935.1,1948.6 935.1,1946.7 936.8,1946.7 936.8,1945.6 938.4,1945.6 938.4,1943.4 940,1943.4 940,1942.4 941.7,1942.4 941.7,1940.4 943.3,1940.4 943.3,1937.1 944.9,1937.1 944.9,1934.1 946.5,1934.1 946.5,1930.7 948.1,1930.7 948.1,1927.9 949.7,1927.9 949.7,1924.1 951.3,1924.1 951.3,1921.2 953.2,1921.2 953.2,1928.3 955.2,1928.3 955.2,1934.9 957.2,1934.9 957.2,1932 959,1932 959,1929.6 960.9,1929.6 960.9,1926.6 962.6,1926.6 962.6,1920.7 964.3,1920.7 964.3,1915.2 965.9,1915.2 965.9,1908.9 967.5,1908.9 967.5,1903.9 969.2,1903.9 969.2,1897.8 970.9,1897.8 970.9,1898.5 972.6,1898.5 972.6,1900 974.3,1900 974.3,1900.5 976,1900.5 976,1901.9 977.6,1901.9 977.6,1902.6 979.1,1902.6 979.1,1902.6 980.6,1902.6 980.6,1903.5 982.1,1903.5 982.1,1903.2 983.6,1903.2 983.6,1904 985.1,1904 985.1,1904.2 986.6,1904.2 986.6,1904.7 988.2,1904.7 988.2,1904 989.9,1904 989.9,1902.8 991.5,1902.8 991.5,1902.4 993.2,1902.4 993.2,1901.3 994.9,1901.3 994.9,1900.6 996.5,1900.6 996.5,1898.8 998.2,1898.8 998.2,1896.6 999.8,1896.6 999.8,1895 1001.4,1895 1001.4,1892.7 1003.1,1892.7 1003.1,1891 1004.7,1891 1004.7,1888 1006.3,1888 1006.3,1884.4 1007.8,1884.4 1007.8,1881.8 1009.4,1881.8 1009.4,1878.2 1011,1878.2 1011,1875.7 1012.5,1875.7 1012.5,1871.9 1014.1,1871.9 1014.1,1869 1015.8,1869 1015.8,1872 1017.5,1872 1017.5,1874.4 1019.2,1874.4 1019.2,1877.4 1020.9,1877.4 1020.9,1880 1022.6,1880 1022.6,1879.9 1024.2,1879.9 1024.2,1880.6 1025.8,1880.6 1025.8,1880.6 1027.4,1880.6 1027.4,1881.1 1029,1881.1 1029,1880.9 1030.6,1880.9 1030.6,1881.4 1032.2,1881.4 1032.2,1881.8 1033.9,1881.8 1033.9,1881.8 1035.5,1881.8 1035.5,1882.6 1037.1,1882.6 1037.1,1882.1 1038.8,1882.1 1038.8,1882.7 1041,1882.7 1041,1877.2 1043.2,1877.2 1043.2,1876.6 1044.7,1876.6 1044.7,1875.3 1046.3,1875.3 1046.3,1875.1 1047.8,1875.1 1047.8,1873.9 1049.4,1873.9 1049.4,1873.5 1051,1873.5 1051,1872.4 1052.5,1872.4 1052.5,1871.7 1054.1,1871.7 1054.1,1871 1055.7,1871 1055.7,1869.5 1057.2,1869.5 1057.2,1868.9 1058.8,1868.9 1058.8,1867.6 1060.4,1867.6 1060.4,1867 1061.9,1867 1061.9,1865.6 1063.5,1865.6 1063.5,1864.9 1065.1,1864.9 1065.1,1863.9 1066.7,1863.9 1066.7,1861.8 1068.2,1861.8 1068.2,1860.9 1069.8,1860.9 1069.8,1859.2 1071.4,1859.2 1071.4,1858.3 1072.9,1858.3 1072.9,1856.3 1074.5,1856.3 1074.5,1855.3 1076.1,1855.3 1076.1,1854.9 1077.7,1854.9 1077.7,1854 1079.2,1854 1079.2,1853.7 1080.8,1853.7 1080.8,1852.8 1082.4,1852.8 1082.4,1852.7 1083.9,1852.7 1083.9,1851.4 1085.5,1851.4 1085.5,1851.2 1087.1,1851.2 1087.1,1851.6 1088.6,1851.6 1088.6,1851.3 1090.2,1851.3 1090.2,1852 1091.8,1852 1091.8,1851.8 1093.3,1851.8 1093.3,1852.3 1094.9,1852.3 1094.9,1852 1096.4,1852 1096.4,1852.5 1098.6,1852.5 1098.6,1854.6 1100.8,1854.6 1100.8,1856.2 1102.5,1856.2 1102.5,1857.1 1104.1,1857.1 1104.1,1859.1 1105.7,1859.1 1105.7,1860.2 1107.4,1860.2 1107.4,1862 1109,1862 1109,1862.8 1110.6,1862.8 1110.6,1864.8 1112.3,1864.8 1112.3,1866 1113.9,1866 1113.9,1866.3 1115.4,1866.3 1115.4,1867.2 1116.9,1867.2 1116.9,1867.1 1118.4,1867.1 1118.4,1868.4 1119.9,1868.4 1119.9,1868.2 1121.4,1868.2 1121.4,1869.2 1122.9,1869.2 1122.9,1869.3 1124.5,1869.3 1124.5,1870.4 1126,1870.4 1126,1870.4 1127.5,1870.4 1127.5,1871.3 1129,1871.3 1129,1871.5 1130.5,1871.5 1130.5,1872.5 1132,1872.5 1132,1872.6 1133.6,1872.6 1133.6,1872.6 1135.1,1872.6 1135.1,1873.5 1136.6,1873.5 1136.6,1873.2 1138.2,1873.2 1138.2,1874.2 1139.7,1874.2 1139.7,1874.1 1141.2,1874.1 1141.2,1874.8 1142.8,1874.8 1142.8,1874.8 1144.3,1874.8 1144.3,1875.5 1145.8,1875.5 1145.8,1875.4 1147.4,1875.4 1147.4,1876.1 1148.9,1876.1 1148.9,1875.9 1150.4,1875.9 1150.4,1876.7 1152,1876.7 1152,1876.7 1153.5,1876.7 1153.5,1877.5 1155,1877.5 1155,1877.5 1156.6,1877.5 1156.6,1877.2 1158.3,1877.2 1158.3,1877.5 1159.9,1877.5 1159.9,1876.6 1161.5,1876.6 1161.5,1877 1163.2,1877 1163.2,1876.4 1164.8,1876.4 1164.8,1876.9 1166.5,1876.9 1166.5,1876.1 1168.1,1876.1 1168.1,1876.5 1169.7,1876.5 1169.7,1876 1171.4,1876 1171.4,1875.9 1173,1875.9 1173,1875.5 1174.7,1875.5 1174.7,1874.3 1176.3,1874.3 1176.3,1874.1 1177.9,1874.1 1177.9,1873.1 1179.6,1873.1 1179.6,1873 1181.2,1873 1181.2,1872.1 1182.8,1872.1 1182.8,1872 1184.5,1872 1184.5,1871 1186.1,1871 1186.1,1871.2 1187.8,1871.2 1187.8,1872 1189.4,1872 1189.4,1871.8 1191,1871.8 1191,1872.8 1192.7,1872.8 1192.7,1872.6 1194.3,1872.6 1194.3,1873.6 1195.9,1873.6 1195.9,1873.5 1197.6,1873.5 1197.6,1874.2 1199.2,1874.2 1199.2,1874.4 1200.7,1874.4 1200.7,1874 1202.2,1874 1202.2,1874.8 1203.8,1874.8 1203.8,1874.4 1205.3,1874.4 1205.3,1875.2 1206.8,1875.2 1206.8,1874.7 1208.4,1874.7 1208.4,1875.1 1209.9,1875.1 1209.9,1874.9 1211.4,1874.9 1211.4,1875.3 1213,1875.3 1213,1875.3 1214.5,1875.3 1214.5,1875.8 1216,1875.8 1216,1875.2 1217.6,1875.2 1217.6,1876 1219.1,1876 1219.1,1875.5 1220.6,1875.5 1220.6,1875.9 1222.2,1875.9 1222.2,1877.3 1223.9,1877.3 1223.9,1878.1 1225.5,1878.1 1225.5,1879.7 1227.1,1879.7 1227.1,1880.5 1228.8,1880.5 1228.8,1882.4 1230.4,1882.4 1230.4,1883.1 1232,1883.1 1232,1884.6 1233.7,1884.6 1233.7,1885.7 1235.3,1885.7 1235.3,1887.2 1237,1887.2 1237,1889.1 1238.6,1889.1 1238.6,1890.2 1240.2,1890.2 1240.2,1892.6 1241.9,1892.6 1241.9,1893.7 1243.5,1893.7 1243.5,1895.6 1245.1,1895.6 1245.1,1896.9 1246.8,1896.9 1246.8,1898.8 1248.4,1898.8 1248.4,1900.6 1250.1,1900.6 1250.1,1901.5 1251.7,1901.5 1251.7,1903.4 1253.3,1903.4 1253.3,1904.4 1255,1904.4 1255,1906.1 1256.6,1906.1 1256.6,1907.1 1258.2,1907.1 1258.2,1909.2 1259.9,1909.2 1259.9,1910.3 1261.5,1910.3 1261.5,1910.5 1263.2,1910.5 1263.2,1911.4 1264.8,1911.4 1264.8,1911.4 1266.4,1911.4 1266.4,1912.3 1268.1,1912.3 1268.1,1912.1 1269.7,1912.1 1269.7,1913 1271.3,1913 1271.3,1913 1273,1913 1273,1913.6 1274.6,1913.6 1274.6,1913.3 1276.3,1913.3 1276.3,1912.4 1277.9,1912.4 1277.9,1912.3 1279.6,1912.3 1279.6,1911.1 1281.2,1911.1 1281.2,1911.2 1282.9,1911.2 1282.9,1910.3 1284.5,1910.3 1284.5,1902 1286.2,1902 1286.2,1894 1287.8,1894 1287.8,1885.7 1289.9,1885.7 1289.9,1859.5 1292,1859.5 1292,1865.9 1293.7,1865.9 1293.7,1872.6 1295.4,1872.6 1295.4,1880.4 1297.3,1880.4 1297.3,1887.7 1299.2,1887.7 1299.2,1895.6 1300.9,1895.6 1300.9,1902.4 1302.5,1902.4 1302.5,1908.4 1304.2,1908.4 1304.2,1915.3 1305.8,1915.3 1305.8,1921.8 1307.4,1921.8 1307.4,1924 1309.1,1924 1309.1,1926.8 1310.7,1926.8 1310.7,1928.9 1312.4,1928.9 1312.4,1932 1314,1932 1314,1933.8 1315.7,1933.8 1315.7,1936.6 1317.3,1936.6 1317.3,1936.8 1318.9,1936.8 1318.9,1936.4 1320.6,1936.4 1320.6,1936.9 1322.2,1936.9 1322.2,1936.2 1323.8,1936.2 1323.8,1936.7 1325.5,1936.7 1325.5,1936.6 1327.1,1936.6 1327.1,1938.1 1328.8,1938.1 1328.8,1940.2 1330.4,1940.2 1330.4,1941.2 1332,1941.2 1332,1943.3 1333.7,1943.3 1333.7,1944.7 1335.3,1944.7 1335.3,1946.4 1336.9,1946.4 1336.9,1946.5 1338.6,1946.5 1338.6,1946.2 1340.2,1946.2 1340.2,1946.7 1341.9,1946.7 1341.9,1946.1 1343.5,1946.1 1343.5,1946.5 1345.2,1946.5 1345.2,1946.4 1346.8,1946.4 1346.8,1920.9 1348.5,1920.9 1348.5,1895.6 1350.1,1895.6 1350.1,1885.8 1351.7,1885.8 1351.7,1875.9 1353.3,1875.9 1353.3,1895.4 1355,1895.4 1355,1915.2 1356.6,1915.2 1356.6,1920.2 1358.3,1920.2 1358.3,1925 1359.9,1925 1359.9,1930.2 1361.6,1930.2 1361.6,1934.9 1363.2,1934.9 1363.2,1936.4 1364.9,1936.4 1364.9,1938.3 1366.5,1938.3 1366.5,1939.8 1368.2,1939.8 1368.2,1941.5 1369.8,1941.5 1369.8,1939.6 1371.4,1939.6 1371.4,1936.8 1373.1,1936.8 1373.1,1935 1374.7,1935 1374.7,1932.4 1376.3,1932.4 1376.3,1930.9 1378,1930.9 1378,1928.4 1379.6,1928.4 1379.6,1928.3 1381.3,1928.3 1381.3,1928.8 1382.9,1928.8 1382.9,1928.3 1384.5,1928.3 1384.5,1928.5 1386.2,1928.5 1386.2,1928.4 1387.8,1928.4 1387.8,1924.2 1389.5,1924.2 1389.5,1920.2 1391.1,1920.2 1391.1,1922.4 1392.8,1922.4 1392.8,1923.8 1394.4,1923.8 1394.4,1926.2 1396,1926.2 1396,1927.8 1397.7,1927.8 1397.7,1930 1399.3,1930 1399.3,1931.4 1400.9,1931.4 1400.9,1932.1 1402.6,1932.1 1402.6,1933.4 1404.2,1933.4 1404.2,1934.1 1405.8,1934.1 1405.8,1935.6 1407.5,1935.6 1407.5,1936.6 1409.1,1936.6 1409.1,1935.4 1410.8,1935.4 1410.8,1934.8 1412.4,1934.8 1412.4,1933.3 1414,1933.3 1414,1932.7 1415.7,1932.7 1415.7,1931.6 1417.3,1931.6 1417.3,1932.2 1419,1932.2 1419,1933.2 1420.6,1933.2 1420.6,1933.3 1422.2,1933.3 1422.2,1934.3 1423.9,1934.3 1423.9,1934.9 1425.5,1934.9 1425.5,1933.7 1427.2,1933.7 1427.2,1933.1 1428.8,1933.1 1428.8,1931.6 1430.4,1931.6 1430.4,1931.3 1432.1,1931.3 1432.1,1930 1432.9,1930" fill="none" stroke="#06067c" stroke-width="2.5" stroke-linejoin="miter" stroke-miterlimit="3" />
<text transform="translate(331.3 1733.4) rotate(-90)" font-family="'Liberation Sans', sans-serif" font-size="23" font-weight="normal" fill="#000" textLength="54" lengthAdjust="spacingAndGlyphs" >3499.6</text>
<line x1="329.9" y1="1738.3" x2="329.9" y2="1773.5" stroke="#000" stroke-width="3.0" stroke-linecap="butt"/>
<text transform="translate(350.7 1722.1) rotate(-90)" font-family="'Liberation Sans', sans-serif" font-size="23" font-weight="normal" fill="#000" textLength="54" lengthAdjust="spacingAndGlyphs" >3446.6</text>
<line x1="345.8" y1="1728.1" x2="345.8" y2="1763.3" stroke="#000" stroke-width="3.0" stroke-linecap="butt"/>
<text transform="translate(541.1 1703.9) rotate(-90)" font-family="'Liberation Sans', sans-serif" font-size="23" font-weight="normal" fill="#000" textLength="54" lengthAdjust="spacingAndGlyphs" >2926.7</text>
<line x1="537.9" y1="1710" x2="537.9" y2="1745.1" stroke="#000" stroke-width="3.0" stroke-linecap="butt"/>
<text transform="translate(568.4 1713) rotate(-90)" font-family="'Liberation Sans', sans-serif" font-size="23" font-weight="normal" fill="#000" textLength="54" lengthAdjust="spacingAndGlyphs" >2855.9</text>
<line x1="563.1" y1="1721.3" x2="563.1" y2="1756.5" stroke="#000" stroke-width="3.0" stroke-linecap="butt"/>
<text transform="translate(695.6 1709.6) rotate(-90)" font-family="'Liberation Sans', sans-serif" font-size="23" font-weight="normal" fill="#000" textLength="54" lengthAdjust="spacingAndGlyphs" >2509.8</text>
<line x1="691.9" y1="1716.7" x2="691.9" y2="1750.8" stroke="#000" stroke-width="3.0" stroke-linecap="butt"/>
<text transform="translate(735.6 1786.1) rotate(-90)" font-family="'Liberation Sans', sans-serif" font-size="23" font-weight="normal" fill="#000" textLength="54" lengthAdjust="spacingAndGlyphs" >2396.6</text>
<line x1="732" y1="1792.1" x2="732" y2="1826.4" stroke="#000" stroke-width="3.0" stroke-linecap="butt"/>
<text transform="translate(757.6 1786.1) rotate(-90)" font-family="'Liberation Sans', sans-serif" font-size="23" font-weight="normal" fill="#000" textLength="54" lengthAdjust="spacingAndGlyphs" >2336.3</text>
<line x1="755.3" y1="1792.1" x2="755.3" y2="1826.4" stroke="#000" stroke-width="3.0" stroke-linecap="butt"/>
<text transform="translate(956.6 1643.3) rotate(-90)" font-family="'Liberation Sans', sans-serif" font-size="23" font-weight="normal" fill="#000" textLength="54" lengthAdjust="spacingAndGlyphs" >1797.1</text>
<line x1="953" y1="1649.4" x2="953" y2="1685.1" stroke="#000" stroke-width="3.0" stroke-linecap="butt"/>
<text transform="translate(978.5 1621.4) rotate(-90)" font-family="'Liberation Sans', sans-serif" font-size="23" font-weight="normal" fill="#000" textLength="54" lengthAdjust="spacingAndGlyphs" >1744.0</text>
<line x1="972.7" y1="1627.4" x2="972.7" y2="1663.1" stroke="#000" stroke-width="3.0" stroke-linecap="butt"/>
<text transform="translate(1017.9 1589.8) rotate(-90)" font-family="'Liberation Sans', sans-serif" font-size="23" font-weight="normal" fill="#000" textLength="54" lengthAdjust="spacingAndGlyphs" >1631.8</text>
<line x1="1013.5" y1="1597.2" x2="1013.5" y2="1631.6" stroke="#000" stroke-width="3.0" stroke-linecap="butt"/>
<text transform="translate(1045.4 1580.2) rotate(-90)" font-family="'Liberation Sans', sans-serif" font-size="23" font-weight="normal" fill="#000" textLength="54" lengthAdjust="spacingAndGlyphs" >1554.0</text>
<line x1="1041.5" y1="1587.6" x2="1041.5" y2="1622" stroke="#000" stroke-width="3.0" stroke-linecap="butt"/>
<text transform="translate(1063.2 1566.5) rotate(-90)" font-family="'Liberation Sans', sans-serif" font-size="23" font-weight="normal" fill="#000" textLength="54" lengthAdjust="spacingAndGlyphs" >1504.8</text>
<line x1="1060.2" y1="1572.5" x2="1060.2" y2="1608.2" stroke="#000" stroke-width="3.0" stroke-linecap="butt"/>
<text transform="translate(1083.8 1555.5) rotate(-90)" font-family="'Liberation Sans', sans-serif" font-size="23" font-weight="normal" fill="#000" textLength="54" lengthAdjust="spacingAndGlyphs" >1453.2</text>
<line x1="1080" y1="1561.6" x2="1080" y2="1595.9" stroke="#000" stroke-width="3.0" stroke-linecap="butt"/>
<text transform="translate(1186.8 1603.5) rotate(-90)" font-family="'Liberation Sans', sans-serif" font-size="23" font-weight="normal" fill="#000" textLength="54" lengthAdjust="spacingAndGlyphs" >1177.6</text>
<line x1="1180.4" y1="1609.6" x2="1180.4" y2="1645.3" stroke="#000" stroke-width="3.0" stroke-linecap="butt"/>
<text transform="translate(1219.7 1620) rotate(-90)" font-family="'Liberation Sans', sans-serif" font-size="23" font-weight="normal" fill="#000" textLength="54" lengthAdjust="spacingAndGlyphs" >1078.6</text>
<line x1="1215.3" y1="1624.7" x2="1215.3" y2="1661.8" stroke="#000" stroke-width="3.0" stroke-linecap="butt"/>
<text transform="translate(1297.1 1591.3) rotate(-90)" font-family="'Liberation Sans', sans-serif" font-size="23" font-weight="normal" fill="#000" textLength="44.5" lengthAdjust="spacingAndGlyphs" >874.7</text>
<line x1="1290.9" y1="1597" x2="1290.9" y2="1639.7" stroke="#000" stroke-width="3.0" stroke-linecap="butt"/>
<text transform="translate(1334.8 1730.8) rotate(-90)" font-family="'Liberation Sans', sans-serif" font-size="23" font-weight="normal" fill="#000" textLength="44.5" lengthAdjust="spacingAndGlyphs" >772.4</text>
<line x1="1329" y1="1736.5" x2="1329" y2="1772.6" stroke="#000" stroke-width="3.0" stroke-linecap="butt"/>
<text transform="translate(1356.1 1638.8) rotate(-90)" font-family="'Liberation Sans', sans-serif" font-size="23" font-weight="normal" fill="#000" textLength="44.5" lengthAdjust="spacingAndGlyphs" >711.6</text>
<line x1="1352.5" y1="1644.7" x2="1352.5" y2="1680.7" stroke="#000" stroke-width="3.0" stroke-linecap="butt"/>
<text transform="translate(1382.3 1745.5) rotate(-90)" font-family="'Liberation Sans', sans-serif" font-size="23" font-weight="normal" fill="#000" textLength="44.5" lengthAdjust="spacingAndGlyphs" >638.3</text>
<line x1="1378.1" y1="1749.6" x2="1378.1" y2="1785.7" stroke="#000" stroke-width="3.0" stroke-linecap="butt"/>
<text transform="translate(1395.5 1737.3) rotate(-90)" font-family="'Liberation Sans', sans-serif" font-size="23" font-weight="normal" fill="#000" textLength="44.5" lengthAdjust="spacingAndGlyphs" >611.0</text>
<line x1="1389.3" y1="1743" x2="1389.3" y2="1779.1" stroke="#000" stroke-width="3.0" stroke-linecap="butt"/>
<text transform="translate(1426.6 1773.4) rotate(-90)" font-family="'Liberation Sans', sans-serif" font-size="23" font-weight="normal" fill="#000" textLength="44.5" lengthAdjust="spacingAndGlyphs" >517.6</text>
<line x1="1421.4" y1="1777.5" x2="1421.4" y2="1813.6" stroke="#000" stroke-width="3.0" stroke-linecap="butt"/>
<text x="1287.3" y="1997" font-family="'Liberation Sans', sans-serif" font-size="56" font-weight="bold" fill="#e3000f" text-anchor="middle" textLength="26.5" lengthAdjust="spacingAndGlyphs">c</text>
<rect x="1246" y="1931" width="84.2" height="84.3" fill="none" stroke="#333" stroke-width="1.6" rx="1.5"/>
<text x="418.2" y="1602" font-family="'Liberation Sans', sans-serif" font-size="44" font-weight="bold" fill="#dc0008" textLength="100" lengthAdjust="spacingAndGlyphs" text-anchor="start">After</text>
<text x="246" y="2015.2" font-family="'Liberation Sans', sans-serif" font-size="44" font-weight="bold" fill="#dc0008" textLength="131" lengthAdjust="spacingAndGlyphs" text-anchor="start">Before</text>
<line x1="460.5" y1="1621" x2="419.2" y2="1748.4" stroke="#2602c4" stroke-width="4.8" stroke-linecap="round"/>
<polygon points="407.2,1785.5 410.7,1737.2 419.2,1748.4 432.6,1744.3" fill="#3a0ad6"/>
<line x1="403.3" y1="2025.3" x2="415" y2="2004.9" stroke="#2602c4" stroke-width="4.8" stroke-linecap="round"/>
<polygon points="434.3,1971 421,2017.5 415,2004.9 401,2006.1" fill="#3a0ad6"/>
<rect x="0" y="2110.8" width="1499" height="2.2" fill="#bdbdbd"/>
<circle cx="12.6" cy="4.3" r="1.3" fill="#555"/>
<circle cx="12.6" cy="694" r="1.3" fill="#555"/>
<circle cx="17.3" cy="716" r="1.3" fill="#555"/>
<circle cx="18" cy="1433" r="1.3" fill="#555"/>
<circle cx="4.9" cy="1447.9" r="1.3" fill="#555"/>
<circle cx="5.8" cy="2103" r="1.3" fill="#555"/>
</svg>
</body></html>
